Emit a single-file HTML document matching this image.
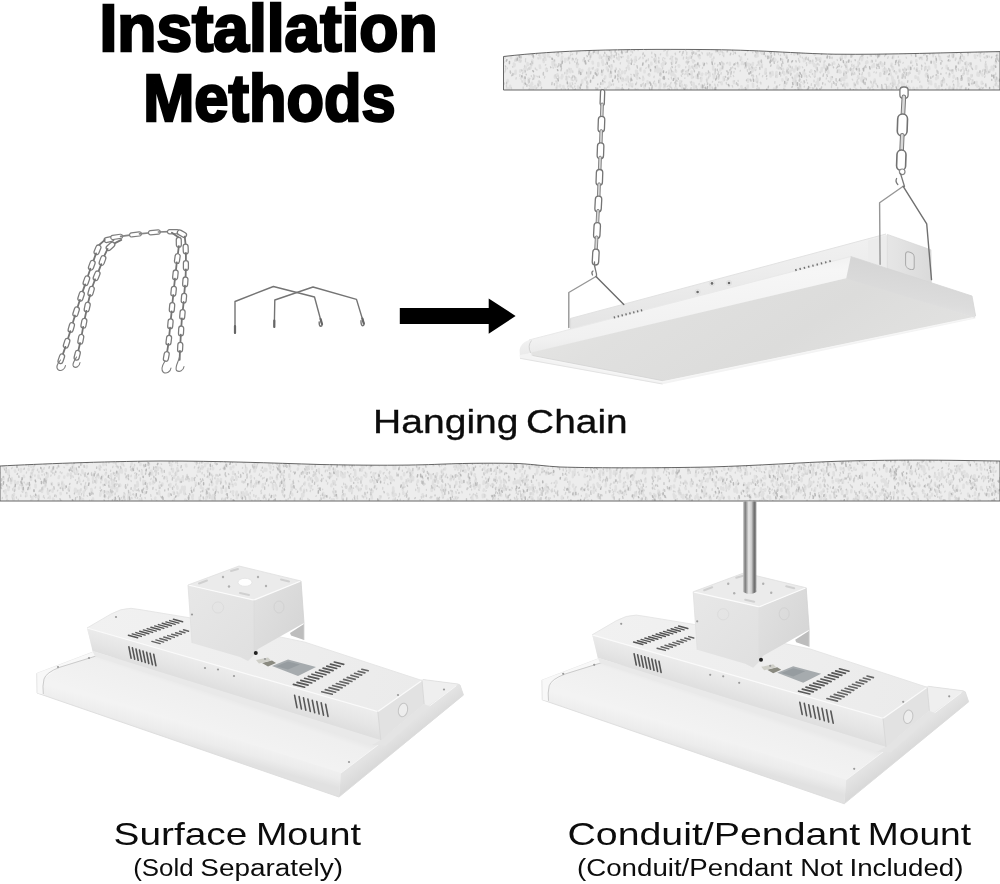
<!DOCTYPE html>
<html lang="en"><head><meta charset="utf-8"><title>Installation Methods</title>
<style>
html,body{margin:0;padding:0;background:#fff;}
body{width:1000px;height:884px;overflow:hidden;font-family:"Liberation Sans",sans-serif;}
svg{display:block;position:absolute;left:0;top:0;}
svg.ov{will-change:transform;}
</style></head><body>
<svg width="1000" height="884" viewBox="0 0 1000 884">
<rect width="1000" height="884" fill="#ffffff"/>
<defs>
<clipPath id="slab1c"><path id="slab1p" d="M503.5,56.5 C560,50 620,49 700,49.5 C760,49.8 795,53.5 835,54.2 C890,54.8 950,52.4 1000,51.6 L1000,90 L503.5,90 Z"/></clipPath>
<clipPath id="slab2c"><path id="slab2p" d="M0,466 C40,464 100,461.5 160,461 C220,461 270,463 320,464.5 C370,465.5 410,465.5 440,464.2 C470,463 500,463 520,463.6 C535,464.5 545,466.2 560,467 C600,468.2 660,468 710,467 C760,465.5 800,462.5 840,461.2 C880,460 920,460 950,460.3 L1000,461 L1000,501 L0,501 Z"/></clipPath>
<linearGradient id="conduit" x1="0" x2="1" y1="0" y2="0">
 <stop offset="0" stop-color="#bdbdbd"/><stop offset="0.16" stop-color="#7e7e7e"/><stop offset="0.42" stop-color="#e6e6e6"/><stop offset="0.62" stop-color="#cfcfcf"/><stop offset="0.84" stop-color="#6c6c6c"/><stop offset="1" stop-color="#9c9c9c"/>
</linearGradient>
</defs>
<g clip-path="url(#slab1c)"><rect x="500" y="40" width="500" height="60" fill="#ededed"/><path d="M569.8,83.6l-0.2,2.5M749.2,66.9l0.3,2.3M549.6,49.2l-0.1,2.7M881.9,48.1l0.2,1.9M616.7,87.7l-0.5,2.8M515.6,70.7l-0.1,2.9M610.6,65.7l-0.3,1.1M720.6,68.8l-0.3,1.5M611.7,67.3l-0.5,1.6M919.3,71.4l-0.3,2.3M996.3,84.1l-0.2,1.2M861.6,77.9l-0.1,2.9M915.5,76.2l0.1,1.6M941.6,83.5l0.1,2.0M520.2,58.2l-0.1,2.6M589.0,71.0l0.2,2.4M689.2,66.4l0.3,2.0M761.9,64.5l-0.5,2.0M524.6,77.5l0.1,3.0M698.6,55.2l0.5,2.0M886.0,70.7l-0.3,2.7M758.3,88.0l-0.0,2.2M636.8,71.0l-0.5,2.9M892.5,82.5l0.2,2.8M905.1,69.8l-0.1,2.1M530.9,84.5l-0.3,2.1M753.8,68.4l-0.2,1.7M770.6,74.2l-0.0,2.2M516.9,57.6l0.1,1.4M930.9,81.5l0.3,2.6M629.9,83.4l-0.4,2.3M511.3,48.6l-0.3,2.5M557.4,74.2l-0.4,1.7M582.3,70.1l-0.2,1.3M856.7,67.1l-0.0,1.6M514.7,64.2l-0.3,1.8M557.1,85.8l-0.3,2.0M804.0,82.3l-0.5,1.0M575.8,78.2l0.2,1.3M840.1,70.9l0.5,1.4M899.5,69.7l0.1,1.4M699.3,72.2l0.1,1.6M532.2,60.5l0.4,2.9M655.3,84.1l0.4,1.6M872.7,65.5l-0.5,1.5M939.7,49.6l0.5,2.6M786.4,55.2l0.5,2.7M852.9,69.4l-0.2,1.8M605.3,76.3l-0.3,1.9M554.9,76.0l-0.0,1.6M664.7,84.6l-0.5,2.8M602.8,61.8l0.3,3.0M671.5,56.9l0.3,2.3M966.3,62.4l0.2,2.8M743.8,89.4l0.2,1.5M545.1,55.1l-0.3,2.8M880.3,73.2l-0.1,2.7M672.1,60.2l0.1,2.7M977.3,85.3l0.1,1.3M554.8,49.6l0.4,1.1M894.7,82.8l0.1,1.7M891.6,63.9l-0.3,2.1M543.6,59.2l0.1,2.8M962.8,67.2l0.3,1.6M914.4,48.5l-0.4,2.3M560.2,85.2l-0.3,1.1M994.1,65.7l-0.3,1.2M623.0,79.2l0.4,1.2M691.0,88.8l-0.2,2.8M628.9,68.0l0.2,1.2M522.7,48.4l-0.2,3.0M799.5,66.9l-0.4,1.6M957.0,88.7l-0.4,2.9M610.0,73.9l0.0,3.0M845.0,75.8l0.0,1.5M655.7,58.3l-0.2,1.2M991.7,66.8l0.1,2.3M970.5,64.4l-0.2,1.6M660.4,83.6l-0.2,2.8M669.2,70.9l0.1,2.2M624.8,48.9l-0.4,1.5M776.9,51.0l0.1,1.2M647.5,81.3l0.4,2.0M579.6,69.1l-0.4,2.6M974.8,55.3l0.5,2.6M911.3,61.4l0.0,1.2M959.9,60.3l-0.4,2.8M955.5,49.3l0.4,1.6M902.5,86.1l0.2,2.7M845.7,55.5l-0.3,1.9M858.3,76.0l-0.4,1.5M981.8,81.9l0.0,2.1M926.1,67.0l-0.2,1.8M631.2,49.0l-0.1,2.3M786.6,50.6l-0.4,1.7M565.2,58.9l-0.1,2.7M702.3,73.7l-0.5,1.5M765.8,69.0l-0.1,2.3M844.2,78.7l-0.0,1.5M741.0,57.5l0.1,1.8M953.7,86.5l0.1,1.6M527.0,51.0l0.4,2.0M582.3,80.2l-0.2,2.8M847.2,83.7l0.2,1.7M869.0,73.0l0.4,2.7M980.2,72.0l-0.2,1.4M611.2,71.9l-0.4,2.5M841.8,78.1l0.0,1.7M584.9,78.7l0.5,1.1M904.5,74.4l0.4,1.5M979.8,53.8l0.3,2.6M830.9,77.4l0.4,1.9M985.7,64.1l-0.1,2.6M584.9,61.7l0.4,1.3M979.8,53.0l-0.1,2.2M561.7,60.4l0.2,1.5M505.0,56.0l-0.5,1.9M814.9,73.4l-0.3,2.7M644.5,70.8l0.1,1.5M627.7,76.7l0.3,2.6M986.9,70.9l0.4,2.0M885.2,72.0l-0.2,1.8M556.7,81.9l0.2,1.2M774.0,88.5l0.5,2.5M570.9,69.0l-0.2,2.1M753.0,63.0l-0.5,2.1M722.8,66.9l-0.1,1.6M892.2,76.7l0.1,2.0M690.6,56.6l-0.2,1.0M800.3,85.0l0.0,2.7M993.5,67.4l-0.1,2.7M873.1,89.5l-0.3,1.6M811.2,70.3l-0.5,1.7M696.4,65.9l0.4,1.8M793.5,78.8l0.2,2.8M747.9,79.3l0.1,2.3M815.9,65.1l0.1,2.3M968.7,80.9l0.3,2.7M908.2,73.4l-0.2,1.7M854.9,84.7l-0.3,2.1M917.0,68.4l-0.5,1.9M756.6,79.3l-0.1,1.8M829.5,48.8l0.4,2.0M846.2,64.9l0.1,2.4M606.8,56.7l-0.2,2.8M540.2,82.9l-0.1,2.0M757.2,78.9l0.2,1.3M857.6,82.2l0.1,1.5M618.4,71.6l0.3,1.3M933.8,61.8l0.5,1.4M854.2,83.4l0.4,1.1M812.4,61.3l0.3,1.9M893.3,56.0l-0.3,2.3M986.6,66.6l0.2,2.8M804.3,59.0l-0.4,2.1M571.6,78.1l0.3,1.7M622.5,78.2l-0.2,2.4M555.9,64.7l-0.4,2.0M595.8,50.3l0.4,2.2M610.6,49.5l0.3,2.4M982.2,73.8l0.3,1.7M561.7,77.1l-0.1,1.2M749.0,63.9l-0.3,1.3M910.6,67.4l-0.3,2.2M858.3,61.9l0.4,2.2M997.2,49.9l0.4,2.6M661.8,64.1l0.4,2.2M701.8,85.0l-0.3,2.5M957.1,48.6l0.2,1.3M531.4,63.9l-0.0,1.3M920.5,86.1l-0.4,1.1M920.8,49.8l-0.4,1.5M548.2,49.2l0.2,2.3M844.3,83.5l-0.1,2.3M816.6,88.7l-0.3,2.3M532.9,87.3l-0.2,2.2M803.9,71.5l-0.4,2.0M678.6,65.3l0.4,1.4M713.8,75.8l0.2,2.4M861.4,79.6l0.5,1.5M578.1,86.6l0.4,2.7M529.2,51.8l-0.0,2.6M687.0,89.4l0.0,1.1M723.3,53.4l0.2,1.8M941.5,49.0l-0.4,2.0M900.8,51.6l-0.1,1.1M867.1,61.2l0.3,1.3M904.0,83.9l-0.1,1.6M625.0,71.4l-0.2,1.7M892.5,88.2l-0.4,2.2M827.3,66.8l0.2,3.0M917.9,77.5l0.4,2.1M916.3,60.2l-0.1,1.3M762.0,52.1l0.1,1.7M524.7,82.2l-0.2,2.3M651.3,62.8l0.2,1.7M752.0,70.1l0.4,1.3M664.8,61.8l0.5,1.1M741.4,86.3l0.5,2.9M908.4,86.9l0.3,2.8M569.9,70.0l0.5,2.2M892.6,77.5l-0.1,2.5M971.3,75.0l-0.0,1.8M989.9,70.3l-0.4,1.3M844.6,71.6l-0.3,2.8M707.3,78.6l-0.4,1.1M774.2,59.2l-0.2,1.2M817.2,70.1l-0.4,1.2M925.8,75.0l0.4,1.3M513.9,63.5l0.2,2.7M644.0,85.4l0.4,2.2M946.7,65.9l0.0,2.4M972.5,81.5l0.3,2.5M999.1,58.8l0.2,1.4M885.9,69.6l-0.1,2.0M941.7,81.4l-0.5,2.2M926.0,67.3l-0.2,1.4M846.6,48.2l-0.2,1.2M943.9,79.4l0.0,2.9M787.3,71.2l0.0,2.1M909.8,88.0l0.1,1.8M656.0,60.7l0.1,2.0M776.3,89.0l0.1,1.3M997.3,78.9l-0.1,2.1M702.9,87.3l0.2,2.8M949.7,86.9l-0.1,2.7M733.8,81.4l0.2,1.7M742.3,62.1l-0.4,1.9M679.2,65.4l-0.3,1.0M632.3,84.0l-0.2,2.2M998.9,58.8l0.2,2.0M846.6,66.2l-0.0,2.6M858.6,68.6l0.2,2.9M548.4,53.4l-0.3,2.9M516.0,58.6l0.5,2.0M701.4,78.4l-0.4,2.7M807.1,89.8l0.0,2.1M675.3,87.7l-0.4,2.9M777.8,65.6l-0.4,2.3M634.9,59.7l0.3,2.0M929.4,81.0l-0.4,2.4M696.7,76.1l0.0,1.6M952.8,52.9l-0.4,2.7M695.0,86.0l0.0,1.4M710.1,85.3l-0.2,3.0M747.8,85.6l-0.3,2.1M880.6,62.2l-0.5,2.0M994.5,75.6l0.5,2.9M636.0,70.7l0.3,1.9M921.7,57.6l0.2,1.5M707.6,53.5l0.1,1.4M800.5,88.3l0.1,2.1M577.0,65.4l0.2,1.6M635.7,57.0l-0.0,1.7M671.2,73.4l0.4,1.4M848.0,70.5l-0.2,1.1M846.0,75.1l0.4,2.6M659.7,68.7l-0.4,1.7M572.6,58.8l0.0,1.2M852.4,71.6l-0.3,2.4M602.1,71.8l-0.1,2.8M505.1,48.8l0.1,1.6M545.0,57.4l0.5,2.4M672.5,73.2l-0.5,2.0M666.9,53.9l0.3,1.5M841.6,49.7l0.2,1.2M554.3,61.3l-0.5,1.5M518.5,53.8l0.4,1.8M820.3,58.2l-0.2,2.4M759.1,61.5l-0.1,2.9M902.4,74.9l0.1,2.7M935.6,65.0l0.1,2.4M765.3,71.7l-0.1,2.1M949.5,74.6l-0.4,2.1M755.7,55.4l-0.1,1.4M774.3,58.5l0.0,1.5M738.2,64.9l-0.1,1.2M828.2,70.9l0.3,2.1M862.4,76.8l-0.2,1.1M842.2,54.5l-0.4,2.8M939.9,57.1l0.3,2.7M669.7,85.3l0.3,1.3M692.7,66.5l0.1,1.2M637.1,76.0l0.1,2.6M507.1,88.0l0.1,2.8M691.6,71.6l-0.0,2.8M890.3,73.1l0.4,1.8M706.0,73.4l-0.0,1.1M521.6,77.6l-0.5,1.0M558.2,53.9l-0.1,2.0M637.6,89.3l0.2,2.8M901.6,82.4l0.3,1.5M622.2,71.6l-0.3,1.7M889.1,86.5l0.4,1.6M675.1,75.6l0.3,3.0M530.7,66.3l-0.2,1.8M908.6,66.5l0.1,2.4M760.9,50.4l0.4,2.3M588.6,75.0l-0.2,2.0M856.1,89.0l0.4,1.0M693.5,83.0l0.2,1.3M552.5,62.1l0.2,2.9M892.9,67.4l-0.0,1.9M887.3,78.4l-0.1,1.4M772.4,72.0l0.3,2.9M577.5,63.8l-0.5,1.2M540.1,55.7l0.2,2.5M899.5,60.1l0.5,1.3M913.5,87.8l-0.1,1.0M818.0,78.9l0.0,2.8M697.2,48.2l0.5,2.6M953.9,75.8l-0.3,1.7M888.2,87.3l-0.3,2.9M793.9,69.6l0.3,1.9M968.1,78.4l0.2,2.4M827.8,70.5l0.3,1.5M562.2,75.0l0.1,1.8M821.8,68.1l-0.3,3.0M509.0,88.1l-0.2,1.6M709.5,73.0l0.2,3.0M661.2,70.5l0.0,1.9M710.6,55.0l-0.1,1.8M602.8,82.3l-0.3,1.7M784.7,83.5l0.1,2.6M866.3,62.1l-0.2,1.3M676.6,59.7l-0.4,1.9M567.7,58.6l0.3,1.4M770.2,56.3l0.4,1.9M790.1,71.3l-0.3,1.8M813.8,51.2l-0.4,2.6M873.9,64.1l0.1,2.4M567.2,70.6l-0.3,1.1M692.7,60.0l0.5,2.3M680.4,83.2l0.2,1.5M675.8,70.5l0.3,1.2M606.8,67.5l0.3,1.6M797.5,73.8l-0.2,2.5M531.9,82.8l0.3,1.6M978.4,74.4l0.4,1.2M817.8,58.3l0.0,1.4M563.4,86.1l0.3,2.4M693.8,86.8l0.2,1.3M629.5,48.2l-0.3,1.2M882.4,63.9l0.1,2.0M636.0,74.8l0.4,2.3M752.9,83.9l0.3,2.9M712.3,59.4l0.3,1.2M567.4,71.5l-0.5,1.9M609.5,82.6l0.4,2.1M954.3,51.9l-0.5,2.4M713.1,66.6l0.1,2.9M597.4,69.4l-0.3,2.0M681.8,84.9l0.3,3.0M535.1,86.0l0.3,1.9M590.9,54.2l-0.2,2.8M524.4,69.0l0.3,3.0M700.0,89.7l0.3,2.6M824.1,64.6l-0.0,2.8M967.5,71.2l-0.0,2.8M715.1,72.7l-0.4,1.6M795.9,83.7l0.4,1.6M894.2,80.6l0.5,1.8M896.1,72.2l0.1,1.2M510.1,85.9l-0.1,1.7M776.8,74.8l-0.0,2.2M818.3,83.6l0.0,1.9M905.7,48.1l-0.2,1.3M609.3,85.6l-0.4,1.3M660.6,69.4l0.5,2.6M926.4,73.6l-0.4,1.1M816.5,82.4l0.5,1.5M776.5,72.1l-0.4,2.2M587.7,87.3l-0.4,1.5M643.4,78.5l-0.3,1.5M640.7,68.2l-0.2,2.5M937.1,89.0l-0.4,2.6M659.8,86.9l-0.4,2.7M722.8,63.3l-0.5,2.5M659.8,79.5l-0.5,2.8M795.4,75.9l-0.1,2.7M986.6,56.3l-0.4,1.2M794.6,53.1l-0.3,1.5M530.5,88.4l0.5,1.7M862.4,57.2l-0.5,2.9M990.9,49.4l0.1,1.5M507.6,80.1l0.3,1.2M520.4,70.2l-0.2,1.4M746.8,63.6l0.2,1.8M600.0,55.6l-0.2,2.4M966.7,65.9l-0.5,1.9M513.3,52.4l0.2,2.3M976.2,66.2l-0.2,2.4M539.8,65.6l0.3,2.4M976.1,83.0l0.1,2.1M752.0,68.1l0.1,2.4M929.0,66.9l0.3,1.9M838.8,70.0l0.3,2.1M804.9,58.9l0.1,1.6M525.8,67.2l-0.3,2.8M723.7,77.4l0.2,2.9M814.0,64.1l0.1,1.9M680.1,81.0l0.3,1.0M871.8,60.9l-0.2,1.0M795.8,81.1l-0.3,2.7M543.6,53.0l0.1,3.0M566.8,77.0l0.1,2.9M618.6,88.4l-0.3,2.4M883.8,69.2l-0.1,2.1M649.0,65.7l-0.0,2.1M933.5,51.1l0.4,1.4M805.1,73.9l-0.3,2.3M699.2,56.8l0.5,1.3M872.7,84.9l0.2,1.0M655.7,68.9l-0.5,2.4M687.3,71.3l0.0,2.7M660.8,73.4l-0.2,2.2M775.4,59.6l-0.2,1.0M546.0,68.7l0.4,2.0M874.7,79.5l-0.2,3.0M688.2,57.7l0.0,1.2M757.1,53.4l0.5,2.8M536.9,48.1l0.2,1.1M926.7,50.8l0.0,1.0M668.4,48.8l-0.3,1.0M602.5,60.4l-0.2,2.1M619.1,56.9l-0.3,2.8M779.0,67.0l-0.1,1.7M510.9,55.8l0.3,2.3M611.5,55.4l-0.4,2.8M898.0,84.9l0.3,1.3M577.6,49.8l-0.2,1.6M796.0,66.6l0.2,2.6M562.2,56.5l-0.4,2.5M976.5,82.1l-0.2,1.4M628.3,65.8l-0.5,1.5M628.1,56.2l-0.0,1.7M937.5,75.7l0.4,2.2M695.1,65.9l0.3,1.5M939.0,86.3l-0.4,2.2M538.9,81.5l0.0,2.8M960.6,87.1l-0.1,2.5M729.8,62.8l-0.0,1.8M511.5,53.3l0.1,1.3M936.2,77.9l-0.0,1.3M814.8,53.7l0.1,1.2M620.0,75.1l0.4,1.3M656.9,66.0l0.4,2.1M958.4,83.5l-0.4,2.4M595.8,70.5l0.2,3.0M598.3,63.0l0.0,2.9M935.5,84.0l0.1,2.6M833.9,62.4l0.4,1.2M519.2,59.4l0.5,2.2M607.5,58.4l-0.2,2.7M703.3,63.1l0.4,1.1M849.8,48.3l-0.4,1.2M686.3,85.4l-0.3,1.3M657.8,69.4l0.0,2.8M952.1,70.8l0.4,1.9M791.7,67.9l-0.1,2.0M718.3,51.1l0.3,1.4M569.4,56.7l-0.1,1.3M527.5,63.1l0.2,2.2M934.1,51.7l-0.3,2.3M673.2,72.2l0.2,2.7M992.7,48.8l-0.0,1.6M521.0,50.2l0.1,1.7M570.4,50.9l0.2,1.6M784.9,89.9l0.4,2.2M787.7,68.2l-0.4,1.8M534.3,75.7l-0.5,2.7M592.6,61.8l0.3,1.6M628.4,60.9l0.5,2.0M649.4,74.6l-0.1,1.1M963.8,57.1l0.2,1.7M784.1,72.2l0.2,2.2M663.4,62.8l0.0,1.8M784.8,84.7l-0.1,1.8M916.8,88.8l0.2,1.5M626.1,79.1l0.0,1.1M786.3,77.4l0.3,2.8M782.9,68.9l0.1,1.0M782.4,79.2l0.1,1.3M528.6,78.5l-0.1,2.6M844.8,75.8l-0.4,1.6M879.7,63.0l-0.1,1.3M917.0,88.1l0.5,2.1M589.2,68.6l-0.3,1.0M938.7,50.5l0.0,2.3M993.8,89.7l-0.2,1.2M995.7,61.9l0.4,1.4M809.8,60.9l-0.1,2.1M730.6,71.2l0.1,1.3M977.7,72.9l-0.2,2.6M579.8,48.3l-0.4,3.0M691.9,75.5l0.1,2.5M721.5,82.2l0.3,1.9" stroke="#e0e0e0" stroke-width="2.6" stroke-linecap="round" fill="none"/><path d="M529.9,78.3l-0.1,0.6M723.4,55.6l0.4,1.1M521.1,56.1l-0.1,1.8M696.7,86.3l-0.3,1.5M800.1,55.6l0.1,1.5M899.9,50.7l-0.3,1.7M925.3,66.5l-0.4,1.7M529.7,67.7l-0.0,1.7M755.2,54.9l-0.1,1.2M944.3,79.1l-0.4,1.1M575.5,88.8l-0.3,1.3M906.1,57.1l0.4,1.1M554.4,52.3l-0.3,0.6M689.1,61.5l-0.5,0.9M745.1,66.7l-0.2,1.5M791.8,61.2l-0.3,1.5M746.2,66.7l0.0,1.1M769.5,61.3l0.5,1.6M780.8,74.7l-0.2,1.4M797.4,67.4l-0.1,1.1M769.5,57.2l-0.3,0.8M798.5,58.3l0.4,1.5M880.6,61.8l-0.2,1.7M682.7,73.0l-0.1,1.4M894.0,83.8l-0.3,0.9M700.5,77.3l-0.3,1.4M696.2,85.9l0.1,1.7M890.7,83.3l-0.4,0.8M806.8,64.2l-0.2,1.4M718.7,81.9l-0.1,0.6M579.2,70.4l0.5,1.5M877.5,54.1l0.0,1.1M820.0,77.4l0.4,1.8M606.7,54.7l-0.3,1.8M984.2,53.0l-0.4,1.3M569.5,62.0l0.2,1.5M660.7,53.8l-0.3,1.0M619.8,68.9l0.4,1.1M547.6,70.4l-0.4,1.2M682.2,53.8l-0.2,1.7M535.2,68.0l0.4,1.2M860.4,56.7l-0.5,1.7M849.5,49.8l-0.3,1.6M899.3,82.2l-0.4,1.5M701.9,52.4l0.5,1.4M762.8,75.4l-0.4,1.4M687.6,62.7l-0.1,1.5M685.9,71.1l-0.4,0.8M621.3,48.9l-0.0,1.4M809.5,71.8l0.3,0.6M910.0,48.3l0.3,1.1M709.5,84.1l0.2,1.4M953.2,80.7l-0.5,1.3M728.9,76.9l0.1,1.2M676.6,83.3l0.1,0.8M720.1,54.2l-0.4,0.5M646.2,67.8l-0.4,0.5M898.8,89.2l-0.0,1.1M802.5,52.1l0.2,1.2M972.3,75.0l-0.1,1.2M956.2,70.0l0.2,1.1M720.6,50.8l0.4,1.3M686.5,52.0l0.4,0.6M558.2,75.5l0.0,0.6M955.9,57.8l0.1,0.9M788.0,71.5l-0.5,1.0M798.8,59.6l-0.1,1.3M636.5,89.8l0.5,0.9M740.4,70.4l-0.3,0.8M854.0,67.1l-0.3,1.3M756.5,75.7l0.2,1.5M708.7,76.8l-0.0,1.3M816.3,60.9l-0.4,0.6M986.4,85.5l-0.2,1.6M919.9,81.2l-0.2,1.2M556.1,89.9l0.4,1.8M724.5,78.6l0.0,1.7M565.2,89.0l0.3,1.2M812.4,50.7l-0.5,1.1M635.2,88.4l0.1,1.4M558.7,76.8l0.1,1.3M845.1,87.0l0.1,1.1M766.3,72.7l-0.3,1.4M530.6,52.9l0.1,0.6M654.6,81.0l-0.3,0.7M933.2,51.8l0.2,1.0M782.7,59.2l0.1,0.7M626.3,84.0l0.4,0.8M513.8,73.7l-0.0,0.9M719.9,82.0l0.3,0.7M519.9,74.7l-0.1,1.6M925.0,62.9l0.4,1.0M995.2,81.1l0.4,0.8M684.7,84.4l-0.3,0.9M631.1,77.0l0.0,1.8M556.3,76.8l0.3,1.7M503.9,61.1l0.2,1.5M998.1,85.7l0.2,1.5M692.1,49.5l-0.0,1.5M932.9,53.5l0.1,1.6M943.4,77.5l0.0,1.1M551.9,58.2l-0.3,1.2M681.2,75.0l0.4,1.3M718.3,71.3l0.3,1.0M814.0,87.7l-0.4,0.7M648.4,73.9l-0.3,1.3M637.9,73.0l0.3,0.8M556.0,80.9l0.2,0.7M891.7,87.6l-0.5,1.7M831.5,86.2l-0.0,1.5M875.9,59.9l-0.1,1.5M985.5,49.2l-0.4,1.3M883.8,88.8l0.3,1.1M618.8,49.2l-0.1,1.5M544.8,76.3l-0.4,1.7M806.6,62.6l-0.4,0.6M525.5,60.9l0.0,0.9M811.5,83.7l-0.3,1.6M814.9,84.8l0.1,0.8M994.2,74.6l-0.2,1.4M996.3,82.9l-0.2,0.9M505.4,68.2l0.3,1.6M576.3,58.2l-0.2,0.7M603.7,54.9l0.4,1.2M927.7,74.1l0.4,0.9M607.9,49.6l0.3,0.8M851.2,61.1l0.1,0.8M757.2,81.4l-0.4,1.1M538.0,57.7l0.2,1.2M779.4,48.4l-0.0,1.7M771.6,56.1l-0.3,0.8M804.4,86.2l-0.2,0.8M645.9,49.2l0.3,0.5M988.8,49.8l-0.0,0.6M654.2,58.4l-0.3,1.6M599.8,86.1l0.2,1.3M835.2,49.1l-0.5,1.8M616.0,68.0l0.4,1.6M507.4,53.8l-0.4,0.5M957.1,51.6l-0.3,1.2M506.9,59.7l0.0,0.8M937.3,70.3l-0.2,1.2M592.4,68.1l0.4,1.0M606.5,49.1l-0.2,0.6M611.8,64.7l0.2,1.6M797.9,82.9l-0.4,1.6M845.5,53.5l-0.1,1.0M638.0,49.9l0.2,0.8M978.8,86.2l0.1,0.5M597.8,69.9l-0.3,1.2M546.7,68.2l0.3,0.6M944.7,48.6l0.3,1.5M522.8,72.7l-0.3,1.1M909.9,71.8l0.4,1.6M985.0,75.8l-0.4,1.6M670.9,67.9l-0.1,1.2M909.0,72.5l-0.1,1.6M971.1,62.9l0.1,1.8M690.5,74.1l0.2,0.6M801.1,81.8l-0.1,0.6M794.4,50.6l0.4,1.5M814.0,80.1l-0.0,1.7M757.4,85.3l-0.2,1.4M795.9,80.2l-0.4,1.6M586.1,76.9l0.2,1.4M746.2,64.1l-0.2,1.7M645.5,49.0l0.1,0.6M832.4,57.2l-0.3,1.5M687.9,74.7l-0.0,1.5M904.8,67.8l0.3,1.4M782.7,71.6l-0.5,1.7M512.3,49.5l0.0,0.9M810.1,76.6l0.4,0.5M621.1,88.6l0.3,0.9M857.2,49.0l-0.1,1.2M996.7,57.7l-0.3,1.0M505.3,70.6l-0.3,1.3M919.3,57.3l0.2,1.7M985.7,66.4l0.1,1.6M858.3,65.2l-0.2,1.2M670.5,86.9l0.3,0.6M875.7,54.8l0.3,1.1M755.9,69.3l-0.3,1.2M995.4,79.4l-0.2,0.9M854.7,84.5l-0.2,1.2M681.3,70.9l0.2,1.7M615.1,48.8l-0.2,1.4M938.7,54.7l0.3,1.8M628.4,48.7l-0.4,1.6M578.6,64.1l-0.4,0.7M776.0,75.5l-0.4,1.5M528.5,67.8l-0.3,1.5M799.0,52.6l0.4,1.7M968.4,64.3l0.3,0.6M722.4,62.7l0.2,1.1M864.8,66.3l-0.3,0.8M529.3,88.4l-0.4,1.8M797.7,88.9l0.5,1.2M575.2,78.2l-0.4,1.6M604.6,87.8l0.1,0.8M956.1,77.9l-0.2,1.5M925.2,53.8l-0.0,1.0M852.8,49.4l-0.1,0.6M580.4,86.2l0.1,1.1M714.8,84.1l0.4,1.7M543.3,73.7l0.4,1.5M779.4,67.7l-0.5,0.7M515.0,59.7l-0.1,1.4M772.3,59.4l0.4,1.8M634.2,64.1l-0.1,0.6M623.0,78.5l0.2,0.9M516.2,77.7l-0.2,1.3M886.2,84.3l0.2,1.7M721.2,72.6l-0.2,1.5M942.0,81.0l0.3,1.4M528.4,82.1l0.2,1.1M826.4,65.8l0.4,1.5M997.2,48.7l0.3,1.7M799.0,80.0l-0.1,1.0M523.2,87.0l0.0,1.5M807.5,82.6l0.1,0.7M862.4,72.5l-0.2,1.8M840.6,80.7l0.4,1.0M707.8,54.2l-0.1,0.7M993.5,86.4l0.2,1.7M753.2,75.0l0.5,1.3M698.3,64.5l0.3,1.4M870.4,54.7l-0.2,1.3M639.3,58.7l-0.4,0.5M836.9,81.4l0.4,0.6M734.5,80.9l-0.4,0.6M907.8,52.1l0.2,0.5M524.8,65.4l-0.4,1.6M921.8,86.2l0.1,1.8M911.2,54.7l0.4,1.2M933.2,55.2l-0.1,1.6M757.7,81.5l-0.2,1.4M928.4,87.1l-0.5,1.6M510.5,72.2l-0.4,0.6M936.0,50.0l-0.2,0.9M966.5,87.8l-0.0,1.5M561.3,88.5l0.1,0.8M889.9,69.4l0.4,1.7M684.9,77.8l-0.1,0.6M837.1,59.5l0.3,1.0M607.9,86.7l-0.3,0.7M808.4,57.7l-0.1,1.6M566.2,76.1l0.1,1.1M558.6,50.2l0.0,0.9M601.9,56.7l-0.3,1.6M675.5,84.6l0.3,1.8M572.8,80.1l0.3,0.6M640.2,57.2l-0.4,1.1M834.4,82.6l0.3,1.4M583.2,59.4l-0.2,1.6M874.2,71.8l-0.3,0.7M961.9,85.9l-0.5,1.3M511.3,87.4l0.2,1.5M632.0,86.2l0.2,0.6M845.0,63.6l-0.3,1.6M981.2,87.2l-0.2,0.9M898.1,62.4l0.2,1.3M972.8,79.7l-0.1,0.9M540.3,81.8l-0.3,1.6M737.6,62.5l-0.5,0.9M798.6,87.9l0.3,0.7M887.2,70.5l-0.1,1.6M811.7,50.9l0.1,0.7M921.6,67.9l-0.0,1.7M706.8,80.9l0.4,1.7M830.8,57.0l0.1,0.9M521.0,60.5l-0.2,1.5M825.2,60.8l-0.2,0.7M662.6,59.7l0.4,0.9M788.7,68.9l-0.2,0.8M900.3,62.0l-0.1,0.7M837.7,87.5l-0.0,1.6M586.7,85.2l0.1,0.6M985.8,61.3l-0.2,1.2M709.5,52.6l0.2,1.3M567.2,48.4l-0.1,0.8M719.0,77.9l-0.5,1.2M512.5,66.6l0.3,0.7M873.7,81.8l-0.3,1.3M896.7,60.2l-0.5,0.7M697.0,88.1l0.2,1.4M691.9,66.3l0.5,1.7M668.8,72.7l-0.3,1.1M757.1,51.7l-0.1,1.5M828.2,80.8l0.4,0.8M993.5,68.4l0.1,0.6M840.2,57.2l-0.2,1.5M632.3,51.6l0.3,1.3M848.1,60.8l-0.4,0.9M590.2,58.7l-0.5,0.8M701.4,48.4l-0.5,1.2M692.7,52.1l0.2,0.7M539.1,80.8l0.1,1.4M766.8,78.3l-0.1,0.8M511.9,48.2l0.1,1.0M982.8,83.2l0.4,0.6M699.7,65.4l-0.4,0.7M727.6,70.9l0.2,1.6M598.3,73.0l-0.3,1.6M648.4,58.8l-0.4,1.8M817.3,63.2l0.0,1.4M611.8,84.1l-0.5,1.2M611.6,55.1l-0.3,0.9M823.7,73.6l-0.2,1.0M818.7,63.8l0.4,1.5M860.6,87.4l0.4,0.9M704.6,84.0l-0.2,1.3M642.3,84.0l-0.3,1.1M791.3,53.9l-0.2,0.6M888.2,56.7l-0.5,1.6M670.5,48.2l0.1,1.4M892.8,82.3l-0.1,1.7M685.2,73.6l-0.3,1.1M718.0,64.4l-0.4,1.7M864.2,77.7l0.1,1.7M853.5,53.2l-0.4,1.6M805.2,52.7l0.2,0.8M693.7,76.8l-0.4,0.8M675.4,69.2l0.4,1.6M691.1,87.6l-0.3,1.2M753.3,76.6l-0.4,1.5M986.3,71.4l-0.2,0.5M916.6,50.3l0.2,0.9M566.3,78.2l-0.2,1.3M905.7,51.1l0.3,0.8M802.2,57.1l0.3,1.0M589.0,50.7l-0.3,1.1M842.2,58.3l0.1,0.7M979.9,71.0l0.5,1.8M876.5,72.1l-0.4,1.0M765.6,55.5l-0.1,1.2M779.7,72.2l0.4,1.2M778.3,52.9l0.2,1.6M685.8,66.6l-0.1,1.2M835.8,89.9l0.4,0.6M995.1,84.2l0.2,1.1M734.9,63.7l-0.3,0.7M740.2,59.9l0.1,0.8M643.5,83.0l-0.3,0.6M713.9,57.0l-0.0,1.6M533.7,56.6l-0.2,1.4M651.8,56.9l0.3,0.5M664.8,58.2l0.0,0.6M870.2,87.8l-0.5,1.7M749.5,68.4l-0.1,1.2M964.0,72.9l0.5,1.1M760.4,48.3l0.5,1.3M827.6,56.4l-0.5,1.6M924.0,53.7l-0.3,1.6M575.7,58.6l0.2,1.2M757.7,51.0l0.3,1.7M685.2,49.6l0.5,1.0M977.1,55.1l0.5,0.8M671.3,77.2l0.3,1.7M902.8,73.7l-0.3,1.6M952.3,56.9l0.3,0.7M995.7,79.9l-0.4,1.3M765.6,55.5l-0.1,1.2M572.7,70.8l0.2,1.5M572.7,87.3l-0.1,1.7M989.0,56.0l0.3,1.0M545.7,64.6l-0.3,0.5M680.0,83.0l-0.4,1.3M898.9,79.9l-0.3,0.9M868.2,87.4l-0.2,0.8M668.2,88.6l-0.5,0.6M593.4,67.4l-0.5,1.8M899.4,70.1l0.5,1.7M859.8,58.5l-0.5,1.7M994.0,65.4l0.4,0.9M750.7,64.2l-0.1,0.9M626.4,69.8l-0.2,1.1M505.9,54.4l0.2,1.5M962.1,54.3l0.4,1.7M677.0,88.1l0.3,1.8M779.8,84.6l-0.4,0.7M572.0,77.2l-0.3,1.7M571.0,85.2l-0.4,1.6M519.6,59.7l-0.5,0.9M575.2,83.1l-0.0,0.6M859.1,78.0l-0.4,0.9M714.8,63.1l-0.2,1.1M739.2,88.9l-0.3,0.5M925.0,69.0l-0.4,1.5M995.0,48.1l-0.3,1.5M856.7,81.8l0.5,1.5M613.6,83.8l-0.3,1.3M611.4,51.8l-0.2,1.7M675.4,53.1l0.1,1.5M604.7,81.4l0.3,1.2M853.8,66.1l0.4,1.0M593.0,52.3l0.2,1.6M963.1,73.6l-0.1,1.8M534.5,76.0l-0.1,0.8M686.1,61.7l0.1,1.2M538.1,85.5l0.2,1.0M675.3,53.0l-0.3,0.9M654.2,76.1l-0.3,1.4M853.5,73.9l0.1,0.7M531.3,75.7l0.1,0.8M969.0,77.7l0.1,1.2M626.2,67.7l-0.0,0.6M984.2,69.1l0.4,1.5M784.3,53.5l0.0,1.8M715.7,50.6l0.3,1.4M767.4,55.8l-0.3,1.4M675.5,58.0l0.1,1.2M780.5,54.9l-0.3,0.8M756.7,88.5l0.4,1.4M547.9,49.0l-0.3,1.2M668.3,78.7l0.4,0.6M708.1,72.9l-0.4,0.6M837.6,49.6l-0.2,1.3M652.2,88.1l-0.2,1.6M694.3,60.4l0.5,0.7M826.5,78.0l-0.3,1.1M816.5,58.3l0.4,1.7M984.1,57.0l0.4,0.9M734.1,71.4l-0.3,1.4M733.0,51.5l0.5,0.5M861.9,74.1l-0.2,0.8M960.1,89.7l0.4,1.3M699.2,83.4l-0.3,1.4M961.1,48.6l-0.0,0.8M969.2,62.8l0.2,0.6M836.0,53.0l-0.1,1.4M712.3,87.5l0.5,1.6M851.9,64.2l-0.4,1.0M536.8,69.5l0.1,0.7M608.4,69.1l-0.0,1.7M962.5,60.6l0.2,0.7M718.6,76.1l-0.1,1.3M683.6,57.2l-0.3,1.8M732.2,85.5l0.5,1.6M812.8,60.0l-0.4,1.6M971.3,66.8l0.4,1.4M760.9,82.5l0.0,1.6M955.9,58.4l0.2,0.7M912.6,65.3l-0.1,0.5M615.0,51.0l0.1,0.7M691.6,81.5l0.1,0.8M636.4,59.9l0.2,0.7M643.0,76.2l0.1,1.4M832.1,76.6l0.3,0.6M760.6,82.2l-0.4,0.6M824.3,60.9l-0.2,1.8M727.2,62.5l-0.3,1.2M980.3,59.5l0.5,1.7M671.1,82.3l-0.5,1.7M985.5,64.1l0.3,0.9M586.2,49.1l-0.5,1.8M820.0,71.9l0.3,1.0M908.7,49.0l0.4,1.3M696.4,53.2l-0.5,1.2M693.7,69.0l0.1,0.8M914.4,67.8l-0.3,1.2M507.2,67.8l0.1,0.8M553.0,67.0l0.3,1.2M528.9,85.3l0.4,0.7M906.5,85.4l-0.4,1.7M682.8,72.9l0.2,0.9M935.5,56.5l0.4,0.9M667.2,51.4l-0.2,1.5M792.9,50.8l0.3,1.2M723.9,63.3l0.0,1.5M739.1,55.3l0.3,1.4M503.2,61.0l-0.3,1.3M929.7,53.6l-0.0,0.8M571.6,86.0l-0.1,1.2M806.5,79.4l0.1,1.2M841.7,66.3l-0.4,0.9M832.4,63.9l-0.2,1.7M892.0,66.5l-0.1,0.7M815.0,76.3l-0.3,1.0M580.6,72.9l0.4,1.4M746.4,61.9l0.1,1.5M863.4,50.7l-0.1,1.6M836.3,51.1l-0.5,0.5M540.3,51.7l0.0,1.6M533.6,90.0l0.2,1.1M832.2,62.9l0.5,1.6M706.7,62.9l0.3,1.0M752.6,52.3l0.2,0.5M576.7,80.2l-0.3,1.3M536.9,76.1l0.5,0.7M758.3,61.7l0.1,1.5M830.3,81.1l-0.5,1.1M582.2,89.6l-0.5,1.3M576.5,52.5l0.2,0.8M963.9,72.0l0.4,1.1M568.1,85.7l-0.3,1.3M884.6,55.3l-0.0,1.3M556.4,87.4l-0.1,0.8M819.5,59.3l-0.2,0.6M690.3,81.9l0.4,1.2M572.2,82.7l0.5,1.8M651.8,52.2l-0.1,1.5M821.1,52.1l-0.1,1.8M982.9,48.3l-0.0,0.9M686.4,56.8l0.0,1.8M968.6,69.8l0.1,1.5M571.5,77.3l0.2,1.5M747.2,50.0l0.5,1.6M536.2,49.8l0.2,1.1M726.3,82.4l0.1,1.6M809.3,75.0l-0.3,1.0M955.4,58.9l0.0,1.6M870.5,81.1l0.3,1.6M665.8,83.0l0.1,1.6M601.6,89.4l-0.1,1.5M653.6,82.2l-0.1,1.4M953.7,89.6l0.3,1.4M799.5,60.8l0.2,1.5M940.8,62.6l0.2,1.7M876.0,83.4l0.3,1.1M945.8,88.8l-0.4,1.3M623.0,56.3l-0.1,0.7M795.1,89.6l0.5,0.6M774.9,81.6l-0.1,1.6M852.3,79.2l0.4,0.9M941.3,48.5l-0.1,1.6M978.8,50.5l0.0,1.6M640.4,68.6l-0.1,1.6M729.5,85.1l-0.3,1.6M757.2,64.8l-0.3,0.7M558.6,55.0l-0.2,1.0M863.4,51.9l0.5,0.8M786.6,55.7l-0.5,1.6M654.7,53.8l-0.0,1.0M958.3,68.8l0.5,1.7M525.2,52.5l-0.2,1.6M733.3,75.5l0.4,1.1M516.2,59.0l-0.2,0.6M993.0,49.2l-0.3,1.2M871.4,54.9l0.0,1.5M981.5,51.3l0.4,1.2M761.9,65.9l0.3,1.7M891.5,65.1l-0.2,0.9M986.9,51.3l0.1,0.7M942.1,89.1l0.4,1.3M683.8,69.6l-0.3,1.5M852.1,65.8l-0.1,0.6M871.2,81.6l0.2,1.4M686.9,61.0l-0.1,1.0M665.1,85.2l-0.3,1.4M569.0,68.1l0.2,1.3M715.3,72.3l-0.2,1.3M903.3,62.5l-0.4,0.7M825.2,67.9l0.4,1.6M618.6,80.8l0.1,1.4M997.8,55.1l-0.1,1.0M637.1,73.9l-0.0,1.6M543.3,59.0l-0.0,1.4M525.7,58.6l-0.2,1.2M605.4,64.0l0.4,0.6M662.7,67.7l-0.1,1.2M961.1,54.5l-0.3,1.1M533.2,77.6l0.2,0.9M745.6,49.6l-0.5,0.6M789.0,65.0l-0.2,0.9M717.6,84.3l0.3,1.7M873.7,53.1l0.3,1.0M604.0,78.5l0.3,0.6M631.4,58.8l-0.4,1.8M950.2,60.4l-0.4,0.9M531.6,63.9l-0.2,1.1M506.4,85.4l0.1,1.6M570.8,54.3l-0.3,1.1M642.9,57.2l0.2,1.5M606.1,87.8l0.3,1.3M836.6,67.5l-0.1,1.1M536.9,87.6l-0.4,0.9M554.7,64.1l-0.0,1.4M667.4,86.1l-0.2,0.6M942.3,67.7l-0.4,1.1M799.7,78.6l-0.4,1.6M787.0,82.3l-0.4,1.7M574.8,86.0l-0.1,1.0M867.4,57.2l0.1,0.7M809.9,87.3l0.1,0.6M564.8,72.5l-0.1,1.3M699.1,65.4l0.3,1.6M727.2,79.3l-0.1,1.1M812.4,73.5l-0.0,1.1M931.3,61.9l-0.4,1.3M988.9,49.8l-0.3,1.5M830.5,48.2l-0.5,0.9M712.7,74.0l0.0,0.5M702.7,84.6l-0.5,1.0M622.4,84.7l-0.1,1.1M659.0,60.1l0.1,0.7M572.6,53.9l-0.3,0.7M947.4,56.3l0.4,0.5M746.4,88.7l-0.0,1.5M715.8,48.0l-0.3,1.0M691.4,84.0l0.4,1.3M885.0,83.8l0.0,0.6M911.8,80.6l-0.1,1.6M567.2,69.9l0.3,1.2M685.6,85.7l0.2,1.6M873.1,89.6l-0.2,0.6M722.6,65.7l-0.1,1.4M690.2,49.2l-0.0,0.6M663.3,57.7l-0.4,0.5M592.2,68.0l-0.0,0.8M871.4,51.2l0.3,1.3M952.6,89.8l-0.5,0.7M825.4,70.8l0.1,1.7M911.7,48.5l-0.3,1.1M593.2,51.0l-0.1,1.7M899.1,80.5l-0.2,1.6M884.6,67.1l0.2,1.7M949.2,88.0l-0.1,1.0M504.4,83.0l-0.3,1.3M812.3,87.6l0.5,1.7M670.4,58.5l-0.4,0.5M630.9,74.3l0.4,0.5M825.2,84.0l0.0,0.9M957.2,52.6l-0.4,0.6M603.9,55.5l-0.3,0.5M721.7,61.5l0.0,1.1M854.5,72.3l0.4,1.8M949.7,69.9l-0.0,0.8M747.3,69.6l0.2,1.7M968.2,54.3l-0.2,1.3M512.1,48.2l-0.3,1.0M665.6,49.8l-0.3,0.5M863.4,68.3l0.4,1.4M751.2,72.7l-0.1,0.8M875.0,81.0l-0.3,0.7M732.5,66.8l0.4,1.3M625.6,52.0l-0.2,0.6M686.8,53.1l-0.1,1.6M626.9,59.9l0.1,1.6M905.3,53.2l-0.1,0.7M733.6,53.7l-0.4,0.8M539.1,54.5l-0.2,0.8M802.1,90.0l-0.0,1.2M695.0,52.6l-0.0,1.4M830.6,64.6l-0.2,0.8M577.7,59.3l-0.3,1.7M800.2,86.9l-0.2,1.0M556.4,53.6l-0.0,1.7M664.3,49.8l-0.4,1.4M751.0,79.7l0.4,1.5M631.0,54.6l-0.2,0.7M672.8,56.3l-0.1,0.7M712.0,53.6l-0.4,1.6M696.1,64.2l0.1,1.0M759.6,73.3l-0.4,1.5M982.8,70.0l-0.3,1.5M738.1,80.4l0.1,0.9M936.6,70.2l0.2,1.2M961.0,58.9l0.2,1.8M698.4,55.2l-0.1,0.8M854.0,65.0l-0.4,0.6M969.8,51.3l0.4,1.7M806.6,75.7l0.3,1.6M857.4,79.7l-0.3,1.7M706.7,79.6l-0.1,1.4M998.7,49.9l-0.4,0.7M671.5,87.4l0.3,1.8M712.1,87.0l0.0,0.9M859.5,62.7l0.4,1.4M677.2,80.5l0.4,0.6M735.6,63.0l-0.4,1.7M759.2,88.1l-0.2,1.0M730.5,75.9l0.4,0.8M958.0,80.9l-0.1,1.2M620.5,62.7l-0.2,1.1M761.2,48.5l0.3,1.5M894.0,52.2l-0.3,0.9M783.8,88.4l0.3,1.0M522.4,76.2l-0.1,1.0M831.9,83.5l-0.1,1.7M756.0,67.2l0.1,0.6M872.1,86.6l0.1,0.8M898.4,56.4l-0.1,0.9M841.1,83.6l0.1,0.9M980.9,88.0l-0.1,1.6M851.0,68.2l-0.1,1.2M996.2,79.5l-0.5,1.2M663.6,84.1l0.4,0.6M722.3,51.6l0.3,1.1M527.8,68.8l-0.1,1.4M649.3,73.5l-0.4,1.2M946.6,83.9l0.4,1.2M809.9,49.4l0.2,1.7M578.3,48.9l-0.1,1.5M568.9,76.1l0.3,1.2M802.3,66.9l0.5,0.9M975.9,50.7l0.3,1.8M628.3,80.9l0.1,1.3M936.2,60.7l0.1,1.6M690.8,88.8l0.1,0.6M921.9,50.6l0.0,1.6M777.9,61.1l-0.4,1.5M744.1,63.4l-0.3,1.2M772.4,48.6l0.1,1.3M574.6,61.3l0.3,1.1M995.8,72.9l-0.1,1.5M952.1,87.8l0.1,1.8M544.7,57.1l0.1,0.8M675.7,66.2l-0.4,1.5M517.5,57.8l-0.3,1.3M964.2,70.2l0.0,1.2M533.6,74.8l0.2,1.3M668.9,85.3l0.3,1.1M503.7,72.4l-0.3,1.7M504.0,48.7l0.3,1.0M611.5,75.7l-0.3,1.5M946.2,72.6l-0.1,1.0M588.0,83.0l-0.3,1.6M531.5,54.2l-0.1,1.0M968.6,80.1l0.4,0.7M980.6,88.3l0.1,1.1M953.8,55.7l-0.2,1.8M676.8,58.2l0.2,1.4M616.7,57.1l0.3,1.8M636.6,82.1l-0.1,1.4M970.6,78.9l0.4,0.9M681.8,80.9l-0.1,1.1M603.4,69.6l-0.2,1.2M618.6,70.7l0.0,1.1M881.4,87.1l0.1,1.2M550.0,56.5l0.0,1.0M607.9,70.1l0.2,1.5M927.1,73.3l0.1,1.5M555.3,74.7l-0.2,1.4M898.4,63.4l0.4,1.6M712.6,81.4l-0.3,0.8M928.0,51.6l0.2,1.4M747.7,58.8l-0.1,0.5M702.6,67.5l-0.2,0.8M618.5,54.0l0.4,0.9M936.8,70.7l0.1,1.4M792.3,67.0l-0.1,1.4M658.7,57.5l0.2,1.0M522.0,80.7l0.2,1.5M830.8,53.7l-0.4,1.0" stroke="#d5d5d5" stroke-width="1.3" stroke-linecap="round" fill="none"/><path d="M751.8,66.8l0.5,1.3M710.1,84.4l-0.3,1.2M695.0,64.8l-0.4,1.5M819.8,88.6l0.3,0.8M691.9,52.7l0.5,2.0M863.7,81.6l0.3,2.1M735.0,68.3l0.3,0.7M953.4,88.1l-0.0,2.3M878.4,64.1l-0.3,2.1M533.5,56.3l-0.3,1.1M750.2,79.2l0.4,1.5M580.2,48.4l0.2,1.2M594.7,49.0l0.4,1.1M644.7,55.2l0.0,1.1M898.0,76.0l-0.1,2.2M608.1,56.2l0.1,0.7M665.9,63.0l-0.5,1.3M699.5,54.6l0.4,0.9M592.9,77.1l-0.2,1.4M985.4,69.6l-0.3,2.3M773.2,58.1l-0.4,2.0M622.2,87.7l-0.0,1.6M669.2,89.0l-0.0,2.4M745.5,53.6l-0.3,1.4M781.6,63.9l0.2,2.2M902.2,77.3l-0.0,1.0M672.0,66.7l0.4,0.7M983.1,87.6l-0.4,0.9M737.8,83.9l0.1,1.7M524.1,49.5l-0.0,2.3M731.0,67.6l-0.1,1.4M554.6,60.0l-0.4,1.0M716.5,75.9l0.3,2.2M898.9,60.9l-0.4,1.7M658.5,61.1l0.5,1.7M520.7,56.3l0.2,1.4M920.7,57.4l0.4,0.6M558.1,65.9l-0.4,1.1M850.9,69.2l-0.2,1.3M953.5,84.3l0.3,0.7M584.2,57.6l0.1,1.5M774.3,52.6l0.3,2.4M807.6,88.9l0.1,2.4M719.3,74.9l-0.5,1.9M850.5,68.1l-0.4,1.7M525.1,70.6l0.3,1.1M984.8,72.0l-0.2,2.3M676.3,62.0l-0.5,1.3M715.3,68.9l-0.1,2.4M628.8,88.4l-0.4,2.0M632.0,60.3l-0.2,2.0M961.9,77.7l0.3,2.2M837.5,70.3l-0.3,2.2M787.1,70.0l0.1,1.1M615.2,75.5l0.2,0.9M816.7,88.3l0.2,1.7M804.1,80.7l0.5,1.8M942.7,80.1l-0.4,0.7M892.7,85.8l0.3,0.9M505.4,65.9l0.4,1.0M558.9,63.7l0.1,2.1M927.7,70.0l-0.2,0.8M817.2,67.6l0.1,2.4M718.2,73.3l-0.2,1.3M648.7,64.7l-0.1,2.3M921.6,65.1l0.4,1.4M846.3,61.9l0.4,0.9M658.8,80.4l-0.1,2.2M683.2,51.4l-0.4,2.0M823.7,49.5l0.2,0.9M634.5,49.7l-0.3,0.8M991.8,56.9l-0.3,0.9M688.1,61.1l-0.0,1.7M788.3,78.8l-0.5,1.7M573.0,75.7l-0.3,1.5M949.5,73.3l0.0,1.5M957.6,77.8l0.2,1.9M780.8,67.6l0.4,1.6M783.8,52.5l0.3,1.1M621.1,56.6l0.3,0.9M877.4,85.4l0.3,1.7M617.9,75.0l0.2,1.5M953.3,54.4l0.1,2.3M561.0,66.7l0.5,1.8M903.3,74.8l-0.3,2.0M949.3,55.3l-0.4,1.7M929.7,51.6l0.2,2.1M761.5,60.7l0.0,1.8M820.2,61.2l0.0,0.9M850.9,55.3l0.1,2.0M503.3,50.9l0.4,1.6M526.9,84.4l0.0,1.8M731.4,71.8l-0.5,2.4M679.9,51.4l-0.3,0.7M788.1,72.2l0.2,0.9M972.2,68.4l0.4,1.2M955.6,68.6l0.4,0.8M771.5,55.4l-0.4,2.2M652.1,85.8l0.1,1.7M770.1,72.2l-0.1,1.6M879.2,66.4l0.0,2.0M795.9,60.8l0.3,1.1M914.4,89.5l0.4,0.7M859.2,68.6l0.3,2.3M865.9,78.1l0.5,1.8M790.2,66.3l0.0,1.0M539.2,76.3l0.2,1.1M884.7,62.2l-0.1,2.3M568.3,88.8l-0.1,1.2M543.4,72.5l-0.1,2.4M698.8,72.0l0.1,2.0M879.2,53.6l0.5,2.1M511.9,75.0l-0.1,0.7M674.9,82.4l0.3,1.2M850.2,88.4l0.1,1.9M609.5,56.4l0.3,1.3M855.1,59.7l0.2,0.9M884.0,73.5l0.1,0.7M786.7,70.9l-0.0,1.0M726.6,70.9l0.5,0.8M664.4,78.0l-0.3,1.3M550.6,66.9l0.3,0.8M995.9,58.6l-0.2,1.5M512.9,73.4l-0.1,1.8M717.3,69.1l-0.0,1.4M630.5,79.0l0.1,2.0M536.8,53.1l-0.4,1.3M635.9,83.8l-0.2,0.8M697.8,76.3l0.2,2.3M823.3,74.9l-0.2,1.3M838.6,64.2l0.2,0.6M770.1,51.1l-0.4,1.3M886.5,86.3l-0.0,2.3M703.9,65.1l-0.2,0.6M888.8,68.4l0.3,1.4M590.5,55.9l-0.2,1.3M965.6,88.0l-0.1,1.6M575.6,89.3l0.2,1.1M793.8,49.3l-0.2,1.5M745.3,87.4l0.3,1.9M876.9,64.1l-0.0,1.9M907.8,80.8l-0.2,1.4M940.9,62.6l-0.3,1.2M972.0,83.1l-0.3,0.8M660.0,72.9l-0.0,2.4M694.4,70.8l0.0,1.0M776.4,86.5l-0.1,1.4M979.8,48.4l0.1,2.1M782.5,61.3l0.4,2.0M936.3,74.4l-0.1,1.0M590.8,71.8l-0.2,1.9M948.1,67.8l0.0,2.0M941.9,84.2l-0.3,1.8M538.0,84.0l0.2,1.2M806.2,57.2l-0.3,2.0M911.7,50.4l0.4,1.2M810.2,60.8l-0.1,0.7M991.7,79.4l0.1,0.9M905.1,76.6l0.2,1.5M655.5,54.7l0.0,1.8M865.3,82.5l-0.1,2.0M623.4,89.1l0.4,1.3M678.1,77.9l0.2,1.3M832.3,76.8l0.1,0.7M961.2,69.8l-0.4,1.3M504.1,48.1l-0.4,0.9M688.5,69.5l-0.1,1.3M804.5,69.7l-0.0,1.1M593.5,75.7l0.1,2.4M541.6,87.3l-0.3,0.9M645.7,83.8l-0.5,2.2M802.4,48.3l-0.5,1.9M956.4,66.6l-0.1,0.9M577.2,62.2l-0.4,1.7M906.4,73.9l-0.1,1.2M861.9,54.9l-0.0,1.5M941.1,51.5l0.1,1.0M572.7,58.4l0.4,1.0M682.5,69.9l-0.3,1.6M519.0,52.1l0.4,1.3M906.6,69.2l-0.4,1.0M587.0,81.3l-0.1,1.8M770.8,59.3l0.4,2.0M894.4,70.6l-0.3,1.1M774.1,61.8l0.2,1.6M708.4,70.9l0.4,1.7M889.5,70.4l-0.0,0.7M604.7,52.2l0.1,1.4M966.0,68.7l0.3,1.6M725.4,76.5l0.3,0.9M826.9,74.7l0.4,1.7M506.7,82.1l-0.1,1.8M903.0,69.2l0.1,1.1M884.6,71.5l-0.1,1.4M699.2,50.3l-0.1,0.7M864.4,67.3l-0.5,1.4M987.1,56.0l0.4,1.2M651.9,87.4l-0.3,1.9M851.8,54.6l0.1,2.2M843.0,84.7l-0.4,1.3M845.8,65.8l0.3,1.4M614.1,55.4l0.1,1.7M735.1,52.3l0.4,1.3M877.6,56.0l0.1,1.8M970.8,63.0l0.0,1.7M906.5,72.8l-0.1,1.0M807.9,59.2l0.5,0.9M892.7,56.9l-0.3,1.2M998.3,60.2l0.3,0.8M824.8,48.6l-0.4,1.1M791.1,73.5l-0.4,1.6M829.4,56.5l0.3,1.7M859.4,73.4l0.2,0.9M597.7,88.1l-0.4,2.2M792.4,86.3l-0.5,1.1M819.9,78.1l-0.2,2.2M771.0,65.0l-0.4,1.2M940.9,73.5l-0.0,0.9M693.7,51.9l-0.4,1.4M595.9,87.6l0.3,2.1M872.1,60.5l0.2,1.2M836.2,83.4l0.0,2.0M822.8,82.6l-0.2,1.4M768.5,86.2l-0.3,1.7M833.4,81.6l0.3,1.8M528.9,79.8l0.4,2.3M853.0,50.5l-0.4,1.8M995.8,49.5l0.4,1.2M587.0,55.6l0.3,0.9M823.4,49.8l0.1,1.7M814.9,84.8l-0.0,1.8M814.8,70.7l0.5,1.0M622.5,52.5l-0.3,1.2M952.8,69.6l-0.1,1.3M958.3,62.3l-0.0,1.4M862.8,54.9l0.2,0.7M666.4,71.9l-0.3,0.7M600.7,82.7l-0.0,1.7M615.5,50.5l-0.3,1.7M728.3,72.4l-0.5,2.2M526.1,74.1l0.2,0.7M702.9,85.4l0.2,2.0M910.9,62.2l-0.1,0.8M660.4,73.1l0.5,1.0M996.6,77.3l0.1,1.8M655.0,60.3l-0.3,1.5M586.9,86.3l0.2,1.6M846.1,72.0l0.3,1.4M980.5,52.0l0.0,1.4M759.7,67.4l0.2,1.9M903.8,72.0l0.5,0.9M855.0,84.2l0.4,1.2M561.8,53.0l0.1,0.7M679.7,85.6l0.4,0.8M531.9,61.8l0.3,1.4M730.7,53.3l-0.4,1.6M798.0,87.1l-0.1,0.7M755.6,51.6l0.4,1.2M586.7,72.2l0.1,1.5M916.7,69.3l0.4,2.0M876.5,67.6l0.3,1.0M598.6,50.6l-0.5,1.1M722.6,66.8l-0.3,1.8M941.8,60.7l0.3,0.8M766.7,75.7l-0.3,0.9M609.0,65.7l0.3,1.1M579.2,71.4l-0.2,2.3M882.1,87.1l0.2,2.0M617.8,74.5l-0.3,0.7M839.5,65.9l-0.5,0.6M843.8,73.3l-0.1,2.0M868.1,87.1l-0.1,0.9M927.7,79.8l0.3,1.6M988.9,71.5l0.0,1.1M646.3,60.3l-0.4,1.5M530.3,63.6l0.0,0.8M639.5,77.8l0.5,0.7M671.3,62.6l0.5,2.0M746.6,79.9l-0.1,0.7M736.5,82.8l-0.1,1.3M729.9,69.6l0.0,0.7M691.8,56.4l-0.5,1.7M574.1,89.4l0.3,1.2M985.8,84.0l-0.4,2.0M927.4,58.1l-0.5,2.4M837.7,66.3l-0.2,1.1M859.9,51.5l-0.2,1.9M714.5,87.9l0.3,2.4M916.8,63.6l0.3,1.7M620.4,77.8l0.2,0.9M979.5,88.1l-0.3,2.1M815.8,57.7l0.2,1.3M574.6,76.3l0.3,1.4M799.7,83.9l0.3,2.3M856.6,52.2l-0.4,0.9M787.0,57.1l-0.1,1.2M588.3,60.3l0.4,1.1M616.5,53.0l-0.4,2.3M965.1,62.8l0.1,1.7M951.2,70.0l-0.1,0.8M671.4,70.1l0.5,1.6M761.2,60.0l-0.2,1.5M576.9,52.2l-0.3,1.8M613.6,60.7l0.4,1.4M634.0,74.4l0.4,1.7M821.6,87.0l-0.4,1.4M781.5,48.0l-0.2,2.3M752.0,75.0l-0.1,0.8M685.1,88.1l0.3,0.9M836.1,78.6l-0.0,2.1M980.0,71.0l-0.4,1.2M561.4,68.9l-0.4,1.8M533.4,78.7l-0.5,0.7M798.6,89.1l0.5,1.7M617.8,78.1l-0.1,1.6M792.2,77.2l0.2,0.9M922.3,50.4l0.4,0.7M833.4,67.0l0.2,0.7M898.7,64.1l0.3,1.8M521.9,70.0l0.1,0.9M643.2,53.0l-0.3,1.6M797.8,68.1l-0.2,2.0M937.8,71.3l0.2,2.1M568.9,57.7l-0.1,1.2M676.2,80.2l-0.5,1.9M960.9,78.8l0.3,1.6M510.2,71.0l0.4,2.0M649.3,87.9l0.5,1.7M777.0,85.9l0.0,1.6M930.8,77.0l-0.0,1.6M737.6,62.5l0.2,1.3M552.1,82.5l-0.3,2.1M852.0,73.3l-0.4,1.7M996.9,57.3l0.5,2.2M895.7,63.8l-0.4,0.7M881.7,84.8l0.3,2.2M641.0,84.8l0.2,1.6M554.4,83.8l-0.0,1.2M865.6,65.6l0.4,1.9M968.0,49.1l0.5,1.9M933.1,76.0l-0.4,0.9M800.0,79.3l-0.5,1.7M597.8,83.9l-0.1,0.7M637.0,65.7l0.4,2.3M727.6,50.9l-0.5,1.0M707.7,83.2l-0.3,1.4M598.2,51.9l-0.1,1.9" stroke="#c8c8c8" stroke-width="1.4" stroke-linecap="round" fill="none"/><path d="M961.5,76.6l0.1,1.6M506.8,59.7l-0.5,1.4M995.6,65.9l0.2,1.4M910.6,67.4l0.2,1.9M557.9,78.8l0.4,2.0M607.1,62.4l0.2,1.5M888.7,50.4l-0.2,1.0M974.5,81.9l-0.4,1.4M655.2,66.6l0.1,1.1M768.1,56.3l-0.2,2.3M799.9,72.5l0.5,1.5M829.0,63.9l-0.1,1.7M643.0,63.0l-0.4,2.1M770.6,60.5l-0.4,2.2M745.2,62.7l0.3,1.4M831.1,51.6l0.4,2.4M532.8,54.5l0.5,1.7M594.2,50.9l-0.3,1.4M697.9,62.9l-0.3,1.7M705.2,87.2l0.2,1.2M689.3,73.7l0.3,0.8M848.9,60.1l-0.2,2.0M960.6,56.6l-0.5,2.0M886.1,52.8l-0.4,1.9M826.0,68.9l0.1,1.6M615.4,76.6l-0.4,1.5M989.6,87.5l0.0,0.9M827.4,56.0l-0.3,1.8M609.2,48.8l0.5,1.8M704.4,63.5l-0.3,1.3M663.4,76.9l-0.2,1.8M728.3,84.4l0.4,1.1M863.2,68.5l0.4,2.3M596.6,74.1l0.3,1.5M557.5,69.7l0.3,0.9M610.6,71.2l0.3,1.9M712.0,62.1l0.4,2.3M702.6,85.5l-0.2,2.3M927.6,48.5l-0.4,1.5M784.7,81.4l0.1,1.9M519.2,55.1l0.2,2.3M732.1,48.5l0.3,1.7M615.2,70.3l0.1,1.6M797.3,82.8l0.2,2.4M856.4,68.5l0.2,1.3M608.7,58.3l0.4,1.8M585.1,60.6l-0.3,0.9M967.7,51.2l0.3,2.0M631.2,63.2l0.1,1.0M621.8,51.1l-0.3,1.6M532.9,70.7l0.5,0.9M779.7,72.6l-0.1,1.6M797.3,52.7l0.4,1.9M753.4,79.3l0.2,2.0M631.5,79.1l0.3,1.3M650.5,69.4l0.1,1.6M558.3,50.7l-0.2,2.2M991.8,74.9l0.1,1.4M853.4,90.0l0.4,2.2M999.7,79.3l-0.3,1.6M936.2,58.6l0.2,1.5M588.9,52.7l-0.1,2.0M863.4,79.9l-0.2,2.4M562.4,61.2l-0.3,2.3M869.6,66.8l0.4,2.1M750.6,71.7l-0.4,1.3M552.1,58.2l0.5,1.2M525.1,83.2l0.5,0.9M843.3,60.8l0.2,1.8M915.6,54.1l0.2,2.3M960.5,51.0l0.3,2.3M590.6,80.2l-0.1,1.9M840.8,59.1l-0.1,1.1M926.9,55.8l-0.0,1.2M808.6,86.8l-0.2,1.8M664.1,76.4l0.4,2.3M788.2,59.8l-0.3,2.2M948.7,59.8l-0.5,1.0M719.9,62.7l0.4,1.9M715.7,87.3l-0.1,2.4M589.6,50.9l-0.2,1.2M995.8,60.8l0.4,1.0M801.6,75.1l-0.0,2.1M889.3,73.8l-0.5,0.9M884.7,48.7l-0.1,2.0M957.4,49.9l0.4,0.9M602.7,80.2l0.1,1.1M601.7,70.3l0.1,2.0M931.1,61.2l0.1,1.7M961.5,75.8l-0.0,0.8M509.5,61.4l-0.1,2.2M707.5,86.8l-0.4,1.9M993.5,75.6l0.3,2.2M996.8,55.0l-0.5,0.9M753.5,48.0l-0.4,2.0M896.1,60.8l-0.4,1.6M577.2,48.0l-0.5,1.8M560.9,64.3l0.0,2.3M792.5,60.9l-0.5,0.8M766.8,89.3l-0.2,1.8M683.9,88.3l0.4,1.1M716.2,78.3l-0.5,1.6M567.3,82.0l0.1,1.8M968.7,83.8l0.4,1.4M748.9,73.1l0.2,1.0M627.5,50.5l-0.4,1.7M968.6,89.0l-0.3,2.0M745.4,63.7l0.3,2.2M650.9,84.0l-0.2,1.1M517.5,58.2l-0.4,2.0M649.8,82.1l0.4,1.0M612.7,80.0l-0.1,1.4M663.5,70.9l-0.1,1.5M764.3,52.7l-0.2,1.8M734.2,63.9l-0.2,1.0M813.8,48.4l0.4,1.1M717.0,49.3l0.2,2.0M800.3,49.7l-0.5,2.4M827.5,66.9l0.0,2.1M727.9,78.0l0.2,0.9M956.0,65.9l-0.1,1.6M697.6,74.3l0.2,1.7M821.6,52.3l0.0,2.0M580.0,87.3l0.2,1.1M673.7,78.5l-0.4,1.8M799.1,75.2l0.4,1.6M521.8,75.7l-0.0,1.0M581.1,84.2l-0.2,1.4M595.3,72.8l0.1,1.1M771.2,52.6l-0.4,1.1M525.0,76.9l0.1,1.6M792.6,82.7l0.4,1.9M839.8,78.9l-0.4,1.7M780.7,58.4l0.1,1.5M585.4,61.8l0.4,2.1M878.3,55.2l0.4,1.4M927.8,75.8l0.4,2.2M896.2,86.9l0.4,1.5M580.7,72.6l-0.0,1.8" stroke="#b8b8b8" stroke-width="1.5" stroke-linecap="round" fill="none"/></g>
<use href="#slab1p" fill="none" stroke="#565656" stroke-width="0.9"/>
<g clip-path="url(#slab2c)"><rect x="0" y="455" width="1000" height="50" fill="#ededed"/><path d="M956.0,498.8l-0.4,1.1M835.5,489.6l-0.2,2.3M605.9,484.1l-0.3,2.2M430.7,474.9l0.5,2.4M949.4,481.4l-0.2,1.9M35.9,459.2l-0.2,1.9M380.0,496.3l0.1,2.1M236.1,459.0l-0.4,1.7M510.2,500.9l-0.3,2.3M893.6,492.3l0.4,2.5M762.9,492.0l0.5,1.7M961.9,464.9l0.2,2.5M461.4,480.8l0.4,2.0M500.8,493.8l0.4,1.7M899.7,477.8l0.4,2.1M723.8,478.9l-0.2,1.4M699.6,465.1l-0.2,2.8M911.4,471.3l0.2,2.9M504.2,480.3l0.1,2.3M311.8,466.9l0.4,2.0M623.3,461.2l0.2,2.6M907.7,466.2l-0.4,2.5M652.9,469.7l0.4,1.5M106.3,480.5l-0.3,2.7M210.5,495.9l0.2,1.8M31.9,473.6l0.2,1.3M82.9,499.0l0.2,1.1M21.1,469.0l-0.3,2.6M183.7,487.7l-0.5,1.8M990.0,464.5l-0.2,1.1M615.2,489.9l-0.2,1.2M30.8,477.3l0.2,2.5M902.0,490.5l0.2,2.7M472.8,467.7l-0.2,2.3M102.0,477.3l-0.4,2.7M585.0,474.9l-0.4,2.0M959.7,469.1l-0.1,2.2M18.0,482.0l-0.4,1.3M33.6,464.9l0.1,1.2M508.3,500.3l0.5,2.9M232.5,477.1l0.1,1.5M624.2,492.4l-0.2,2.4M423.0,480.6l-0.5,1.0M408.7,462.8l-0.3,2.4M99.8,465.8l-0.3,1.5M520.7,478.0l0.1,1.6M212.4,497.0l0.2,2.9M433.7,480.0l-0.4,2.2M418.0,480.6l-0.4,1.4M802.7,473.7l0.4,2.0M610.5,470.5l-0.1,3.0M19.1,487.5l-0.2,1.2M840.6,486.9l-0.0,1.0M410.7,478.9l0.1,1.4M73.8,470.2l0.4,1.7M76.5,490.5l0.1,1.4M391.8,477.9l-0.1,2.5M121.7,463.2l0.4,1.2M641.0,499.3l-0.5,2.4M659.2,491.4l-0.0,2.4M357.6,477.7l-0.2,2.6M526.3,478.5l0.3,2.9M932.1,493.9l-0.3,1.6M488.8,469.2l0.2,1.9M918.6,483.2l-0.4,2.6M356.1,500.9l-0.1,1.3M66.8,461.7l0.5,2.8M648.1,463.5l-0.3,1.6M670.7,487.3l0.0,1.9M112.1,481.3l0.3,2.9M96.2,480.2l-0.2,2.4M894.9,477.8l-0.1,2.4M995.1,491.7l-0.4,2.1M441.2,459.3l0.4,2.2M180.4,479.9l-0.1,2.0M710.5,498.3l-0.0,2.4M962.0,472.2l0.2,2.5M761.6,494.6l0.1,1.4M402.7,486.7l0.1,3.0M11.6,478.0l0.4,2.4M650.1,493.1l0.4,1.0M729.5,484.1l0.4,2.8M100.5,493.1l-0.3,2.5M744.2,483.2l0.3,1.4M137.9,484.3l-0.2,1.9M566.1,478.1l0.5,1.4M72.8,458.1l0.3,2.0M658.4,490.5l0.2,2.0M334.9,469.5l-0.5,2.0M79.8,490.4l0.3,1.3M784.4,475.4l0.3,2.3M864.0,463.8l-0.1,1.3M464.7,470.7l0.1,1.0M966.9,473.8l-0.1,2.1M442.8,495.4l0.1,1.6M483.8,481.2l-0.4,2.8M824.4,471.1l0.3,2.3M653.4,474.9l-0.4,2.7M633.3,474.8l0.4,2.1M797.9,485.0l-0.3,1.6M457.5,468.0l0.5,1.6M112.0,493.2l-0.1,1.8M318.4,461.3l-0.3,1.9M442.0,470.6l0.4,2.8M442.0,485.5l-0.2,2.9M99.6,468.2l0.2,1.4M373.8,473.3l-0.3,2.6M808.5,485.2l0.3,1.8M342.3,495.8l0.0,2.9M690.0,498.8l0.3,2.5M869.3,498.2l0.5,2.5M291.6,484.8l-0.1,2.3M395.2,465.5l-0.1,2.9M476.6,496.4l0.5,1.4M127.1,459.2l-0.1,1.7M917.6,496.0l-0.1,2.5M542.7,468.2l-0.1,2.7M284.7,485.4l-0.2,1.3M926.2,462.1l-0.3,1.3M251.0,476.1l-0.2,1.5M246.5,468.3l-0.2,2.2M372.8,491.0l-0.4,1.1M850.8,476.5l-0.4,2.6M523.0,494.4l0.3,1.7M610.4,475.0l-0.1,3.0M473.8,484.6l0.3,1.6M597.5,483.3l0.5,2.1M988.9,494.2l-0.1,1.9M524.8,460.0l0.5,1.2M128.2,498.3l0.4,2.4M77.3,471.1l-0.5,2.6M106.0,473.1l-0.4,1.3M669.8,462.0l0.1,2.9M49.8,496.6l-0.0,1.5M558.8,464.0l-0.4,2.0M199.6,497.5l0.0,2.6M681.8,495.6l-0.0,1.3M131.8,463.0l-0.3,1.2M53.2,467.3l0.1,1.8M858.6,496.9l0.0,2.4M917.0,465.0l0.3,1.2M627.1,467.0l-0.2,1.8M430.9,476.4l0.3,1.8M811.5,482.2l-0.2,1.9M765.4,500.4l0.2,1.5M699.1,486.3l0.1,1.1M202.0,466.4l0.1,2.2M625.4,489.9l-0.0,2.4M47.8,491.2l0.3,2.6M598.1,459.6l-0.4,1.4M635.8,481.4l0.5,1.4M978.0,496.7l-0.2,1.9M208.9,493.4l-0.2,2.4M902.5,482.5l-0.1,1.8M720.5,477.6l-0.4,2.3M702.3,469.7l-0.3,2.8M333.2,481.1l0.0,1.8M923.8,466.6l0.2,2.5M786.2,477.2l-0.2,1.9M473.2,468.9l-0.0,1.4M192.1,478.2l-0.2,2.1M170.4,484.0l-0.3,2.7M615.7,486.3l0.2,2.8M307.8,466.9l-0.2,2.7M12.6,495.4l-0.2,1.4M318.9,469.0l-0.2,2.4M440.6,476.0l-0.5,2.7M579.8,463.7l0.1,1.3M375.7,460.8l0.4,2.2M645.1,479.3l0.4,2.6M151.3,470.9l0.4,2.9M202.9,488.3l0.1,2.7M702.2,480.5l-0.3,1.5M61.9,486.6l0.1,1.3M391.2,476.8l-0.1,2.9M474.8,474.3l-0.3,1.4M532.6,493.1l0.4,1.2M674.5,460.3l-0.1,2.4M514.7,462.3l0.0,2.0M782.5,483.0l0.2,2.4M221.1,459.1l-0.4,2.0M141.8,471.8l0.1,2.1M646.4,498.5l0.1,1.2M86.6,486.8l-0.4,1.9M310.5,486.4l0.4,1.9M355.2,472.6l0.1,2.8M107.0,491.7l0.4,1.7M635.9,492.6l0.0,2.8M967.3,459.1l0.3,1.7M8.2,486.9l0.2,3.0M862.2,461.3l0.1,2.1M435.5,476.0l-0.3,2.6M45.0,483.5l0.3,2.9M673.2,470.7l-0.5,2.8M246.6,491.9l-0.1,2.8M909.2,462.8l-0.4,2.2M233.4,466.2l-0.1,1.0M500.2,470.1l-0.4,2.3M517.4,480.7l0.4,1.8M126.6,476.4l-0.1,1.9M973.7,482.6l-0.1,2.0M437.5,498.9l0.1,2.6M162.4,483.6l-0.1,1.3M23.0,488.3l0.1,3.0M569.8,468.8l-0.0,1.9M423.0,469.6l0.3,1.4M952.5,493.3l-0.5,2.2M302.2,494.1l0.0,2.9M568.9,487.5l0.2,1.5M365.0,494.4l0.2,1.9M556.1,481.0l0.5,1.9M754.8,476.1l0.4,2.0M747.0,486.1l-0.4,2.9M598.0,484.8l0.5,1.9M967.5,474.8l0.3,2.2M696.1,473.6l-0.2,2.6M146.9,486.6l-0.1,2.3M498.8,500.5l-0.1,2.6M911.7,482.5l0.1,1.8M783.6,496.5l0.2,2.3M400.8,459.7l-0.4,1.9M942.3,473.6l0.2,2.2M178.6,493.8l-0.4,1.7M599.8,475.3l-0.1,2.8M94.4,458.8l-0.0,1.1M714.2,460.2l-0.0,1.7M897.6,499.7l0.1,2.8M575.1,467.6l-0.3,2.2M303.2,493.7l0.2,2.1M465.4,470.0l0.1,2.0M241.7,494.4l-0.3,3.0M242.2,492.9l-0.3,2.4M586.0,468.2l0.1,2.7M510.8,465.0l-0.0,1.8M361.8,465.7l0.2,1.4M925.0,494.3l0.3,2.2M133.6,467.0l-0.5,2.4M83.9,491.5l-0.3,1.4M395.4,494.0l0.4,1.0M304.9,482.6l-0.4,1.9M958.3,465.6l0.4,2.6M453.9,499.3l-0.4,1.1M483.8,461.2l0.0,2.6M798.9,470.3l0.4,1.1M208.4,475.9l0.1,1.3M463.9,466.5l-0.2,1.1M783.5,464.6l0.1,1.5M635.1,492.6l0.3,2.3M155.4,497.6l-0.4,1.1M103.6,491.3l0.4,2.0M974.9,498.9l-0.1,2.2M957.1,489.5l0.1,1.4M20.3,458.8l0.2,2.3M861.1,490.4l0.2,1.3M981.2,487.1l-0.2,2.0M63.7,484.9l-0.4,2.9M820.9,496.6l0.3,1.7M155.8,470.9l0.4,2.1M535.8,461.8l0.1,2.9M778.9,467.9l-0.4,1.7M186.8,476.8l0.2,1.8M833.6,472.4l0.2,2.9M344.8,465.9l0.2,2.9M43.0,487.4l-0.1,1.8M765.6,467.6l0.0,1.5M904.6,461.7l0.2,2.7M177.3,486.5l0.2,2.2M537.1,471.5l-0.3,2.0M455.3,475.5l-0.3,1.2M344.4,474.9l0.2,2.1M259.1,481.9l-0.3,1.7M139.8,499.3l0.3,2.9M171.5,464.5l-0.2,1.2M426.2,458.3l0.2,1.8M834.0,466.2l0.3,1.0M380.2,471.5l-0.2,1.3M266.3,469.0l0.0,1.5M813.2,471.3l-0.0,1.8M842.3,491.0l-0.3,3.0M805.5,470.7l0.0,2.2M574.7,471.8l-0.5,1.1M927.5,496.1l-0.4,1.9M838.1,479.6l0.1,1.9M157.6,467.4l0.2,2.6M983.8,476.6l0.4,2.9M507.6,496.4l-0.4,1.3M814.1,464.1l0.2,2.0M679.3,467.5l-0.5,2.6M562.0,496.6l-0.2,2.1M997.2,489.3l0.4,2.6M935.0,482.7l0.0,2.6M255.1,470.0l-0.5,1.5M619.9,475.2l-0.4,2.8M783.0,466.4l-0.2,1.6M957.3,485.8l-0.3,1.9M47.7,473.8l-0.1,2.9M675.5,495.9l-0.2,1.1M417.9,467.7l0.2,1.8M134.7,487.9l0.2,1.6M173.7,491.9l0.3,1.8M967.5,483.0l-0.1,1.0M975.9,486.0l-0.0,2.5M940.5,497.0l0.1,2.2M103.1,458.3l0.2,1.4M847.3,491.1l-0.5,2.8M28.6,469.0l0.1,1.0M929.7,496.7l0.2,1.2M671.0,486.3l-0.3,1.8M886.2,496.9l0.0,2.4M33.0,469.9l-0.3,1.5M216.0,486.7l-0.3,2.4M901.8,458.0l0.1,2.9M645.3,470.1l0.4,2.4M205.3,463.7l-0.3,2.6M105.5,479.2l-0.3,1.4M283.7,461.6l0.1,2.6M653.3,470.6l0.5,2.6M999.6,459.8l-0.4,1.6M474.8,486.3l-0.1,2.2M963.6,484.8l-0.1,3.0M644.8,462.3l0.1,2.1M232.9,484.8l-0.0,1.3M607.1,478.6l-0.3,1.3M375.0,486.0l-0.3,1.9M337.9,471.3l0.1,1.3M471.0,472.0l0.4,1.0M45.3,463.0l0.3,1.6M936.5,490.6l0.3,1.4M32.5,462.8l0.1,1.2M593.6,484.9l0.3,2.9M743.8,465.4l0.4,2.8M828.3,461.5l0.0,2.4M537.1,469.5l0.3,2.5M769.7,471.0l-0.4,2.5M680.6,459.3l-0.4,1.0M652.8,500.3l0.1,1.9M586.3,494.2l0.3,2.9M331.6,461.1l-0.2,2.8M758.7,495.2l-0.3,1.3M422.6,494.3l0.5,2.7M273.1,484.8l-0.1,2.7M587.0,467.7l-0.1,2.7M486.3,486.2l0.3,1.6M459.2,476.5l0.2,2.5M709.7,495.6l-0.1,2.6M643.8,495.1l0.2,1.1M527.5,475.3l-0.2,1.2M750.0,496.0l0.3,3.0M880.2,493.5l0.2,1.3M869.1,490.3l0.2,1.6M389.9,476.6l0.2,2.5M136.0,485.6l-0.3,1.1M824.8,497.3l0.3,1.5M182.4,479.4l-0.4,1.7M433.2,481.7l-0.4,2.7M287.6,458.2l-0.2,1.4M820.0,498.4l-0.0,1.4M523.7,479.1l0.5,2.9M38.5,475.5l0.1,2.1M530.3,493.3l-0.0,1.2M830.4,465.3l0.1,1.3M145.1,481.4l-0.3,1.2M334.3,491.7l0.1,2.2M627.8,475.1l0.1,3.0M628.6,460.9l0.1,1.5M955.9,488.3l0.3,1.1M212.3,483.6l-0.4,1.4M772.7,478.9l0.2,2.2M593.9,475.9l0.0,1.6M246.0,469.3l-0.2,2.6M721.0,487.2l0.3,1.9M330.4,458.2l0.2,2.7M738.3,497.6l-0.1,1.8M612.6,495.5l0.3,1.6M957.1,468.9l-0.3,1.0M645.3,467.3l-0.4,2.9M894.8,473.2l-0.2,2.8M111.1,487.0l0.4,1.6M822.7,469.0l0.1,2.0M772.9,469.3l0.0,2.1M588.0,481.9l-0.1,1.9M395.1,500.8l-0.4,2.0M393.7,490.9l-0.4,2.4M413.2,477.4l-0.2,2.7M916.2,493.0l-0.0,1.0M532.7,485.1l-0.3,2.8M828.5,458.4l-0.2,2.7M26.2,493.0l0.2,2.9M778.1,475.1l0.2,1.5M808.6,469.5l-0.2,1.8M264.8,495.2l-0.5,1.0M184.0,491.7l0.3,2.1M695.8,496.2l-0.5,2.2M102.3,475.7l-0.2,1.2M274.6,500.3l0.2,2.9M421.2,475.8l-0.0,1.1M143.4,480.9l-0.1,2.6M706.3,493.0l-0.1,2.8M237.1,496.3l-0.2,2.0M683.4,495.1l-0.1,3.0M264.9,468.8l-0.3,1.6M919.6,485.3l-0.4,1.1M185.2,499.6l0.3,1.7M224.8,466.4l-0.4,2.9M500.8,480.8l0.3,1.7M854.2,467.9l-0.0,1.6M479.6,485.2l-0.2,2.5M940.6,477.6l-0.1,1.1M529.8,465.9l0.1,2.8M520.1,470.2l-0.2,1.3M641.4,487.4l-0.5,2.4M778.0,487.9l0.0,2.4M853.7,499.4l-0.1,2.2M541.4,492.4l0.3,2.4M309.1,483.9l0.1,1.5M14.9,481.0l0.4,2.5M485.1,495.5l-0.5,1.4M553.1,472.8l0.1,1.8M755.7,495.1l0.1,1.6M629.9,487.5l-0.0,2.2M809.4,458.9l-0.3,2.6M182.2,486.9l-0.2,1.9M78.2,460.2l-0.4,1.5M696.5,466.6l-0.1,1.8M704.7,493.1l-0.3,2.3M137.4,482.1l0.2,1.7M216.0,487.7l-0.2,1.7M180.7,490.4l0.0,2.0M832.4,459.2l-0.2,2.1M243.8,493.6l-0.1,1.5M433.9,463.9l-0.5,1.6M500.3,485.0l0.5,3.0M332.0,499.4l-0.4,1.2M530.0,487.4l-0.5,2.2M407.9,479.2l0.3,1.8M744.2,461.7l0.2,1.9M788.3,486.5l0.2,3.0M393.5,493.9l0.1,2.2M593.6,490.4l-0.0,2.4M787.4,476.1l0.4,2.5M529.8,464.4l-0.3,2.8M211.0,460.0l-0.1,1.8M818.3,465.4l0.3,1.8M23.8,475.8l0.3,1.3M299.2,464.1l-0.3,1.2M703.0,463.0l-0.3,1.1M42.0,489.4l0.0,2.5M333.9,459.7l-0.3,2.4M549.1,500.5l0.2,1.5M437.8,481.0l0.2,1.8M520.5,459.4l-0.3,2.6M350.8,478.6l0.3,2.2M118.7,474.5l-0.0,2.2M243.2,492.2l0.1,2.9M534.8,464.7l0.3,2.0M315.9,476.8l-0.2,1.9M616.3,470.7l0.3,2.8M307.6,460.9l0.3,1.0M423.3,463.2l0.3,1.1M206.1,497.6l0.1,1.7M346.7,486.2l-0.2,1.3M122.4,460.7l0.5,2.1M6.6,495.8l-0.3,1.6M31.3,473.0l-0.0,1.2M458.6,465.2l0.1,2.8M759.4,468.3l0.2,2.4M774.2,466.0l-0.0,2.9M80.4,497.6l0.4,1.6M207.7,461.1l0.0,2.0M673.9,485.6l0.3,1.7M515.0,464.2l-0.1,2.2M545.4,464.8l-0.2,1.5M663.6,459.0l-0.1,1.8M873.7,463.3l0.3,2.0M408.2,499.1l-0.0,1.5M305.4,470.1l0.3,1.1M654.1,494.0l-0.3,2.0M660.3,498.2l-0.2,2.1M522.8,494.7l0.1,2.6M741.6,459.4l-0.5,1.3M450.4,479.1l0.3,1.0M547.2,489.5l0.3,2.9M746.9,485.4l0.3,2.0M782.6,470.8l-0.4,2.6M532.3,497.6l0.4,1.4M484.0,489.4l-0.4,1.3M251.0,483.6l0.1,2.8M522.2,474.3l0.2,2.0M867.0,472.9l-0.2,2.3M253.2,460.4l0.1,1.8M509.2,477.3l-0.0,2.5M691.0,481.9l-0.2,2.9M442.0,491.0l0.3,1.6M324.3,464.6l0.1,2.1M305.5,469.7l0.0,3.0M710.1,476.1l-0.2,2.1M169.0,493.8l-0.2,2.4M406.2,482.1l0.1,1.1M995.0,487.5l-0.4,1.9M538.9,483.0l0.4,2.4M269.2,462.5l0.0,2.9M887.5,484.0l0.1,2.8M726.1,485.3l0.3,2.9M973.9,475.9l-0.3,1.4M456.3,481.9l-0.0,2.4M964.8,475.4l0.0,1.0M657.6,468.4l-0.3,2.5M904.0,477.2l0.1,2.9M723.8,466.8l0.5,2.8M149.8,482.9l0.4,1.3M864.7,497.2l-0.1,2.5M631.7,460.5l0.1,1.2M740.9,470.6l-0.5,1.0M330.0,474.0l0.2,2.8M882.1,490.5l0.3,2.4M221.7,490.6l0.1,2.2M495.8,477.2l0.3,2.7M192.9,495.0l-0.4,2.1M789.8,495.8l-0.1,1.9M270.5,466.3l-0.1,2.1M653.5,486.3l0.3,1.4M450.9,475.5l0.1,1.4M679.7,491.6l-0.2,2.6M546.3,484.4l-0.5,1.8M728.9,496.7l0.4,1.9M51.8,483.1l0.1,1.8M360.3,488.9l-0.2,1.4M411.9,476.0l0.4,1.8M513.8,482.1l0.0,1.3M760.9,488.2l0.1,2.9M371.4,495.4l0.5,3.0M114.7,487.1l-0.2,1.3M776.5,495.6l-0.2,2.2M485.8,471.2l-0.3,1.5M949.2,498.1l0.3,1.4M748.5,489.2l0.0,1.5M815.2,488.1l-0.4,2.9M331.0,473.9l0.5,1.8M968.1,493.8l0.3,2.3M848.6,467.2l0.5,2.3M166.3,477.1l0.4,1.7M463.2,463.9l0.1,1.7M545.0,459.2l-0.2,2.6M35.5,484.9l0.1,2.3M91.9,458.9l0.0,2.4M11.0,482.1l-0.0,1.2M709.6,467.7l0.2,1.8M275.8,484.7l0.2,1.1M236.2,476.6l0.3,3.0M184.7,492.3l-0.0,1.8M279.9,465.5l-0.1,3.0M206.3,492.5l-0.1,1.2M115.1,459.5l-0.0,3.0M653.2,464.3l-0.4,1.7M842.7,458.3l0.5,2.9M198.5,470.4l-0.5,1.4M475.4,480.6l-0.0,2.8M174.4,476.4l-0.5,1.3M387.7,493.8l0.5,1.2M841.0,500.7l-0.2,2.2M770.3,464.4l0.3,2.0M536.7,490.9l0.4,1.4M150.7,472.3l0.4,2.2M119.9,470.0l-0.3,2.5M393.5,465.8l0.3,3.0M379.1,500.8l-0.2,2.8M75.1,488.8l-0.2,2.3M8.6,470.3l0.2,2.9M668.8,488.0l0.4,1.5M472.2,497.9l0.2,2.2M871.8,500.2l0.4,2.4M412.4,471.6l-0.1,1.5M895.0,472.1l-0.4,1.5M719.8,498.1l-0.3,1.8M762.7,494.5l-0.0,1.8M373.9,481.0l0.4,2.3M333.7,499.4l-0.0,2.2M843.5,468.3l0.4,2.1M834.3,495.0l0.1,2.1M780.7,468.6l0.3,2.9M488.1,483.7l-0.5,2.9M273.8,495.7l0.2,1.1M298.0,468.5l-0.2,1.1M366.2,486.1l0.1,2.6M153.3,480.6l-0.3,2.9M697.7,467.5l0.0,1.6M832.8,481.1l0.1,1.4M52.7,489.5l-0.2,2.1M627.1,473.3l0.1,2.0M799.6,466.3l0.3,2.9M188.5,497.2l0.3,1.5M213.3,495.1l0.1,2.7M679.5,490.5l-0.2,2.3M769.9,496.8l0.4,2.1M361.5,477.3l-0.2,2.4M788.9,492.2l-0.1,1.4M881.7,480.2l0.3,1.1M182.6,478.1l0.3,2.8M744.6,458.7l-0.4,1.5M980.7,467.2l0.2,1.3M781.2,488.8l0.4,2.1M600.1,459.6l-0.5,2.7M993.8,483.0l-0.3,2.3M861.9,473.6l-0.4,2.2M673.7,494.2l0.3,2.2M569.6,481.9l-0.3,2.7M392.5,492.6l0.4,2.5M729.1,486.9l-0.3,2.3M774.2,493.2l-0.1,1.5M432.1,489.6l-0.4,1.2M923.5,491.0l-0.3,1.8M4.0,464.6l-0.4,2.8M850.2,465.7l-0.3,2.6M704.5,491.1l-0.3,2.0M495.9,468.5l-0.0,2.9M572.8,471.8l0.4,1.9M887.7,493.7l0.5,2.9M14.9,470.4l0.3,1.2M145.0,492.1l-0.3,1.4M324.4,496.4l-0.3,1.5M782.3,469.1l-0.0,2.2M706.8,479.3l-0.4,1.5M840.7,467.7l0.1,1.5M947.8,473.6l-0.2,1.6M456.4,497.3l0.0,2.2M314.7,472.6l0.3,1.9M902.3,493.0l0.4,1.4M302.9,472.0l-0.4,1.9M516.2,498.7l0.5,1.2M408.9,468.8l-0.4,2.1M333.9,490.8l0.2,1.6M282.6,490.4l0.1,2.4M461.1,467.7l0.0,1.2M344.8,494.3l-0.4,1.2M334.6,481.6l0.1,2.5M256.0,461.4l-0.4,2.3M785.2,484.9l-0.1,2.8M459.8,485.5l0.4,1.2M594.2,487.7l-0.2,1.1M150.1,472.0l0.4,1.8M468.8,482.2l-0.1,1.8M69.2,487.2l-0.3,2.0M754.0,458.9l0.0,2.8M836.2,479.5l-0.0,1.3M216.7,481.6l0.2,1.0M794.7,482.1l0.2,1.7M393.5,499.6l-0.1,2.8M804.7,468.5l0.2,2.9M0.6,485.6l0.1,1.8M116.2,472.8l0.1,2.9M507.8,487.0l-0.4,1.2M404.1,473.3l0.0,1.9M82.3,470.4l0.2,2.6M630.9,460.1l-0.4,2.3M208.2,468.9l-0.1,3.0M311.7,462.3l0.3,1.8M343.2,476.1l-0.3,1.2M110.0,493.8l-0.0,2.7M573.1,474.8l-0.3,2.4M349.0,489.2l0.5,1.7M466.0,458.0l0.4,2.0M178.0,477.0l0.4,2.1M14.6,488.9l0.2,1.2M938.6,485.3l-0.2,1.0M472.2,496.6l-0.3,1.9M746.7,489.6l0.1,3.0M768.0,495.9l-0.5,1.4M820.1,484.8l0.3,2.7M121.8,469.7l0.1,2.7M786.4,497.0l-0.2,1.0M73.6,467.8l0.4,1.8M217.7,479.1l0.5,1.9M676.7,475.8l-0.2,1.2M123.7,500.7l-0.3,1.6M31.3,464.7l-0.0,2.2M582.6,489.0l0.1,1.4M587.9,500.0l-0.3,1.8M226.0,488.5l-0.2,2.6M824.6,498.1l-0.4,1.8M924.4,468.9l-0.1,3.0M499.6,477.3l-0.1,1.1M88.3,478.9l0.1,1.2M538.2,497.6l0.1,2.6M794.4,475.1l0.1,2.6M830.0,495.6l0.4,2.3M13.6,498.1l0.0,2.0M233.2,471.7l-0.1,2.1M7.7,472.7l0.5,1.3M91.4,489.0l0.5,2.5M734.2,489.3l0.4,2.2M842.9,479.8l0.1,2.9M410.1,470.6l0.1,2.2M311.2,478.3l0.4,1.8M122.5,461.1l0.0,2.0M31.3,477.2l-0.3,1.3M773.8,458.8l-0.0,1.4M821.6,491.7l0.0,2.0M809.7,481.2l-0.1,2.6M124.3,497.6l0.1,1.4M675.1,479.3l-0.4,1.7M439.2,461.4l-0.1,2.1M70.8,473.5l-0.2,1.9M951.6,470.8l-0.5,1.2M64.3,476.6l-0.1,1.1M924.0,469.1l0.0,2.4M174.2,476.7l-0.1,1.0M103.5,463.0l-0.1,1.9M185.9,464.7l0.5,1.6M964.4,471.3l-0.0,1.1M886.7,468.4l-0.1,3.0M270.2,461.3l0.0,1.6M289.3,474.5l-0.0,2.4M81.7,461.9l-0.3,2.7M393.2,487.6l0.0,3.0M748.2,484.5l-0.0,2.6M217.2,481.3l-0.3,2.2M590.6,477.7l-0.0,1.8M366.2,473.7l-0.2,3.0M474.4,458.2l0.3,1.6M503.9,487.4l0.2,2.8M949.5,495.2l0.1,1.4M22.4,485.4l0.2,2.8M885.5,482.6l-0.3,2.6M281.9,461.8l0.3,1.3M103.7,491.2l0.3,1.5M967.9,459.8l0.2,2.2M461.9,459.0l0.2,2.0M522.1,464.8l-0.5,2.1M176.2,472.4l-0.1,2.0M258.6,498.2l-0.3,1.2M746.7,471.7l0.3,2.7M504.0,485.3l0.2,1.8M972.0,484.9l0.4,1.7M5.6,490.4l-0.3,2.9M637.1,462.6l0.4,1.8M86.9,466.1l-0.3,1.3M224.4,499.1l0.0,2.2M805.4,486.3l-0.2,2.9M531.3,497.0l0.4,1.6M379.2,477.5l-0.4,1.8M351.8,488.4l0.1,2.7M58.6,483.2l0.1,2.3M258.8,460.6l-0.2,2.1M825.2,494.9l0.3,1.1M451.2,476.5l0.4,1.9M93.0,498.5l-0.1,2.8M975.1,492.5l0.0,2.4M715.6,482.8l-0.3,2.6M423.4,469.5l0.2,1.0M606.9,468.3l0.2,2.6M764.4,483.2l0.2,1.6M256.5,481.0l0.0,2.6M863.0,493.4l-0.1,1.9M276.8,478.0l0.3,1.2M244.7,461.2l-0.2,1.3M331.6,484.6l-0.3,1.7M475.8,479.8l-0.1,2.0M546.4,500.3l0.2,1.7M431.4,488.6l0.3,1.8M990.8,488.5l-0.4,2.5M685.5,487.8l0.3,1.3M821.5,497.5l-0.3,1.8M202.2,458.6l0.5,2.0M370.4,480.5l0.3,1.3M355.1,470.3l0.2,2.6M574.6,488.7l0.2,1.3M573.1,484.8l-0.0,1.6M93.0,477.7l0.1,2.0M492.2,484.3l0.5,2.1M159.3,485.8l0.3,2.5M172.8,469.1l0.1,2.4M323.2,493.1l-0.2,1.9M468.1,467.2l0.5,2.5M722.7,482.8l0.4,1.2M871.7,493.7l-0.4,2.5M317.0,478.9l-0.3,2.2M883.5,479.2l0.4,2.4M255.6,466.3l-0.4,2.2M28.3,459.5l0.3,2.6M384.7,478.1l-0.2,2.1M337.6,474.6l0.2,1.5M555.3,462.8l0.2,1.2M482.8,494.9l0.1,2.4M255.1,484.3l0.2,1.9M255.2,500.4l0.5,2.9M384.9,466.3l0.3,1.9M653.1,458.6l0.5,1.4M534.0,461.0l0.3,2.1M909.0,463.0l-0.4,2.4M639.2,481.3l-0.3,1.0M418.9,488.4l-0.2,3.0M276.7,487.6l0.1,1.9M851.3,490.3l-0.1,1.9M691.3,483.9l-0.0,2.3M730.5,468.1l-0.1,2.6M421.3,460.1l0.1,2.7M634.7,472.2l0.0,1.1M511.4,466.3l-0.5,2.6M856.0,497.3l0.5,1.2M939.0,473.2l0.3,1.9M60.6,493.1l0.1,1.0M46.2,477.5l0.0,2.4M362.0,469.4l-0.2,1.2M213.2,468.1l-0.3,1.2M406.9,462.3l-0.2,2.4M776.7,482.2l0.2,2.4M357.5,487.3l0.3,1.1M720.1,497.7l-0.3,1.7M732.1,465.7l-0.2,2.8M861.3,461.2l0.3,1.6M75.9,489.3l0.1,1.8M177.3,468.4l0.2,2.8M114.0,461.5l-0.3,1.2M282.7,480.6l0.4,1.6M79.1,479.4l0.3,2.3M476.8,485.1l-0.2,1.3M857.1,459.0l0.4,2.1M922.1,466.2l-0.0,3.0M129.7,492.9l0.5,2.1M124.6,494.2l-0.5,1.6M159.1,491.3l0.2,2.8M658.4,476.3l-0.1,1.6M72.6,464.0l0.4,1.5M910.7,470.0l-0.4,2.9M660.0,462.8l0.5,2.2M736.1,487.4l0.3,2.3M494.7,496.3l0.2,2.4M236.7,491.9l-0.4,2.9M445.1,487.8l0.3,2.6M317.1,478.2l0.5,2.5M118.7,458.7l-0.5,2.7M84.4,473.7l0.4,1.0M26.9,461.2l-0.1,2.0M750.0,495.2l0.4,1.0M67.9,473.9l-0.3,1.5M79.0,492.5l-0.2,1.6M891.4,474.8l-0.4,1.3M359.8,460.6l-0.1,2.3M679.5,476.9l0.5,1.1M748.9,483.1l0.1,1.3M532.2,488.5l0.2,1.1M949.8,492.6l-0.3,2.3M629.2,487.4l0.4,1.5M285.3,460.8l0.4,1.9M701.9,469.2l0.4,1.8M937.4,477.3l-0.2,2.0M674.2,496.3l0.3,1.7M498.8,487.7l0.1,2.5M173.9,499.5l-0.3,1.1M111.2,487.0l0.5,1.9M170.4,461.8l-0.2,1.0M812.6,473.4l-0.2,2.0M283.4,489.4l0.1,1.0M942.0,471.5l0.1,2.0M290.0,466.3l-0.5,2.7M231.7,478.5l-0.5,1.1M871.1,492.6l0.5,2.1M823.5,489.6l0.2,1.7M345.0,473.0l-0.5,1.4M796.1,491.4l-0.1,2.7M701.1,483.8l-0.1,1.5M110.1,493.3l-0.5,2.4M704.4,488.4l0.5,1.1M990.5,479.0l-0.5,1.7M765.4,489.2l-0.4,1.4M403.3,492.2l0.1,1.6M686.4,465.8l-0.4,2.2M801.6,478.5l-0.1,2.8M401.1,477.0l0.3,1.9M300.2,458.7l-0.3,2.3M152.3,472.7l-0.3,1.9M911.9,471.2l-0.2,2.8M14.0,494.1l-0.5,1.8M619.1,491.7l0.2,1.8M993.0,469.8l0.5,2.2M292.1,493.9l0.2,1.2M533.4,490.1l0.2,2.0M104.9,495.2l0.2,2.1M760.8,479.6l0.2,2.7M254.7,461.9l0.4,2.5M335.7,471.8l0.5,2.4M615.2,461.4l-0.0,2.0M201.0,485.6l-0.1,2.1M609.1,463.1l-0.2,2.8M336.6,496.0l0.5,2.2M786.7,490.0l0.2,2.9M62.3,481.9l0.0,2.0M979.2,500.2l0.3,2.4M3.6,477.3l-0.3,1.9M921.4,459.2l0.5,2.7M338.0,459.2l-0.4,1.9M951.6,480.5l0.2,1.4M515.6,481.8l0.5,1.4M876.6,496.1l0.4,2.7M233.1,491.3l-0.3,1.8M713.4,479.9l0.0,1.5M403.3,483.0l0.3,2.5M281.9,473.4l0.5,1.5M981.3,467.9l0.0,1.7M113.0,485.6l-0.3,2.3M292.0,487.0l-0.4,2.9M722.1,495.3l0.5,2.5M254.0,466.2l-0.0,2.9M685.4,480.9l-0.5,2.2M66.8,461.7l-0.4,2.7M372.1,463.7l0.2,2.3M800.8,489.9l-0.3,2.5M447.8,499.6l0.3,1.9M546.6,471.5l-0.4,2.8M642.9,490.8l-0.4,2.7M614.2,471.4l-0.5,2.3M469.6,479.0l-0.2,1.5M736.4,482.6l-0.0,1.8M623.9,483.8l0.4,2.4M976.7,463.9l0.1,2.0M125.7,469.4l-0.1,1.4M334.8,461.4l0.3,2.4M226.8,464.9l0.2,1.6M117.1,488.3l-0.2,2.9M229.4,483.3l-0.3,2.7M59.1,476.2l-0.4,1.8M803.1,460.8l-0.2,2.3M111.2,474.4l-0.1,1.8M633.1,478.1l-0.3,1.6M598.2,494.4l-0.3,2.7M677.0,472.9l-0.4,2.3M764.8,476.0l0.4,2.5M128.8,494.1l-0.3,2.9M655.4,495.3l0.2,1.1M308.3,478.6l-0.1,1.4M893.6,469.9l-0.4,1.8M369.7,466.7l-0.1,1.7M527.4,484.7l-0.5,2.2M488.4,500.7l0.1,2.7M688.5,472.1l-0.3,1.1M935.1,474.9l-0.2,2.0M21.4,481.6l0.3,1.2M573.3,463.0l-0.4,1.4M162.1,470.5l-0.1,1.8M53.1,498.5l0.5,1.8M184.7,486.9l-0.1,2.7M746.0,469.4l-0.3,2.4M847.6,497.8l-0.2,1.6M713.0,472.1l-0.1,2.2M929.3,484.7l0.0,2.7M574.2,492.6l0.2,2.7M434.7,485.3l-0.3,2.5M120.0,484.5l0.2,1.5M14.3,487.5l-0.5,1.1M169.7,472.9l0.1,1.3M864.6,484.4l0.4,1.4M974.6,475.4l0.1,2.9M3.5,459.4l0.5,1.3M192.2,496.3l0.4,2.5M644.4,468.5l-0.5,2.6M341.3,472.9l-0.1,2.6M140.5,463.6l-0.1,1.4M526.0,458.1l0.1,2.9M263.0,484.2l-0.4,3.0M72.6,469.0l0.4,2.2M541.4,462.5l0.4,2.4M667.1,466.5l0.1,2.2M645.0,471.7l-0.1,2.1M738.5,464.2l0.4,2.4M423.1,469.2l-0.2,1.5M620.1,480.4l-0.0,1.4M230.7,467.5l0.2,1.7M445.2,468.2l-0.3,1.1M599.7,485.3l-0.2,1.5M671.6,462.3l0.0,2.2M284.0,482.2l-0.0,1.3M363.2,465.9l0.4,1.8M838.6,480.0l0.2,2.6M484.4,467.6l-0.1,1.6M109.0,483.1l0.2,2.0M32.2,497.1l0.1,2.3M300.4,488.8l0.4,1.4M188.5,479.3l0.5,1.6M235.4,483.5l0.4,1.2M931.8,487.9l-0.2,1.2M135.6,475.6l-0.4,2.7M93.8,473.9l-0.3,2.0M452.1,492.6l-0.1,1.9M723.1,487.9l0.4,1.9M753.3,489.2l-0.3,2.1M736.9,490.2l0.1,2.2M545.1,488.0l-0.0,1.5M914.3,497.2l-0.5,2.4M450.8,460.6l0.2,2.8M744.3,483.7l0.0,1.3M812.5,466.7l-0.4,2.5M270.3,477.6l-0.1,1.1M519.3,480.6l0.3,2.8M249.6,496.7l0.3,2.1M98.6,475.7l0.0,1.7M895.3,460.8l-0.4,1.6M754.5,479.5l0.1,2.0M195.8,482.7l0.3,2.2M221.0,479.0l-0.4,2.0M789.1,466.7l-0.2,2.5M762.2,498.8l-0.2,1.2M738.1,469.0l-0.1,1.5M697.3,494.6l-0.3,2.3M478.3,460.2l0.2,2.3M194.6,459.3l0.3,2.3M929.6,458.9l0.2,2.8M202.5,460.1l-0.5,2.7M437.0,473.2l-0.4,2.1M548.0,489.5l-0.4,1.8M603.4,471.8l-0.2,2.9M176.4,479.5l-0.4,1.8M600.5,470.7l-0.4,2.9M113.0,480.2l0.4,2.5M698.3,497.3l0.3,2.0M410.7,479.4l-0.5,2.5M707.6,479.0l-0.0,2.5M29.5,487.4l0.1,1.0M885.5,481.0l0.2,1.8M206.7,496.8l0.4,1.1M38.1,496.2l0.0,1.9M304.2,489.7l-0.3,2.9M537.3,464.3l-0.4,2.6M329.7,467.3l-0.3,2.5" stroke="#e0e0e0" stroke-width="2.6" stroke-linecap="round" fill="none"/><path d="M887.1,492.6l0.5,0.6M875.1,489.7l-0.2,1.4M238.3,471.5l0.3,1.8M171.4,468.2l-0.0,1.4M257.6,463.7l-0.2,0.8M262.8,471.1l0.3,1.3M578.1,472.1l-0.4,0.7M994.2,466.8l-0.2,1.3M95.5,486.9l-0.5,1.3M653.7,497.4l-0.1,1.0M957.5,489.1l-0.0,1.6M791.8,472.0l-0.2,0.7M250.6,469.4l-0.4,1.7M756.0,470.5l0.5,1.0M587.4,485.6l-0.4,1.6M340.9,462.4l0.2,1.6M848.3,482.2l-0.0,0.6M847.8,498.6l-0.5,1.6M909.8,479.2l-0.4,1.3M982.5,489.3l0.3,1.2M375.9,472.8l-0.4,0.9M751.0,482.7l0.3,1.4M436.6,478.4l-0.2,1.2M897.8,490.5l-0.3,0.9M856.2,469.2l-0.3,1.1M485.8,464.1l-0.4,0.9M630.3,484.8l0.4,0.9M964.7,498.7l0.3,0.9M724.6,463.3l0.4,1.0M616.3,460.3l-0.0,0.6M912.5,492.4l-0.2,1.8M218.0,491.7l0.4,1.1M678.7,471.4l-0.5,1.7M956.2,497.7l-0.4,1.3M204.6,460.2l-0.4,1.2M825.4,480.0l-0.2,1.6M469.9,480.4l-0.4,0.5M621.5,466.3l0.3,1.6M243.7,481.3l-0.3,1.4M685.3,459.7l0.1,0.5M417.0,485.1l0.4,0.7M392.9,492.0l-0.2,1.6M196.6,475.1l0.5,1.2M439.4,465.3l0.4,1.5M924.5,496.0l-0.1,0.9M250.3,492.3l-0.1,1.6M602.6,459.4l0.1,0.6M277.9,473.9l0.5,0.7M803.5,494.9l-0.4,0.9M137.6,497.4l-0.3,1.1M912.8,496.1l0.3,0.8M177.3,462.6l0.2,0.8M456.2,474.3l-0.3,1.5M772.4,489.3l-0.5,0.9M293.8,471.7l-0.5,0.6M724.3,458.0l-0.5,1.8M327.8,482.6l-0.3,1.6M234.3,500.3l-0.4,1.4M756.1,463.4l0.2,1.1M289.9,494.8l-0.4,0.5M655.4,500.4l0.1,1.3M666.2,474.4l0.2,1.0M89.6,500.2l-0.2,1.1M207.2,488.2l-0.2,1.5M358.9,478.5l0.4,0.7M47.5,488.4l0.3,1.6M64.0,467.1l0.3,0.5M654.7,499.5l0.3,0.6M346.4,486.5l-0.2,1.8M710.2,462.7l-0.1,0.5M139.3,490.3l-0.3,1.2M111.5,477.9l0.2,1.6M858.3,477.5l-0.2,1.6M993.4,474.3l0.3,1.6M598.9,473.7l-0.1,0.8M867.8,486.3l-0.1,1.4M313.0,489.2l-0.4,0.7M548.9,497.7l-0.4,0.5M578.9,473.8l0.1,1.5M566.6,459.8l-0.2,0.9M473.8,467.7l0.3,0.5M457.8,475.3l-0.4,0.8M241.2,491.8l0.3,1.6M884.4,497.9l-0.1,1.2M133.7,494.1l0.1,1.0M217.3,474.9l-0.1,0.5M110.9,478.5l0.2,1.8M338.1,462.2l0.2,0.6M8.3,500.9l0.1,0.8M212.9,489.0l0.4,1.4M771.3,480.4l-0.1,1.6M92.9,461.0l-0.1,0.7M455.1,496.8l0.4,1.5M177.7,460.2l-0.1,1.2M631.9,495.2l0.2,1.4M33.7,490.4l0.4,0.6M313.5,471.5l0.4,1.0M304.1,490.7l-0.4,1.8M518.1,460.9l-0.2,0.7M992.7,492.2l0.4,0.5M535.3,458.3l-0.1,1.3M591.5,500.5l-0.2,0.7M523.0,489.4l0.4,0.7M376.4,458.6l-0.1,1.8M147.2,483.5l-0.2,1.5M283.4,484.2l0.0,1.4M674.7,491.2l0.4,0.7M772.7,480.3l-0.2,0.6M610.9,483.3l0.3,0.8M44.1,497.4l0.4,0.8M584.5,465.1l-0.2,0.8M51.1,475.0l-0.4,1.2M345.2,486.3l0.3,1.5M54.8,474.1l-0.2,0.9M970.6,482.7l-0.2,1.3M354.5,495.6l0.3,1.4M574.3,460.3l-0.4,1.7M218.0,475.1l0.1,1.3M500.3,488.2l-0.3,0.6M310.5,490.3l-0.3,1.2M713.2,472.4l-0.3,1.5M22.1,491.6l0.4,0.7M600.3,477.1l0.3,0.6M20.0,484.6l0.1,0.9M83.6,480.3l-0.5,1.1M12.2,467.4l-0.5,1.2M106.0,464.3l0.4,1.3M187.0,479.1l-0.3,0.7M173.7,486.0l0.4,1.2M669.5,460.8l-0.1,1.7M825.5,499.8l0.3,1.1M777.7,460.6l0.3,1.3M836.6,459.1l-0.1,1.2M930.9,461.4l-0.1,0.9M542.1,468.8l0.2,0.8M934.9,472.3l-0.1,1.3M199.7,499.8l0.5,1.4M923.4,479.2l0.1,1.4M973.6,460.1l0.4,1.2M406.5,459.8l0.1,1.0M954.8,465.6l-0.2,0.8M183.0,475.7l-0.0,1.6M288.3,498.5l-0.3,1.1M773.7,464.5l-0.4,1.4M557.8,490.5l-0.1,0.9M726.3,489.8l-0.1,1.5M939.8,480.3l-0.4,1.0M741.9,477.3l0.4,1.5M313.3,474.9l0.4,1.4M924.1,474.0l0.1,0.8M814.9,495.1l-0.1,0.8M548.1,468.6l0.0,0.6M256.6,482.3l0.0,0.9M919.2,462.5l-0.5,0.9M634.1,494.6l0.5,1.6M196.2,463.4l0.2,1.3M872.3,486.9l-0.1,0.7M551.1,490.2l0.4,1.6M925.4,486.1l-0.1,1.3M704.5,473.9l-0.2,1.7M524.5,472.6l0.2,1.2M254.3,477.7l0.2,1.2M596.0,489.1l-0.1,0.6M499.1,494.6l-0.3,1.3M254.2,463.7l-0.2,0.8M676.1,475.6l0.0,1.6M799.3,486.3l-0.1,1.7M325.0,494.9l-0.1,1.3M826.7,467.5l0.1,0.8M802.0,475.4l0.1,0.5M896.8,483.9l-0.2,0.5M996.0,470.7l-0.3,1.4M640.7,479.5l0.5,0.6M210.3,479.1l0.2,0.8M215.3,462.4l0.5,1.6M207.1,496.5l0.5,0.6M116.8,465.3l0.1,1.4M455.9,491.4l0.3,1.8M209.7,493.9l0.3,1.8M627.7,500.9l0.4,1.1M776.4,490.5l-0.2,1.1M829.3,472.5l-0.3,0.7M731.3,460.0l0.2,0.6M452.9,461.3l-0.0,0.6M824.2,461.6l-0.5,1.7M956.9,471.0l-0.0,1.0M402.4,470.2l-0.0,1.1M566.7,474.6l0.1,0.7M32.4,462.9l0.0,0.9M79.6,498.8l-0.0,1.4M568.7,472.5l0.4,0.5M507.7,496.7l-0.3,1.0M662.3,500.2l0.1,0.7M45.9,483.0l-0.1,1.1M909.8,478.6l0.3,1.0M927.2,465.1l0.5,0.7M701.5,491.0l0.5,1.8M592.1,466.5l-0.1,1.4M645.7,477.9l0.1,1.1M730.7,475.9l-0.5,1.5M84.9,485.4l0.4,0.9M434.4,489.1l0.2,0.8M658.0,479.6l-0.3,1.5M487.3,469.3l0.5,1.4M799.2,479.9l-0.3,0.5M137.2,467.9l0.3,1.7M537.3,462.1l0.1,0.8M777.3,489.4l0.4,1.3M488.1,461.3l-0.3,0.9M884.2,493.8l-0.2,1.4M827.7,465.9l-0.1,1.6M276.4,475.9l0.2,1.6M875.2,459.0l-0.1,1.8M960.2,490.0l-0.0,1.2M878.8,495.8l0.4,1.0M993.6,486.4l-0.1,0.7M477.4,458.3l-0.2,1.3M910.4,471.0l0.5,0.6M828.3,485.5l-0.0,1.1M525.2,470.5l-0.4,1.7M588.5,459.6l-0.2,1.7M200.7,491.6l-0.1,0.6M51.5,471.5l0.3,0.6M211.8,474.1l-0.4,1.6M690.7,459.1l-0.3,1.6M840.3,472.3l0.2,1.4M399.5,466.6l0.1,1.1M59.8,460.9l-0.4,1.5M194.8,466.5l-0.5,1.5M676.9,461.9l-0.1,0.7M615.4,479.8l0.2,0.8M489.8,500.7l-0.0,0.8M748.3,495.8l0.3,0.9M255.9,466.7l0.5,1.4M835.2,459.9l0.3,1.1M773.5,493.0l-0.4,0.5M513.9,468.7l0.2,1.3M435.3,458.7l0.1,1.0M499.2,464.8l0.0,1.4M625.3,481.7l0.4,0.8M448.3,460.8l0.3,0.8M426.4,489.5l-0.0,0.8M393.8,479.5l0.4,1.4M461.8,459.1l0.4,1.7M756.4,475.6l0.4,1.8M928.9,475.4l-0.3,1.3M215.0,477.6l-0.4,0.9M6.9,495.5l-0.2,0.6M96.9,474.9l-0.2,1.4M505.2,460.0l0.5,1.7M566.0,467.9l-0.1,1.1M30.3,462.0l0.2,0.6M860.3,474.9l-0.4,1.0M496.0,487.0l0.4,0.8M955.3,469.0l0.2,1.7M411.1,476.4l-0.5,0.9M603.3,472.3l0.0,1.4M494.1,484.9l-0.4,0.5M555.0,486.6l0.0,0.7M286.0,499.3l0.3,1.3M793.0,492.5l-0.3,1.7M70.9,477.7l-0.2,0.9M121.5,497.3l0.1,0.7M74.9,458.0l-0.2,1.7M658.9,463.4l0.4,0.8M189.2,478.4l0.0,1.1M582.5,470.0l-0.3,0.5M935.5,491.6l0.3,0.6M698.7,471.8l-0.2,1.3M863.7,458.5l-0.0,0.7M522.6,481.5l-0.0,1.4M302.1,498.8l-0.1,0.6M484.1,494.1l0.5,0.6M476.5,459.0l-0.0,0.9M807.7,472.9l-0.3,1.4M476.2,478.9l-0.4,0.6M27.5,463.0l0.5,1.1M680.6,482.0l0.3,1.3M908.0,459.2l-0.4,1.5M803.3,468.2l0.3,1.3M854.6,490.9l0.2,1.7M713.3,472.7l-0.1,0.8M199.7,462.4l-0.3,1.2M781.9,463.5l0.2,0.6M922.4,461.2l0.0,1.5M661.0,493.7l-0.5,0.6M927.2,463.9l-0.1,1.4M175.9,461.9l-0.1,1.0M109.1,481.0l-0.5,1.4M306.6,489.5l0.2,1.6M451.2,478.2l-0.4,1.0M294.3,499.3l0.4,1.3M636.2,468.7l-0.2,1.2M27.4,482.9l0.4,1.6M109.0,461.8l-0.1,1.2M782.5,461.4l0.4,1.5M776.8,472.0l-0.1,1.3M203.2,466.9l-0.2,0.9M605.7,481.1l0.2,1.1M2.3,485.3l0.5,0.6M600.1,479.8l0.2,0.7M988.6,472.4l-0.1,1.4M91.4,474.9l0.5,0.9M308.9,468.3l0.3,1.0M357.2,498.1l0.4,1.0M984.9,464.0l0.0,1.3M791.0,479.7l0.3,0.6M654.4,488.8l0.5,0.6M178.7,470.2l-0.0,1.1M335.2,494.4l0.3,1.0M851.6,470.4l0.5,0.6M659.1,478.4l0.3,0.8M531.3,464.2l0.4,1.7M80.7,474.3l0.3,1.4M893.5,475.3l0.3,0.6M568.1,460.0l0.3,1.0M638.0,486.2l0.3,1.8M844.5,477.9l0.2,1.4M955.2,495.9l-0.3,1.6M272.1,477.1l0.2,1.4M492.7,463.1l0.2,1.8M962.0,472.9l-0.2,1.4M851.4,461.8l-0.5,0.7M855.6,498.5l0.5,1.2M902.7,475.0l-0.2,1.3M759.5,494.7l-0.0,1.1M567.6,481.3l0.0,1.1M385.6,475.6l0.4,0.7M405.0,486.5l-0.3,1.0M929.2,486.3l0.1,1.6M215.2,461.9l-0.3,1.6M824.6,479.2l-0.1,0.9M855.9,498.2l0.2,0.9M345.3,484.1l0.4,0.9M45.8,478.7l0.2,1.0M106.1,462.0l0.2,1.0M92.8,482.2l0.2,1.0M968.8,463.1l0.0,1.7M714.5,468.0l0.4,0.8M734.5,497.7l0.4,1.2M915.5,485.8l0.1,1.0M528.2,479.5l-0.1,0.8M879.4,468.3l0.2,1.7M159.7,481.6l0.1,1.1M919.3,464.5l0.5,1.8M890.2,499.4l-0.2,0.9M489.3,477.0l0.2,1.8M658.5,496.4l-0.1,1.7M353.4,476.5l0.2,0.8M29.6,462.9l0.2,1.7M619.7,498.8l-0.3,0.8M396.7,472.8l0.1,1.0M444.0,459.0l0.1,1.4M304.1,483.3l-0.5,1.1M232.8,499.7l-0.4,0.9M961.3,493.0l-0.5,0.8M194.2,487.8l-0.2,1.8M44.2,467.7l-0.4,1.7M156.8,500.3l-0.4,1.0M652.6,499.7l0.4,0.7M763.2,489.2l-0.1,0.5M755.5,494.1l-0.4,0.8M813.3,468.7l0.3,1.4M650.5,459.9l-0.3,0.8M423.9,495.7l-0.5,0.9M991.7,484.9l0.2,0.9M362.2,495.3l0.2,1.6M248.2,493.9l0.0,1.4M381.0,495.8l-0.1,1.3M699.2,467.0l-0.0,1.5M510.7,489.4l0.3,1.3M621.2,491.0l0.0,0.9M0.0,472.4l-0.4,1.7M299.0,458.3l0.2,1.5M503.5,478.8l0.2,1.7M327.3,495.4l-0.0,1.6M362.2,484.9l-0.1,1.2M379.2,465.0l0.1,0.9M866.5,464.0l-0.4,1.7M716.1,481.9l-0.3,1.3M136.5,490.0l-0.3,0.6M139.0,474.6l-0.3,0.7M666.5,471.1l0.4,0.9M539.4,498.9l0.1,0.7M336.5,458.5l-0.5,0.7M590.1,460.4l-0.4,1.8M575.0,473.8l-0.4,1.7M519.1,460.8l-0.2,0.9M913.6,491.8l0.4,1.5M780.0,477.0l0.5,0.7M25.9,492.4l-0.3,0.5M368.0,460.0l-0.2,1.2M265.8,498.0l0.3,1.6M326.1,480.1l0.4,1.4M563.6,462.7l-0.4,1.6M200.1,482.7l0.1,0.7M389.0,497.7l-0.3,0.9M937.7,496.3l-0.1,1.0M384.4,482.5l-0.2,0.9M613.5,491.3l-0.4,1.1M520.3,490.8l0.2,0.7M921.2,466.5l-0.2,0.9M537.6,463.9l-0.2,1.6M755.0,483.6l0.4,1.5M280.4,476.0l0.2,1.7M631.5,474.7l-0.5,1.0M423.1,500.1l0.4,1.5M753.9,500.6l0.4,1.8M60.3,471.7l-0.1,1.1M912.8,459.6l-0.4,0.7M779.5,498.8l0.1,0.6M141.6,497.8l0.2,1.7M940.8,491.8l-0.0,1.4M113.0,466.1l-0.4,1.5M563.2,468.9l0.1,1.7M866.5,458.9l-0.5,0.6M959.0,497.1l0.1,1.6M61.5,500.3l-0.1,0.6M949.2,473.7l0.4,0.5M268.6,484.9l-0.2,1.0M787.7,488.6l0.4,1.2M485.7,478.0l0.3,1.2M526.3,478.8l-0.3,1.3M933.5,466.8l0.2,0.8M528.0,487.2l0.0,0.7M928.9,468.5l0.2,1.4M685.9,494.4l0.2,1.1M585.1,488.3l-0.2,1.6M519.3,490.6l0.0,0.8M813.8,481.1l0.0,1.6M715.7,485.1l0.1,1.7M279.1,467.4l-0.4,1.2M151.4,498.9l0.4,1.2M827.6,491.1l-0.1,1.1M370.5,466.2l-0.3,0.6M881.8,476.3l-0.0,0.6M950.6,469.9l0.3,1.3M38.9,495.0l-0.4,1.4M358.5,489.2l0.1,1.6M98.6,458.7l0.3,1.0M371.7,488.9l0.3,1.4M65.6,486.1l0.4,1.0M366.7,497.7l-0.1,1.1M272.4,462.6l0.3,1.5M594.4,470.5l0.2,1.4M974.4,461.2l0.1,1.1M364.1,461.3l0.3,1.0M599.0,496.6l-0.1,1.7M400.1,463.1l-0.3,0.5M942.0,496.0l-0.4,0.6M216.5,489.9l-0.3,1.1M160.1,467.2l0.2,1.2M116.2,500.3l0.1,1.2M220.4,469.1l-0.5,0.6M473.5,462.5l0.4,1.2M638.2,500.6l0.0,1.3M115.8,462.7l0.2,1.6M785.0,480.2l0.1,1.2M92.8,481.5l0.1,0.6M605.8,491.4l0.0,1.8M996.5,497.6l-0.1,0.9M240.7,459.4l0.0,1.1M689.0,498.2l0.1,1.6M458.2,497.3l-0.4,1.0M242.6,467.5l-0.2,0.9M243.3,481.9l-0.0,1.1M241.8,496.4l0.1,1.6M386.4,476.9l0.5,1.0M706.1,486.5l0.1,1.3M45.6,481.0l0.0,1.5M417.6,487.5l0.1,0.8M423.9,482.7l0.1,1.6M919.6,485.0l-0.1,0.8M35.0,475.0l-0.1,1.1M961.0,477.9l0.3,0.9M823.4,474.2l0.2,1.5M665.9,464.6l-0.3,0.8M685.6,485.3l0.1,1.1M704.1,461.1l-0.5,0.8M279.0,470.8l0.5,1.0M471.6,489.2l0.0,0.9M703.2,463.3l-0.2,0.9M114.7,483.8l0.2,1.2M131.2,468.3l-0.5,1.2M254.2,467.4l-0.4,0.6M785.1,469.7l0.3,1.4M141.8,498.9l0.1,1.6M365.2,472.2l0.3,1.1M946.0,462.9l0.1,0.6M757.2,476.6l-0.3,1.1M642.6,472.0l-0.3,1.7M2.4,497.5l-0.2,1.2M490.2,485.1l0.5,0.9M991.7,467.1l0.2,0.7M575.0,465.1l0.1,1.2M131.3,469.2l-0.4,1.1M370.4,494.4l0.4,0.6M39.0,496.4l-0.0,1.4M52.2,469.4l0.1,1.3M959.4,468.7l0.3,1.1M507.0,466.8l-0.2,0.5M762.5,464.3l0.1,0.9M108.3,491.4l0.4,0.8M57.0,467.6l0.1,1.1M276.1,459.1l0.4,1.0M982.6,476.3l-0.2,0.5M30.5,458.1l0.2,1.2M978.3,500.3l0.5,0.7M994.4,493.3l0.2,1.8M912.1,473.0l-0.4,1.4M4.1,490.8l-0.4,1.1M621.3,459.0l0.5,1.7M804.1,474.2l-0.4,0.7M620.8,492.6l0.5,0.7M295.8,489.0l0.3,0.6M225.7,497.8l-0.4,1.8M212.4,478.3l-0.1,1.6M215.4,459.1l0.4,1.6M794.2,476.9l-0.2,1.1M225.4,480.9l-0.0,1.3M730.0,475.4l0.1,0.7M614.7,482.0l0.0,1.1M631.0,483.8l0.5,0.7M778.0,462.2l0.2,0.9M131.7,497.5l0.3,1.3M197.2,462.2l0.3,1.3M43.7,495.6l-0.3,1.6M227.2,496.8l-0.2,0.9M963.1,458.3l-0.3,1.5M204.2,474.4l0.3,1.7M810.8,485.3l-0.5,1.4M156.0,489.3l0.2,0.9M168.6,484.8l-0.0,0.7M520.4,492.9l0.3,1.2M351.9,492.6l-0.1,1.0M403.7,500.7l0.1,0.5M986.8,494.0l-0.1,0.5M211.5,480.7l0.3,0.9M404.9,495.4l-0.1,0.7M759.1,492.6l-0.1,1.5M238.3,476.6l0.5,0.7M155.1,482.0l-0.5,0.9M349.8,487.8l0.4,1.4M641.5,460.3l0.0,1.0M554.3,482.4l-0.2,0.9M307.3,466.7l-0.5,0.8M979.5,493.3l-0.3,0.5M253.4,486.7l-0.0,0.9M888.7,480.5l0.2,0.7M617.8,481.4l-0.3,1.8M155.9,474.3l-0.2,1.1M602.7,480.7l-0.3,1.5M517.9,498.7l-0.5,0.9M125.1,473.1l0.2,1.7M788.7,460.5l0.1,1.4M921.0,465.2l-0.5,0.6M298.3,480.8l0.5,1.0M161.2,463.9l0.3,0.5M459.8,473.0l-0.4,1.2M642.3,487.1l0.4,1.8M108.8,496.5l-0.1,1.0M85.8,482.4l-0.4,1.7M576.1,486.5l-0.4,1.4M253.4,485.7l-0.2,1.0M425.8,474.8l-0.1,1.5M594.8,467.4l-0.3,1.2M555.9,491.8l-0.3,1.5M62.0,472.3l-0.3,1.4M985.6,476.8l0.2,1.8M350.9,473.7l-0.3,0.5M333.6,488.3l0.1,1.0M7.8,480.1l0.1,1.6M564.6,479.8l-0.3,0.5M502.5,487.8l-0.4,1.4M554.5,489.9l0.0,1.7M44.3,473.8l0.3,1.2M156.1,470.5l0.2,1.7M12.7,494.9l0.5,1.2M330.3,476.3l0.4,0.9M176.1,483.8l-0.4,1.4M922.7,489.6l0.4,0.9M142.7,489.6l-0.1,1.6M803.5,467.5l0.5,1.7M420.0,499.6l0.3,0.8M516.6,492.1l-0.4,1.3M772.2,469.6l-0.0,0.9M161.4,469.5l-0.0,1.5M991.8,483.7l-0.1,1.8M177.6,465.2l0.3,0.6M891.2,471.9l-0.3,1.6M283.9,475.5l-0.2,0.7M295.2,461.2l-0.1,0.9M109.3,477.7l0.1,0.7M0.6,460.2l0.2,0.7M819.1,460.7l-0.4,1.7M72.2,499.3l0.1,1.2M546.5,486.2l0.4,1.3M342.4,472.7l0.5,1.7M384.2,472.5l-0.4,0.6M606.7,463.1l-0.2,0.7M52.7,472.3l-0.1,1.2M280.3,500.8l0.3,0.9M664.9,469.6l-0.1,0.7M336.8,478.6l-0.2,1.3M660.4,477.9l0.1,1.3M860.6,484.6l0.2,0.9M371.1,471.9l-0.5,1.0M325.5,470.2l-0.2,1.7M633.5,462.2l0.3,0.8M220.3,460.2l0.1,1.7M826.5,498.6l0.2,1.4M704.9,464.1l0.3,1.1M131.9,470.0l0.1,1.1M949.0,468.6l-0.5,1.0M653.1,462.7l0.4,1.2M127.7,484.2l-0.1,1.3M782.3,483.5l0.4,1.1M741.5,475.3l-0.4,0.6M589.1,495.0l0.2,1.3M827.9,473.1l-0.2,1.5M516.3,485.9l0.4,1.4M690.9,494.9l0.5,1.2M42.5,470.2l0.4,1.7M405.6,467.2l0.5,0.7M307.0,468.7l0.0,1.0M988.5,500.8l0.1,1.3M690.4,472.3l-0.1,1.1M943.4,477.1l-0.1,0.6M201.3,501.0l0.0,1.6M875.1,473.9l-0.1,0.7M867.0,482.4l0.4,1.8M177.1,491.8l0.2,1.5M454.1,465.8l-0.1,1.5M700.4,466.7l-0.0,0.9M972.8,458.5l-0.1,1.2M202.2,472.3l-0.1,1.6M663.9,471.2l-0.4,1.7M642.7,490.0l-0.1,1.7M360.9,462.6l0.1,0.5M838.4,490.5l0.4,1.7M329.9,473.5l0.3,1.1M540.5,458.7l0.2,1.5M626.5,494.1l-0.1,0.5M369.5,488.5l0.4,1.4M673.0,467.1l0.1,0.7M479.1,489.8l0.1,0.6M872.2,493.4l0.1,1.6M657.5,461.0l0.0,0.6M585.0,497.7l0.0,0.8M737.4,480.1l0.5,1.2M969.1,461.1l0.0,1.8M487.0,470.2l0.4,1.4M395.3,462.2l-0.0,0.9M778.6,484.7l0.4,1.4M245.4,488.3l-0.4,1.6M246.8,459.8l0.2,1.5M31.1,499.8l-0.2,0.9M884.1,494.4l-0.4,0.8M273.4,469.2l-0.4,1.1M341.0,471.4l0.5,0.7M686.1,496.5l-0.2,1.2M329.0,466.9l0.3,1.5M236.0,464.0l0.3,1.2M56.3,495.4l0.0,1.5M937.0,493.7l-0.1,1.3M748.7,488.3l-0.2,0.5M347.6,471.6l0.4,1.3M971.5,475.3l-0.4,0.8M292.8,483.0l0.4,1.2M630.6,476.3l-0.1,0.5M269.5,493.9l-0.1,1.5M594.8,459.1l0.4,1.5M907.2,497.1l0.3,0.7M585.1,458.9l0.2,0.8M387.0,469.4l-0.1,0.9M783.4,477.1l0.2,1.7M473.7,500.8l0.3,0.9M458.7,472.6l-0.1,0.6M980.4,464.1l0.1,1.0M393.2,461.8l0.0,0.9M680.0,485.1l0.1,0.6M215.3,499.0l-0.4,1.2M482.3,476.6l0.0,0.9M869.3,485.2l-0.2,1.4M563.9,489.6l0.4,0.8M805.7,473.0l-0.4,0.8M601.0,495.4l-0.3,1.3M140.2,477.8l0.4,1.2M185.7,478.3l-0.3,1.5M142.5,489.8l-0.1,0.6M676.4,468.5l0.5,1.5M532.3,464.3l0.1,1.3M767.7,486.5l0.2,1.4M532.9,490.6l0.3,0.5M999.7,480.9l-0.0,1.5M499.5,469.2l0.2,0.8M902.2,480.2l-0.3,1.4M133.1,493.7l-0.4,0.9M41.1,489.8l-0.4,1.6M454.1,478.2l-0.4,1.7M866.4,495.5l0.5,0.7M256.1,482.3l0.3,1.5M617.3,492.0l0.4,0.6M474.0,484.8l0.1,1.3M641.8,497.8l-0.2,1.8M145.1,497.3l0.2,1.2M272.9,462.6l-0.4,0.8M929.9,490.7l-0.0,1.6M729.6,485.4l-0.4,1.3M114.7,475.1l-0.2,0.6M699.8,462.8l0.2,1.4M573.4,459.2l-0.4,1.5M457.4,489.7l0.3,0.6M288.3,460.3l0.5,0.6M534.9,473.7l0.3,1.5M505.6,495.2l0.4,1.6M593.7,465.4l0.2,0.6M713.9,494.6l-0.2,1.7M145.9,470.8l0.2,0.7M876.6,499.9l-0.1,0.5M739.0,467.8l-0.4,0.7M309.3,476.7l-0.1,0.5M824.5,458.1l-0.4,1.0M506.0,481.3l0.4,1.5M17.8,462.3l0.1,1.5M438.9,486.7l0.3,0.9M469.6,486.4l0.2,0.8M514.3,468.5l0.3,1.5M91.9,499.8l-0.4,0.9M443.6,473.4l-0.4,1.6M839.7,485.9l-0.0,1.0M474.5,461.7l0.5,0.7M536.6,479.8l-0.1,0.8M172.6,500.4l-0.2,1.8M216.1,474.5l-0.2,1.7M376.8,488.2l-0.5,1.3M281.7,480.1l-0.1,0.9M47.3,458.0l-0.4,0.6M557.7,467.2l0.4,0.6M596.8,459.3l-0.1,1.5M175.1,473.7l0.5,1.6M752.3,479.5l0.5,0.8M469.6,468.2l-0.3,0.7M473.3,494.0l-0.4,1.1M399.1,496.1l-0.5,0.8M609.9,491.2l-0.2,1.1M295.9,460.8l0.1,1.4M382.8,487.5l-0.1,1.6M363.9,475.0l0.4,0.9M465.5,462.7l0.1,1.4M663.5,489.2l-0.3,1.6M68.5,488.7l-0.4,1.5M446.5,474.1l-0.1,1.0M520.7,484.3l0.0,1.3M587.9,465.3l0.5,1.6M349.7,465.4l-0.4,0.7M678.3,462.5l-0.5,1.6M898.6,484.3l-0.2,1.6M853.4,480.4l0.5,1.7M406.1,479.7l0.4,1.8M872.3,467.6l0.1,0.7M497.5,462.0l-0.4,1.6M356.3,486.1l-0.5,0.9M311.8,485.5l0.0,0.7M395.3,498.0l-0.2,1.4M62.1,482.7l-0.3,1.4M277.4,476.8l-0.1,1.1M926.1,473.0l-0.4,0.8M966.2,499.4l0.2,1.4M759.9,500.2l-0.3,1.4M20.8,494.9l0.0,1.5M579.8,460.9l0.2,1.2M530.2,500.4l-0.2,1.3M440.7,489.4l-0.1,0.6M897.5,482.7l0.0,0.7M544.7,463.1l0.4,0.9M928.9,466.9l-0.0,0.5M153.2,481.5l0.3,0.9M737.7,467.5l-0.3,1.0M105.7,496.3l-0.4,0.7M623.9,482.3l-0.2,0.7M550.4,498.0l-0.4,0.6M486.8,499.2l0.3,1.4M498.4,498.3l-0.3,0.9M30.5,495.5l0.3,1.7M933.4,500.9l-0.0,1.0M203.1,461.1l-0.1,0.9M456.4,466.6l-0.4,1.1M137.0,458.7l-0.2,0.9M478.8,489.3l-0.3,0.7M915.5,469.0l0.2,1.6M301.0,487.2l-0.4,1.8M282.0,490.6l0.2,1.7M549.3,460.0l0.2,1.1M761.4,471.6l0.3,0.6M33.9,495.7l0.4,0.9M639.4,493.3l0.0,1.4M426.1,475.3l-0.3,1.0M881.2,475.9l-0.1,0.9M668.1,468.3l0.4,1.1M545.9,492.2l-0.4,1.8M491.6,473.7l-0.4,0.6M741.1,469.4l-0.2,1.0M127.8,474.9l-0.1,0.6M850.3,484.7l0.5,1.2M343.6,483.1l0.1,1.5M263.1,497.1l0.3,1.6M221.1,487.9l0.1,0.9M630.7,482.3l-0.1,1.4M174.4,497.8l0.2,1.4M904.8,494.6l-0.4,1.1M374.4,477.1l0.0,1.5M722.5,478.7l0.0,1.6M648.3,459.5l-0.5,1.5M238.7,493.9l-0.3,1.7M584.9,484.1l0.3,0.9M352.5,499.2l0.3,0.7M746.3,464.5l-0.3,0.6M282.9,494.6l0.4,1.3M255.2,458.4l-0.4,0.6M316.3,495.7l-0.4,0.7M85.5,472.6l-0.0,0.9M262.8,477.8l-0.4,1.2M209.5,483.9l-0.2,1.6M485.5,482.2l0.1,1.5M685.3,481.8l-0.3,0.8M885.9,489.8l-0.3,1.2M862.6,467.0l0.3,1.1M320.8,495.3l-0.4,0.5M118.1,473.2l0.0,1.0M469.8,494.2l0.0,0.5M372.3,479.2l0.3,1.6M995.2,500.6l0.4,1.0M410.8,459.9l-0.1,0.5M916.4,473.0l0.1,1.5M409.4,464.2l0.4,0.7M621.1,468.9l-0.1,0.9M21.3,480.7l-0.4,1.1M353.7,468.9l-0.0,1.4M805.3,465.6l0.5,0.9M981.1,473.2l0.4,0.8M875.7,471.9l0.5,1.7M210.5,468.0l0.0,1.6M769.8,488.5l0.4,1.1M34.1,465.3l-0.4,1.8M252.1,461.3l-0.3,1.1M798.4,460.7l0.5,1.4M299.6,475.2l0.3,1.8M804.7,497.1l-0.0,1.3M54.0,473.1l0.3,1.0M503.4,500.4l0.5,1.4M534.0,490.0l0.1,1.5M606.5,463.2l-0.0,1.8M72.8,475.8l0.4,1.5M242.1,481.0l-0.1,1.1M153.7,466.9l-0.1,1.2M623.4,486.4l-0.1,1.1M607.3,479.3l-0.3,0.9M100.2,487.0l-0.0,1.4M471.3,472.1l-0.3,1.8M448.1,483.3l0.4,1.3M547.3,490.7l0.4,0.8M37.7,469.2l-0.3,1.5M680.8,492.7l0.2,1.6M251.8,500.0l0.1,0.5M522.7,464.6l0.0,1.2M610.0,487.6l0.3,0.7M721.7,470.6l0.2,0.8M599.7,475.1l-0.4,1.3M430.7,496.5l0.4,0.7M136.8,476.7l-0.5,1.6M610.3,461.9l0.3,1.5M794.4,481.6l-0.0,1.3M149.4,467.1l-0.3,1.5M333.8,482.9l-0.1,1.8M383.3,472.9l0.0,1.2M273.4,466.5l0.4,0.6M820.6,477.4l-0.1,0.5M894.4,465.1l-0.5,1.0M170.1,460.3l0.2,0.9M705.3,481.1l-0.0,0.6M271.2,481.8l-0.3,0.8M521.0,497.7l0.1,1.1M668.4,477.2l0.1,1.5M38.0,500.1l-0.1,1.3M708.0,472.5l-0.1,1.2M42.1,470.7l-0.3,1.3M58.2,465.8l-0.0,0.9M227.6,496.9l-0.3,1.7M471.1,497.1l-0.4,0.8M282.5,487.3l0.1,0.9M199.0,466.2l0.1,1.5M673.4,490.9l0.1,0.9M467.1,482.0l0.1,1.0M511.9,487.3l0.3,1.3M933.8,461.2l0.2,0.7M630.0,463.9l0.2,1.5M615.9,473.1l0.2,1.0M886.6,478.5l-0.3,0.8M436.6,476.5l-0.3,1.2M808.9,466.0l-0.4,1.7M212.5,465.4l-0.4,1.4M411.4,458.3l-0.1,0.7M294.7,497.9l-0.5,1.3M261.1,469.8l0.0,0.7M703.9,470.4l-0.4,1.1M564.7,487.1l0.1,1.4M443.3,497.4l-0.4,0.7M261.3,475.3l-0.5,1.4M308.8,466.1l0.3,1.0M787.4,461.0l-0.1,0.6M333.7,471.9l0.5,1.4M953.4,488.8l0.1,1.3M531.0,492.7l-0.3,1.7M324.4,466.6l-0.3,0.9M115.2,493.0l-0.2,1.7M704.5,473.7l-0.4,0.6M613.7,493.6l-0.3,1.3M117.6,483.9l0.4,0.5M798.1,467.2l-0.0,1.3M756.7,467.2l0.2,0.9M416.7,483.9l0.1,1.3M164.8,500.6l0.0,1.4M250.3,470.3l-0.3,0.6M813.7,465.1l0.2,0.9M118.9,478.0l0.1,1.8M305.7,466.4l0.4,1.5M679.6,490.0l-0.1,0.6M80.9,463.5l-0.3,1.4M750.5,472.9l-0.1,1.3M823.9,477.4l0.3,1.5M351.2,461.8l-0.4,1.2M150.7,494.7l0.3,1.6M132.8,490.3l0.4,0.7M443.8,463.9l-0.0,0.9M834.4,491.6l0.1,0.8M792.1,468.1l-0.1,0.8M956.8,472.1l-0.5,1.2M693.2,461.9l-0.1,1.1M639.6,489.2l0.0,1.5M679.1,487.9l0.2,1.8M633.8,497.3l-0.4,1.5M437.2,497.5l-0.4,1.5M317.9,485.2l-0.4,0.8M476.7,493.1l0.1,0.8M551.7,482.9l-0.4,0.6M156.2,479.9l0.3,1.1M824.0,490.9l-0.5,0.7M38.9,471.2l-0.0,1.5M48.2,497.7l-0.2,0.7M617.1,459.4l-0.2,0.9M693.0,481.7l0.4,0.5M56.1,471.8l-0.1,0.8M793.9,483.7l0.4,1.2M765.8,469.1l-0.1,0.6M486.9,471.6l0.5,1.2M988.8,475.7l-0.1,1.0M497.1,480.2l0.4,0.7M151.2,478.4l-0.4,1.1M450.9,490.1l-0.4,0.8M718.4,493.2l0.3,0.9M422.8,468.6l0.5,0.6M441.3,471.2l0.1,1.3M40.0,490.0l-0.0,1.2M350.3,467.6l0.5,0.8M168.9,484.4l-0.0,0.5M51.0,470.8l0.2,1.3M83.7,494.6l0.1,1.5M149.6,464.1l-0.3,0.9M820.2,473.3l-0.2,0.9M0.8,484.3l-0.1,0.6M998.3,480.1l-0.0,1.5M503.9,484.5l-0.2,1.7M289.4,463.6l0.1,1.4M541.2,461.5l-0.1,1.3M507.1,465.1l-0.1,0.7M796.1,475.1l0.0,0.8M977.1,468.9l0.0,1.5M425.0,483.6l0.2,0.6M614.3,460.4l-0.1,1.0M758.0,485.1l0.5,1.0M232.0,484.0l0.4,0.5M477.6,459.5l0.3,1.6M289.9,479.1l-0.1,0.5M327.3,462.1l-0.5,1.3M686.7,482.2l0.4,1.8M735.4,472.2l-0.2,0.8M143.5,484.1l-0.2,0.7M659.3,491.8l-0.1,1.5M476.9,495.3l0.3,1.5M332.9,491.3l0.3,1.6M209.5,497.1l-0.0,1.2M804.0,484.3l0.2,1.0M195.6,484.9l-0.2,1.5M261.3,490.1l-0.4,1.8M206.6,494.2l-0.2,0.7M699.7,480.1l0.3,1.0M428.1,478.4l0.4,1.8M930.5,476.3l-0.2,1.2M410.0,475.5l-0.2,1.4M797.3,459.9l-0.3,1.5M108.1,497.8l0.4,1.0M500.4,470.8l-0.3,1.7M328.0,476.3l0.2,1.2M272.2,482.8l0.1,0.9M171.8,475.4l-0.0,0.7M335.3,458.9l-0.1,1.5M824.1,464.8l-0.0,0.6M791.6,485.2l-0.1,1.4M865.3,495.3l0.0,1.2M954.8,472.5l-0.1,1.1M7.2,499.1l-0.4,1.4M624.2,477.3l-0.2,1.4M747.4,491.4l-0.2,1.2M675.9,463.4l-0.4,1.6M877.5,474.8l0.0,1.4M712.2,488.6l-0.1,1.7M140.2,479.0l0.2,1.8M408.8,480.4l-0.5,0.5M926.4,477.8l0.2,0.8M93.9,458.9l0.4,1.1M468.2,487.8l-0.0,0.5M897.8,467.6l-0.2,1.7M950.5,482.3l0.3,1.1M939.3,497.2l0.4,1.0M888.5,481.8l-0.2,1.5M15.4,462.0l-0.3,0.9M293.4,480.2l-0.3,1.2M839.8,474.7l0.1,1.2M294.7,498.1l0.2,1.1M881.5,500.8l0.5,1.6M70.4,467.8l-0.3,0.9M134.5,464.4l0.2,1.3M341.9,486.7l0.4,0.8M256.0,496.2l-0.3,1.0M386.3,464.3l-0.3,1.4M576.8,467.0l0.4,0.7M791.5,476.2l0.4,1.1M77.2,496.6l-0.1,0.8M160.5,496.1l0.3,1.1M314.4,473.8l-0.2,1.6M817.8,466.8l0.1,1.6M559.3,463.0l0.3,1.5M938.4,469.7l-0.4,0.8M453.1,460.2l0.3,0.8M327.1,469.8l0.3,1.4M215.0,478.1l0.1,0.8M332.7,458.6l0.0,1.5M95.8,477.3l0.3,0.9M548.7,488.4l0.5,1.1M998.5,492.9l-0.3,0.8M39.3,490.6l-0.3,1.0M315.7,472.7l0.0,1.7M827.6,488.4l0.3,1.0M773.5,486.2l0.4,0.9M908.5,498.0l0.2,0.8M500.6,494.4l-0.3,1.3M948.3,473.8l0.1,1.7M589.9,475.9l0.5,0.7M475.3,494.7l0.4,1.0M601.9,494.8l0.4,1.0M162.6,475.7l-0.3,0.6M915.4,481.1l0.0,1.4M738.2,484.3l-0.3,0.6M966.5,481.7l-0.4,1.2M220.6,481.3l0.3,1.1M330.1,497.2l-0.4,1.3M244.9,481.6l-0.1,1.0M639.8,483.5l0.4,1.1M480.1,465.8l-0.0,1.0M771.7,466.2l-0.3,1.7M323.4,497.5l-0.3,0.9M492.9,483.5l0.0,1.4M141.6,469.5l0.4,0.8M280.3,482.3l-0.2,1.6M715.9,493.2l-0.3,0.6M903.3,463.5l0.2,1.7M167.5,480.3l-0.3,1.5M646.3,486.6l-0.3,0.6M205.9,489.6l0.2,0.7M261.6,492.9l-0.5,0.6M245.3,465.0l0.3,1.7M839.2,480.0l-0.3,1.1M108.4,501.0l0.1,1.6M818.9,478.2l-0.2,1.0M853.9,498.5l0.2,1.4M535.0,486.6l0.3,1.7M910.1,478.9l-0.5,0.9M972.8,495.5l-0.3,0.7M945.3,476.1l-0.4,1.5M578.4,493.4l-0.3,1.5M984.6,469.0l0.1,0.9M945.2,491.1l-0.5,0.9M606.4,461.0l-0.5,1.1M174.4,492.7l-0.4,1.6M690.4,494.3l-0.5,1.8M522.2,468.7l0.1,0.6M87.1,495.6l0.4,0.6M100.8,482.0l0.1,0.8M628.2,458.6l0.1,1.6M552.1,490.1l0.5,1.6M780.9,472.9l0.4,1.2M558.8,460.9l0.5,0.6M473.6,486.0l-0.3,0.7M486.2,490.6l-0.3,0.5M496.3,474.1l-0.5,0.6M581.4,495.5l0.0,0.7M461.8,491.3l0.4,1.6M114.0,479.1l0.0,1.5M103.1,484.4l0.2,1.5M515.6,473.0l0.3,0.7M40.2,478.1l0.3,1.3M411.9,480.2l-0.2,0.8M456.2,465.5l-0.4,0.5M147.6,488.7l-0.4,0.9M130.9,480.3l0.4,1.2M848.4,473.3l0.0,1.1M400.4,499.1l-0.3,1.5M265.4,482.9l-0.2,1.4M424.0,484.4l-0.2,0.9M542.3,490.8l-0.2,1.8M515.0,461.2l-0.0,1.0M494.9,460.0l-0.5,1.3M609.8,468.1l-0.2,1.5M638.6,480.5l0.5,1.1M946.7,479.1l-0.5,1.0M431.9,496.5l-0.3,1.3M566.6,470.4l-0.2,1.2M505.7,494.2l-0.0,0.7M264.3,477.5l-0.4,0.7M768.9,490.0l-0.2,1.2M722.0,477.1l-0.3,1.7M335.8,484.6l-0.1,0.7M445.4,476.0l-0.1,1.2M283.5,477.5l0.1,1.4M459.2,486.4l0.2,0.9M113.5,472.4l-0.3,0.7M12.5,488.8l0.4,1.5M26.0,484.0l0.3,1.0M322.7,489.1l-0.1,0.5M986.7,486.5l-0.1,1.8M358.0,482.3l0.0,0.6M123.6,464.7l0.4,1.5M946.2,480.6l0.5,1.7M968.7,463.0l-0.0,0.7M830.3,486.9l0.1,1.0M983.6,480.3l-0.1,1.3M541.1,461.5l-0.1,1.8M731.7,466.6l-0.2,0.5M116.6,461.3l0.2,0.5M621.0,470.1l-0.0,0.7M516.6,496.2l0.2,1.4M496.5,472.9l-0.4,0.6M513.9,459.0l-0.1,1.0M873.8,469.3l0.2,1.0M32.0,472.7l-0.3,1.0M110.7,470.2l-0.2,1.2M809.6,478.4l-0.3,1.6M75.5,479.7l-0.1,0.6M471.6,472.6l-0.2,1.3M124.0,492.5l0.5,1.2M493.6,494.8l0.3,1.5M653.4,499.4l0.1,1.3M430.0,497.5l0.2,0.6M104.1,469.5l0.4,0.9M356.6,485.7l-0.4,0.9M798.5,486.7l-0.5,1.3M854.5,477.2l0.1,1.3M568.9,500.2l-0.0,1.7M589.8,479.5l-0.3,0.7M678.3,490.5l-0.1,1.4M547.6,486.6l-0.4,1.2M415.7,489.2l0.0,1.4M42.0,474.6l0.1,0.5M910.9,487.8l0.4,1.6M951.5,470.9l-0.4,1.7M897.3,489.3l-0.3,1.6M655.4,498.9l-0.2,1.7M380.3,477.6l-0.5,1.3M442.0,465.1l-0.4,0.6M28.6,465.4l0.2,1.2M353.4,487.8l0.1,0.6M226.1,482.5l-0.1,1.5M587.6,488.9l-0.0,0.8M357.5,495.9l-0.2,1.5M882.8,486.0l-0.2,1.1M389.0,472.9l0.4,1.1M442.4,490.1l-0.4,0.6M319.1,472.0l0.3,1.7M135.2,472.7l-0.5,0.7M16.3,496.9l0.2,1.2M86.9,476.2l-0.0,1.2M158.4,472.7l0.1,1.4M284.0,485.8l-0.4,0.6M862.3,475.4l-0.2,1.2M297.9,464.3l0.4,0.9M823.1,480.6l-0.4,1.0M563.5,497.5l-0.1,1.1M99.4,468.5l0.4,1.4M155.1,470.0l-0.4,1.6M653.8,497.7l-0.2,1.7M423.2,478.0l-0.3,0.7M935.1,484.1l0.4,1.3M603.5,479.3l-0.4,1.5M796.7,481.9l0.3,0.5M930.4,488.4l0.2,1.0M925.6,458.6l-0.3,0.7M33.4,461.5l0.5,0.6M568.8,500.4l-0.2,0.6M259.6,473.9l-0.5,1.6M457.3,458.3l0.4,0.8M507.5,466.2l-0.2,0.5M742.0,475.4l-0.5,0.9M15.9,459.1l-0.2,1.3M138.5,488.6l-0.2,1.3M387.6,483.9l0.4,0.7M309.8,463.9l0.0,1.1M514.6,468.0l0.4,1.6M460.7,470.2l-0.1,1.4M116.1,466.0l0.4,0.8M500.5,459.6l-0.1,0.8M370.1,459.9l0.5,1.7M643.9,489.7l0.3,1.0M872.7,474.2l-0.3,1.8M247.6,486.2l-0.4,0.7M524.9,491.5l0.0,1.4M919.4,474.1l0.2,1.8M309.3,499.6l-0.1,0.6M814.4,490.0l-0.4,1.1M993.3,462.5l0.1,0.9M505.1,480.2l0.5,1.0M969.1,496.1l0.4,0.5M819.4,462.1l0.4,1.6M275.1,482.1l0.3,1.1M836.2,491.6l0.3,0.5M473.6,493.9l0.2,0.8M515.4,466.0l0.1,1.6M2.7,464.8l-0.3,1.3M549.5,461.6l0.3,0.5M849.9,473.1l0.1,0.7M307.9,498.5l0.1,1.5M689.9,471.2l0.4,0.7M980.2,500.0l0.3,0.9M754.6,468.7l-0.5,1.3M120.6,467.2l0.3,1.3M212.0,482.0l-0.1,0.6M333.7,471.6l0.0,0.9M91.6,472.5l-0.3,1.0M778.3,470.2l-0.0,0.9M552.6,466.5l0.1,1.7M980.2,458.4l-0.4,1.0M123.6,495.9l-0.4,1.0M81.5,493.5l-0.1,1.4M131.2,475.1l-0.2,1.6M200.7,468.1l-0.4,1.2M77.9,490.1l-0.2,1.0M834.7,494.7l-0.0,1.0M540.1,474.1l-0.1,1.1M277.3,463.8l-0.0,1.2M100.6,466.2l0.4,1.5M421.3,496.4l0.2,1.7M718.4,478.8l-0.1,1.6M898.6,491.0l0.1,1.0M275.8,463.3l0.4,0.7M532.1,498.6l0.2,1.8M570.5,491.9l-0.3,0.6M723.0,478.5l0.4,0.6M749.9,499.9l0.1,1.6M302.3,485.7l-0.2,0.6M731.2,476.4l0.3,1.0M802.5,464.1l0.4,0.6M704.5,495.5l-0.4,1.6M363.5,496.5l0.1,1.3M662.8,493.8l0.3,1.8M80.7,483.9l0.2,0.7M207.4,470.5l0.3,1.6M276.7,466.9l-0.1,0.8M375.2,479.2l0.2,0.6M824.6,480.6l0.3,1.5M449.3,458.9l0.5,1.5M361.3,488.6l-0.3,0.9M475.6,477.0l-0.2,1.0M565.7,492.3l-0.0,0.8M324.9,463.4l0.5,1.1M600.4,497.5l0.2,1.5M793.5,465.5l0.2,1.2M798.3,474.7l0.3,0.9M275.5,499.7l-0.0,0.6M888.3,460.5l-0.5,1.1M546.4,496.7l0.1,1.3M699.1,499.6l-0.5,0.6M655.7,467.2l0.0,1.5M960.4,465.5l-0.5,1.3M273.7,488.9l-0.4,0.9M774.6,465.7l-0.3,1.2M542.9,488.9l-0.1,0.9M292.2,486.6l-0.2,0.8M231.0,498.5l-0.0,1.0M58.1,500.9l0.5,0.8M294.6,499.6l-0.3,1.0M943.2,485.5l0.4,1.8M494.2,470.8l-0.4,0.7M778.2,472.2l0.1,1.1M114.5,479.3l0.1,1.6M720.6,464.3l-0.2,0.6M494.5,469.8l-0.2,1.1M169.7,465.0l-0.0,0.6M658.2,493.0l-0.3,1.0M745.5,469.0l0.3,1.3M186.7,500.2l0.2,0.6M608.7,490.4l0.5,1.6M281.1,473.7l0.2,1.1M552.1,488.9l-0.1,1.3M567.9,496.5l-0.3,1.5M459.4,472.9l-0.2,0.8M81.2,483.7l0.1,1.1M346.9,463.5l0.1,1.2M66.3,459.5l0.4,1.7M156.3,479.8l0.2,1.4M411.8,480.2l-0.4,1.8M378.3,474.0l0.4,1.0M677.1,498.6l-0.2,1.7M818.0,481.5l0.1,1.3M627.3,485.3l0.3,1.7M957.4,500.4l-0.3,1.4M19.1,458.8l-0.5,1.7M439.4,461.7l-0.2,0.8M827.0,488.3l0.3,1.3M891.7,475.3l-0.3,0.6M570.3,459.4l-0.3,1.2M32.6,469.2l-0.4,1.1M794.0,496.0l0.1,1.5M9.5,486.6l0.0,1.1M806.1,473.1l0.1,1.3M929.0,483.5l-0.1,1.2M455.0,469.0l0.1,0.8M18.3,499.2l0.0,0.8M811.4,477.1l-0.3,0.6M79.0,477.1l-0.4,1.6M252.4,490.2l-0.3,0.6M918.6,477.1l0.3,1.3M187.6,459.0l-0.0,1.8M310.3,478.2l0.1,0.8M827.4,484.3l0.2,1.1M842.4,482.4l-0.1,1.0M18.7,469.0l-0.3,1.3M505.2,485.9l-0.2,1.6M245.5,466.0l0.1,1.6M135.0,496.9l0.5,1.0M641.4,500.8l0.4,1.5M257.0,465.6l-0.3,1.4M929.9,490.4l-0.2,0.7M484.6,495.3l-0.2,1.5M174.0,492.4l0.3,0.9M98.2,473.4l0.1,1.5M950.5,483.7l0.3,0.5M636.5,491.3l-0.4,1.5M785.8,485.6l-0.4,1.6M972.8,482.5l0.2,1.0M388.1,461.9l0.0,1.6M387.2,477.5l-0.0,0.9M334.6,495.2l-0.3,1.2M984.7,460.3l-0.2,1.5M12.4,497.9l0.2,1.3M399.5,493.3l0.1,1.6M256.1,495.3l-0.3,1.4M114.2,499.0l0.4,1.5M175.5,472.7l-0.4,1.1M459.4,481.3l0.4,1.7M927.8,500.7l-0.1,0.9M819.0,492.5l-0.4,0.9M33.9,468.8l-0.3,1.1M921.5,476.2l-0.2,0.6M613.8,482.0l-0.4,1.1M273.6,500.0l-0.3,1.5M549.0,499.5l-0.5,1.3M823.1,479.7l-0.2,0.9M230.7,491.2l-0.4,1.2M65.5,487.8l-0.3,0.8M555.9,484.9l-0.2,1.7M884.7,497.4l-0.2,0.5M733.8,458.4l0.3,1.4M608.8,459.9l0.1,1.4M187.1,474.5l-0.1,0.8M984.8,492.9l0.1,1.0M679.4,492.3l-0.2,0.9M932.4,467.5l-0.3,1.1M444.7,458.1l-0.4,1.8M350.1,458.1l0.4,1.7M935.7,485.4l0.0,1.0M106.0,469.0l0.4,1.2M978.6,493.8l0.2,0.9M804.6,491.0l0.0,1.5M395.5,458.3l0.0,0.6M323.2,478.1l0.1,0.6M588.7,489.0l-0.3,1.4M665.3,461.3l-0.4,0.7M610.5,484.2l-0.4,1.7M496.7,482.2l-0.3,1.2M930.5,482.1l0.1,1.0M802.8,459.7l-0.4,0.7M594.0,487.5l-0.2,0.8M342.4,460.5l-0.3,1.5M923.4,459.7l0.4,1.1M324.6,495.7l-0.1,1.3M600.8,494.5l-0.5,1.4M162.2,485.1l-0.4,1.0M922.2,490.8l0.2,0.9M948.5,476.4l-0.3,1.3M231.5,480.4l0.3,1.7M925.3,484.7l0.3,1.6M654.7,495.2l0.5,1.7M811.8,488.7l-0.0,1.6M590.9,486.8l-0.1,0.8M762.9,477.7l0.4,1.2M26.6,471.8l-0.3,1.3M290.8,470.7l-0.2,0.9M57.7,466.7l-0.4,0.8M3.7,490.6l-0.2,0.9M435.6,476.9l0.3,0.8M161.7,468.3l-0.3,1.7M185.4,493.6l0.5,0.9M90.4,493.5l-0.1,1.2M355.1,458.8l-0.0,0.7M352.9,465.5l-0.5,1.4M106.1,472.2l0.0,0.7M540.7,489.7l0.4,0.9M233.1,494.9l0.4,0.9M876.7,461.8l-0.1,1.2M402.8,464.4l-0.4,1.3M591.0,490.4l-0.1,0.9M725.9,473.5l0.1,1.5M672.4,458.6l-0.0,1.2M981.9,477.4l-0.3,1.5M355.0,478.9l0.2,1.4M526.7,465.3l0.1,0.5M865.9,492.9l-0.2,0.8M253.8,494.7l0.1,1.4M443.8,469.0l-0.1,0.8M688.7,490.9l0.3,1.5M24.0,482.0l0.4,1.0M150.7,472.4l0.3,1.7M25.4,495.9l0.1,0.9M81.0,488.7l-0.0,1.6M539.5,488.3l0.0,1.7M389.6,471.4l0.3,1.3M903.1,490.1l0.2,1.1M843.5,467.8l-0.3,0.9M50.0,463.1l0.2,0.5M514.4,497.3l0.3,1.7M790.3,458.5l-0.2,1.6M407.5,491.0l-0.2,1.5M565.4,493.7l-0.2,0.6M92.8,461.4l-0.2,1.2M378.3,478.7l0.2,1.8M957.1,497.8l-0.2,1.3M226.5,493.8l-0.4,0.6M8.7,464.8l-0.2,0.6M595.0,469.9l0.2,0.6M47.1,472.8l-0.4,1.3M0.4,463.9l0.5,0.7M344.7,459.2l0.4,0.6M565.1,478.3l0.4,1.6M95.6,471.9l-0.3,1.6M94.7,471.4l0.2,0.9M200.1,471.0l-0.1,1.0M561.4,463.4l-0.4,1.8M822.4,459.0l-0.0,0.9M636.9,484.8l-0.5,1.1M615.2,474.6l0.3,1.4M454.1,461.4l0.4,1.6M41.8,469.1l0.1,1.7M809.8,496.3l-0.5,1.8M270.1,471.5l0.4,1.7M36.0,496.1l-0.2,1.5M612.6,489.5l-0.3,0.7M625.1,491.0l0.4,0.8M191.5,487.2l-0.5,1.5M945.0,476.4l-0.5,1.8M134.8,485.0l0.2,1.0M439.4,499.4l-0.1,0.7M503.4,463.3l-0.0,0.8M949.0,462.9l0.2,1.8M527.7,499.1l0.2,1.2M518.6,491.4l-0.4,0.6M742.4,490.1l-0.2,1.0M350.5,486.0l-0.4,0.8M665.7,496.9l0.3,0.9M74.7,472.9l0.5,1.6M791.5,483.8l0.4,1.4M554.1,495.5l0.3,1.5M436.0,479.9l-0.3,1.3M713.0,463.6l-0.0,1.8M911.5,493.8l0.1,0.7M805.0,486.4l-0.2,1.3M212.8,475.7l-0.4,1.5M660.4,497.6l-0.1,1.2M277.2,474.6l0.2,1.2M224.5,460.0l-0.2,1.7M125.0,499.7l-0.0,1.2M354.6,464.5l-0.1,1.3M221.7,498.9l0.3,0.8M282.8,490.7l0.0,1.4M754.7,488.4l-0.3,0.8M791.3,460.6l-0.3,0.6M800.7,490.2l0.4,0.6M553.8,471.0l0.3,0.7M581.8,459.7l-0.4,1.1M767.3,500.7l-0.1,1.2M948.5,465.3l0.1,1.0M595.6,490.6l0.4,0.6M540.1,494.6l-0.5,1.2M812.9,460.8l0.1,1.6M581.8,458.3l0.3,1.7M418.5,460.7l0.1,1.6M45.8,485.3l-0.3,0.6M831.6,491.3l0.5,1.1M177.7,470.8l-0.2,0.6M70.9,475.5l0.2,1.6M318.2,488.0l0.3,1.0M473.3,458.6l-0.1,1.7M772.4,483.9l0.0,1.6M85.1,489.4l0.1,1.3M128.6,474.6l-0.1,1.6M275.4,494.9l0.5,1.0M356.3,477.9l-0.4,0.9M313.3,474.4l-0.4,1.7M855.4,475.3l0.3,0.8M115.9,483.5l0.5,1.7M222.1,498.1l-0.5,1.3M100.2,461.7l0.0,0.5M594.3,486.6l-0.3,1.7M682.1,459.8l-0.4,1.0M530.7,460.5l0.4,0.6M57.8,490.2l-0.4,0.8" stroke="#d5d5d5" stroke-width="1.3" stroke-linecap="round" fill="none"/><path d="M49.3,466.8l-0.3,1.3M342.6,465.5l-0.1,1.3M652.2,459.7l0.1,1.5M290.8,491.5l-0.4,2.2M360.9,480.9l0.1,2.2M9.3,477.2l-0.3,0.8M799.2,466.2l0.3,0.8M762.5,484.3l0.1,1.4M556.6,501.0l0.2,1.0M846.5,489.3l-0.3,0.6M647.8,460.6l0.0,1.1M56.5,459.8l-0.1,1.4M969.5,495.2l0.4,1.9M538.9,466.3l0.0,1.2M892.2,466.2l0.2,1.6M839.5,458.8l-0.3,1.0M443.4,489.4l0.3,1.8M796.7,489.1l-0.2,1.9M284.7,478.9l-0.5,2.0M201.9,462.0l-0.4,0.6M488.4,464.5l-0.5,1.4M309.2,472.2l0.2,0.9M622.5,466.5l-0.1,2.0M468.6,473.6l-0.2,1.9M542.0,493.0l0.1,2.2M836.7,495.4l-0.1,1.0M832.3,476.9l-0.1,1.7M470.3,482.5l-0.2,1.1M122.1,500.3l0.2,2.0M506.1,466.6l-0.1,0.8M619.3,498.9l0.1,1.6M883.7,466.6l-0.2,1.5M196.8,458.5l0.4,1.6M172.5,477.8l-0.2,2.2M285.2,462.0l-0.2,2.0M622.5,492.3l-0.3,1.3M208.2,488.8l0.1,0.7M342.8,490.1l-0.2,2.3M798.4,478.5l0.5,1.8M200.7,494.9l-0.0,1.3M716.9,497.0l-0.2,1.4M434.8,479.9l0.3,2.2M909.3,463.9l-0.2,1.3M6.1,470.3l-0.2,2.2M562.7,473.4l0.1,1.8M43.9,482.7l-0.1,0.7M287.2,466.0l-0.3,1.3M696.0,470.6l-0.2,1.9M60.3,487.8l-0.0,0.8M483.8,473.0l0.3,1.9M322.5,494.0l0.2,1.5M675.9,472.1l0.4,1.6M157.0,492.6l0.1,1.4M209.0,488.1l-0.1,1.5M143.7,488.2l-0.5,1.7M664.0,482.7l-0.0,1.7M551.1,472.6l-0.5,0.9M318.0,461.6l0.0,2.1M691.4,479.0l0.5,2.1M128.4,475.1l0.1,1.5M71.7,470.4l0.5,1.0M826.8,469.6l-0.0,2.4M639.3,491.1l-0.3,1.6M284.7,495.0l-0.3,2.0M254.3,466.5l-0.4,1.5M148.8,474.1l0.5,1.0M568.9,490.8l0.2,1.8M648.2,460.9l0.2,1.7M69.2,490.1l-0.1,1.2M824.3,484.1l0.1,2.2M609.9,490.5l-0.3,2.0M859.3,491.4l0.2,1.7M616.9,468.6l-0.3,1.8M857.6,495.2l-0.1,0.7M877.1,484.9l0.5,1.9M351.3,485.8l-0.0,2.0M687.0,498.1l-0.0,1.2M696.5,489.7l-0.0,1.8M826.5,467.3l0.4,1.8M495.4,487.9l0.3,2.0M999.3,480.8l-0.4,0.8M43.8,462.4l0.1,0.8M459.4,463.6l0.1,0.7M289.2,464.2l0.3,2.4M196.5,460.5l0.1,1.0M188.0,476.5l0.0,2.0M802.6,487.2l0.4,1.4M836.2,469.4l-0.1,1.4M112.9,491.4l-0.0,0.7M533.2,487.2l0.2,2.0M155.9,466.6l0.1,1.4M560.4,458.1l0.2,1.9M903.2,497.7l-0.1,1.3M501.6,490.6l-0.3,0.7M262.4,467.3l-0.2,0.9M264.4,459.6l0.0,2.0M893.7,496.8l-0.1,2.1M815.9,473.9l0.3,0.9M769.3,474.9l0.1,1.3M542.0,471.9l-0.1,0.8M344.8,465.1l0.1,1.7M18.8,475.9l0.2,1.4M641.2,480.4l0.2,1.1M687.2,460.0l-0.0,2.1M710.4,472.4l-0.2,2.3M690.7,460.5l0.0,0.7M207.6,476.3l-0.5,0.8M692.8,483.3l-0.0,0.9M683.2,483.0l0.3,1.1M711.2,468.9l0.4,1.0M78.7,473.8l-0.3,0.7M581.1,488.4l-0.2,1.3M43.8,480.9l-0.5,1.6M445.5,489.5l-0.1,1.4M367.5,492.1l-0.2,0.8M407.1,471.8l-0.2,0.8M839.9,460.1l0.2,1.6M407.2,485.2l0.4,1.0M851.9,486.2l0.3,1.4M236.9,460.7l0.4,1.1M330.5,460.6l0.3,2.1M407.0,494.9l-0.4,2.2M922.3,458.7l0.1,2.4M161.0,484.8l0.5,1.3M942.4,467.6l-0.5,0.8M622.0,459.3l0.1,2.1M839.0,486.6l-0.1,0.6M374.8,485.9l-0.4,1.7M934.7,489.1l0.4,1.8M605.4,479.4l-0.0,1.3M954.9,490.2l0.2,1.8M117.9,466.4l0.2,1.5M225.6,475.2l0.4,1.4M774.5,490.1l0.4,1.7M614.0,496.9l0.2,2.2M131.2,487.7l-0.2,1.6M244.9,496.2l0.3,1.0M333.3,467.9l-0.0,1.8M652.1,477.0l0.5,2.0M912.2,492.9l0.1,1.6M442.3,480.2l0.5,1.9M9.4,475.2l-0.1,0.8M697.0,484.3l0.0,1.7M525.6,462.0l-0.3,1.2M472.8,463.1l-0.4,1.3M428.7,473.2l0.0,1.7M84.9,474.2l0.1,2.3M100.4,490.4l0.3,0.8M482.5,468.9l-0.2,1.4M661.4,458.2l0.1,1.8M397.0,474.8l-0.0,1.1M354.4,497.1l0.3,2.0M153.1,487.5l-0.3,1.6M760.1,463.6l0.2,1.8M198.4,467.4l-0.1,0.7M838.0,489.5l0.4,1.3M875.3,491.8l0.2,0.9M658.1,466.6l-0.2,1.9M66.9,492.8l-0.0,0.7M856.3,475.4l0.4,0.8M529.3,466.8l0.2,1.6M329.7,472.7l0.2,0.6M801.5,467.1l-0.1,2.4M510.5,499.5l-0.3,1.2M260.6,500.6l-0.2,1.0M741.2,492.3l0.4,1.8M431.5,485.8l0.3,2.2M710.2,496.5l-0.3,1.3M632.6,474.8l0.1,0.9M653.5,480.3l-0.4,1.4M787.7,470.0l-0.0,0.9M548.2,472.3l0.1,1.6M371.4,476.7l0.3,0.9M652.3,483.3l0.1,0.8M177.2,459.8l0.3,0.9M279.3,464.7l-0.4,2.2M769.8,491.4l-0.1,2.1M316.5,469.8l-0.0,1.4M518.0,493.7l-0.0,0.8M667.3,486.6l0.3,2.0M227.7,496.9l-0.1,1.1M110.5,489.8l0.0,2.1M447.2,477.1l0.5,0.6M700.5,463.9l0.3,1.6M290.0,496.7l0.1,1.2M798.8,479.4l0.3,0.8M617.3,466.5l0.4,2.0M927.8,483.9l-0.3,1.6M439.5,497.3l-0.5,1.0M976.4,463.8l-0.2,0.7M130.7,466.1l-0.3,1.0M557.6,491.9l-0.5,2.0M587.6,475.9l-0.5,0.7M454.9,485.3l-0.4,2.2M14.6,490.0l-0.2,1.5M84.1,465.5l0.1,1.8M873.7,488.6l-0.2,1.1M898.4,482.8l0.4,1.1M657.4,485.1l0.2,1.3M962.4,479.1l-0.3,1.2M717.3,471.9l0.0,1.4M607.3,478.6l0.1,2.3M164.3,470.5l-0.0,1.8M1.3,487.6l0.3,0.9M370.8,492.5l0.2,2.1M139.3,470.4l0.0,0.8M497.6,492.8l0.1,0.7M717.1,471.2l0.0,1.3M86.7,460.6l-0.3,2.1M445.5,484.0l0.1,1.7M642.4,498.2l-0.3,1.4M112.0,490.7l-0.4,2.0M863.3,458.6l-0.2,1.0M999.8,477.4l-0.0,2.1M202.6,478.9l0.4,1.7M351.9,466.0l0.1,0.7M514.7,478.4l0.1,1.3M821.1,469.8l0.5,1.1M229.5,483.6l0.1,0.9M425.7,465.6l0.3,1.5M643.1,484.2l0.3,2.2M954.1,459.1l0.0,0.6M493.1,497.5l-0.3,1.7M727.2,472.6l-0.2,0.8M598.6,493.9l-0.4,2.3M232.3,461.9l0.2,0.6M817.5,485.1l0.0,1.0M307.3,472.4l-0.3,2.0M269.0,498.9l-0.4,2.1M124.2,496.4l-0.2,1.6M50.1,490.1l-0.5,1.0M744.7,495.9l0.3,0.7M896.2,478.7l-0.3,0.9M655.9,484.8l-0.3,1.1M803.6,489.2l-0.2,2.0M517.1,467.1l-0.4,0.7M587.9,485.1l-0.1,1.5M977.0,478.9l0.0,2.2M565.7,473.3l-0.4,1.0M803.1,488.5l0.1,1.2M286.3,464.8l0.2,2.1M789.7,465.2l0.1,1.4M971.0,487.6l0.2,1.9M486.6,481.2l0.1,1.7M663.0,492.9l0.3,0.7M149.7,474.5l-0.3,1.8M153.8,476.2l0.2,1.7M625.2,490.5l-0.3,0.8M849.8,464.7l0.1,0.7M168.3,488.5l0.0,1.5M120.5,466.4l0.4,1.8M427.3,471.4l0.3,1.9M785.9,489.1l0.4,1.1M467.3,487.9l-0.3,1.6M570.9,499.8l-0.0,1.1M909.2,482.7l0.4,1.5M875.7,491.8l-0.2,0.6M114.3,484.4l0.2,2.2M312.6,480.3l-0.3,1.9M727.0,478.6l-0.4,1.6M870.1,491.7l0.2,1.0M515.8,488.9l0.4,2.0M740.5,467.0l-0.1,1.5M824.8,485.3l0.3,1.5M58.4,465.2l0.4,1.6M883.8,488.8l-0.2,2.0M987.2,469.4l0.1,1.2M659.8,495.1l0.1,0.7M641.4,491.6l-0.2,2.3M241.0,476.0l-0.2,1.2M705.6,473.5l0.4,1.2M74.5,493.0l-0.1,0.8M590.7,468.4l0.4,1.7M492.6,486.5l-0.0,1.0M592.3,471.3l0.0,1.4M98.2,474.2l-0.2,1.4M645.8,497.1l-0.4,2.2M410.1,472.8l0.3,2.2M513.7,464.0l0.5,1.0M750.7,466.4l0.5,1.2M856.0,492.5l-0.0,2.3M22.3,483.2l-0.1,2.4M812.7,495.4l0.5,1.3M559.4,467.8l0.3,1.7M164.8,490.0l-0.1,0.9M46.3,480.6l0.0,2.1M116.2,480.7l0.1,0.8M918.9,468.0l-0.4,1.4M745.2,472.4l-0.2,2.4M958.8,498.2l0.2,1.5M874.1,469.0l0.0,1.0M884.4,464.5l0.4,1.9M251.2,480.2l-0.2,2.4M524.2,500.7l-0.3,2.2M927.8,499.0l0.1,1.5M383.9,491.4l0.4,1.3M898.0,496.9l0.1,1.8M843.0,471.6l0.4,1.5M679.9,463.3l-0.1,1.5M181.3,465.6l-0.3,2.1M548.0,486.9l0.4,0.9M956.8,465.7l-0.4,1.2M437.2,485.4l0.0,1.0M541.0,497.6l-0.1,2.3M42.1,487.6l-0.1,2.2M600.9,494.8l-0.2,0.8M366.5,464.5l-0.2,1.4M285.1,464.6l0.3,1.8M252.4,465.0l0.4,2.0M923.9,460.2l-0.5,1.3M416.5,466.1l0.2,0.9M159.9,487.3l-0.3,0.9M725.1,482.3l0.2,1.0M903.5,471.6l-0.3,0.8M680.3,475.8l0.4,1.9M378.9,475.0l-0.4,1.2M793.4,497.9l0.0,1.0M830.3,464.0l0.1,0.7M108.7,485.4l0.4,1.7M245.5,479.6l-0.1,0.9M953.8,478.0l-0.3,1.7M634.1,460.7l0.1,1.3M772.8,500.7l-0.1,0.7M986.9,493.1l0.0,1.5M953.0,487.3l-0.3,0.8M896.7,492.3l0.3,0.7M747.7,494.8l-0.5,1.4M10.6,478.7l0.5,2.3M91.3,492.2l0.4,2.0M234.2,479.6l-0.1,0.8M182.3,469.6l-0.2,0.6M21.7,461.6l0.0,1.9M76.2,468.0l0.3,1.8M452.5,496.2l-0.2,1.3M764.2,471.8l0.5,1.0M958.2,498.7l0.2,1.8M557.7,493.9l0.1,1.7M752.6,481.8l0.5,1.3M666.2,465.2l-0.3,2.4M706.4,493.4l-0.3,0.8M104.6,490.6l0.1,1.7M676.9,470.6l-0.3,2.3M351.6,461.4l0.2,1.5M988.8,480.8l-0.2,1.2M347.6,460.3l-0.2,0.6M712.5,469.3l-0.3,2.2M760.1,492.0l-0.4,0.9M331.4,464.8l-0.1,1.8M458.7,461.6l-0.5,1.0M284.3,470.4l-0.2,2.3M114.1,473.2l-0.4,0.7M196.8,461.7l-0.4,0.7M216.9,463.4l-0.5,1.3M126.5,476.1l-0.4,1.2M508.6,476.1l0.1,1.4M884.7,499.1l-0.2,1.7M508.6,495.5l-0.4,2.3M791.2,476.8l-0.2,1.7M941.3,460.2l-0.1,1.6M46.3,472.5l0.2,0.9M383.0,461.9l-0.4,1.0M153.8,467.1l-0.3,2.2M164.3,476.7l-0.3,2.1M804.2,464.0l0.0,1.9M989.4,486.5l0.5,0.9M494.0,479.0l-0.1,1.6M521.3,460.2l0.1,0.8M564.5,465.0l0.1,1.3M516.2,463.8l0.4,1.3M24.3,468.3l-0.3,1.1M688.7,464.5l0.3,2.4M75.6,497.6l-0.2,2.1M398.2,474.2l0.1,1.7M70.8,468.2l-0.1,2.1M859.8,477.6l0.4,0.8M971.5,459.2l0.3,0.7M545.9,497.2l-0.4,1.1M1.3,483.6l0.1,2.1M138.2,489.8l-0.4,0.7M4.5,468.9l0.1,1.0M895.9,470.4l0.1,1.3M432.5,487.1l0.3,1.0M329.3,476.9l0.3,1.7M970.8,476.7l-0.2,1.4M505.0,472.9l-0.4,1.6M757.8,480.1l0.3,2.1M216.8,463.4l0.5,0.9M889.5,471.0l0.3,1.4M974.8,479.3l0.3,2.1M918.2,498.8l-0.0,1.6M578.1,500.3l-0.4,1.5M890.5,492.3l-0.3,2.1M55.0,495.0l-0.4,1.3M104.1,499.9l0.4,1.1M172.6,460.9l0.1,1.0M119.0,485.3l-0.1,1.5M304.8,468.6l0.3,1.3M242.9,472.9l0.5,0.6M506.4,472.9l0.3,0.7M993.9,485.1l-0.1,1.7M214.8,494.3l0.4,1.3M390.6,482.5l0.2,1.0M874.8,482.2l-0.2,0.6M546.1,472.1l0.1,0.9M687.0,494.2l-0.2,1.4M833.9,492.2l0.1,1.7M888.8,495.3l-0.1,1.3M841.2,479.4l-0.4,1.6M91.6,474.0l0.1,1.1M187.2,476.2l-0.2,1.0M528.0,461.0l-0.1,1.4M221.0,482.3l-0.4,1.6M724.1,497.2l-0.3,1.5M777.8,489.5l-0.4,1.8M315.5,460.4l0.4,1.7M433.4,473.6l-0.4,1.1M959.4,479.3l0.5,2.4M717.9,496.1l-0.3,0.8M689.8,495.8l-0.1,1.7M509.0,480.1l0.0,0.6M279.5,469.2l0.3,2.0M466.5,498.6l-0.0,2.3M69.9,483.4l-0.4,1.1M913.1,485.1l0.1,1.7M970.2,481.8l-0.3,0.8M194.2,478.2l0.3,2.4M798.2,490.0l0.0,1.7M467.0,463.7l0.3,2.2M94.8,480.6l0.3,1.7M77.3,481.7l-0.2,1.8M421.5,481.3l0.4,2.0M140.6,494.7l-0.3,1.8M435.3,475.9l0.2,1.5M112.4,499.8l0.0,2.0M346.8,498.0l-0.2,2.0M1.7,478.8l-0.1,2.1M142.2,489.4l-0.1,1.9M688.8,469.2l0.4,1.1M240.6,474.5l0.1,2.4M775.0,476.7l0.3,2.0M200.4,479.0l0.1,0.6M148.0,464.0l0.2,1.5M674.6,462.8l-0.2,1.4M664.6,489.6l0.2,1.7M882.2,489.0l0.0,1.0M460.9,464.6l0.1,1.4M264.6,487.0l0.1,2.3M314.7,482.2l-0.2,2.0M732.9,460.9l-0.1,2.1M906.5,476.9l0.0,1.6M144.4,465.9l-0.3,1.0M529.6,496.6l-0.4,1.2M699.3,480.4l0.4,0.6M582.6,464.9l-0.2,1.7M621.5,458.3l0.2,1.9M96.7,467.0l-0.1,1.4M728.3,468.2l0.2,1.6M747.4,487.1l-0.3,1.2M145.7,472.9l-0.2,1.3M761.1,480.1l0.4,0.7M716.3,476.1l0.3,1.8M128.3,478.2l0.3,1.4M53.9,486.8l0.3,2.2M501.7,470.7l0.0,1.2M963.2,475.5l0.4,2.1M63.2,459.8l0.5,2.2M939.2,490.4l0.2,1.9M189.6,493.6l0.3,1.3M219.8,474.1l0.0,1.3M622.6,496.4l0.4,1.9M322.3,459.6l-0.0,0.6M658.7,494.3l-0.1,1.3M898.9,465.9l-0.0,1.5M304.8,475.9l-0.3,1.7M979.0,476.1l-0.4,1.3M973.0,478.6l0.5,0.6M798.4,471.9l0.1,0.9M245.4,497.2l0.3,2.1M201.4,481.1l-0.4,0.7M283.3,465.6l0.5,1.2M264.1,495.6l0.4,1.9M835.2,465.9l0.5,2.2M895.3,459.7l-0.3,2.1M419.5,467.5l-0.5,1.5M987.9,488.7l-0.2,2.3M60.0,498.8l0.4,1.5M597.2,468.5l0.2,0.9M721.5,492.4l0.1,0.7M630.4,481.2l0.4,1.3M601.4,486.9l-0.3,0.8M371.3,489.3l-0.3,1.5M792.0,480.8l-0.0,2.0M8.3,478.8l0.3,2.0M638.9,488.4l0.3,0.7M115.0,477.7l-0.2,0.9M716.1,470.8l-0.2,1.1M273.8,480.7l0.1,1.7M854.0,478.8l-0.1,2.1M156.2,479.8l-0.2,1.3M757.1,481.6l0.4,1.6M567.9,462.4l-0.0,0.7M101.6,489.8l-0.4,0.9M125.6,484.8l-0.3,2.3M731.9,478.6l0.3,1.7M754.3,493.2l0.5,1.4M876.0,491.3l-0.3,0.9M84.5,486.8l0.1,1.4M442.0,475.5l-0.5,2.2M169.1,461.7l0.1,1.5M891.0,496.4l0.4,1.6M703.7,477.4l0.1,1.7M620.1,490.2l0.1,1.3M136.6,473.4l-0.1,1.6M509.9,494.3l-0.4,1.1M763.5,497.9l0.4,1.5M44.2,478.8l-0.3,2.4M807.1,500.2l-0.2,1.4M505.9,488.4l0.3,1.7M444.8,492.3l0.0,2.3M280.2,485.0l-0.4,1.5M620.4,470.9l-0.3,1.9M188.7,495.8l0.2,2.0M849.7,478.1l0.2,1.9M780.9,483.5l-0.5,1.7M869.5,484.5l-0.4,1.2M844.0,495.1l-0.0,1.8M349.2,475.3l0.4,1.5M482.3,462.3l-0.0,2.0M834.8,497.2l0.4,0.7M406.3,493.1l-0.0,2.3M950.1,484.3l-0.4,0.6M403.1,487.2l-0.4,0.9M235.1,473.6l-0.0,1.3M452.0,490.6l0.1,0.9M132.8,468.3l0.3,1.3M495.4,479.4l-0.1,2.2M934.7,495.6l0.5,0.7M857.9,499.4l0.3,1.0M438.1,498.5l-0.1,2.0M321.7,474.9l0.4,0.8M449.9,485.2l0.2,2.4M652.4,487.8l0.2,1.1M911.7,487.9l0.3,2.0M223.3,468.2l0.3,0.6M543.3,490.1l-0.3,1.5M427.4,459.7l0.2,1.6M499.6,492.5l-0.0,1.1M320.0,500.1l-0.3,1.6M521.0,494.8l-0.1,1.7M974.8,483.9l-0.1,1.6M579.3,461.9l-0.1,2.0M62.6,488.2l0.4,2.3M899.6,458.6l0.0,0.8M439.2,464.2l-0.1,1.3M909.7,499.5l-0.1,0.7M448.6,491.7l0.2,2.0M297.6,491.3l-0.2,1.1M360.0,468.8l-0.1,2.1M214.8,496.8l0.0,2.1M148.9,463.0l-0.0,0.7M34.5,463.0l0.3,2.2M369.6,498.7l-0.3,2.3M669.5,480.0l-0.2,1.6M55.7,471.2l-0.3,1.2M862.2,482.9l0.2,1.6M769.7,488.2l-0.2,1.1M848.3,475.8l-0.3,1.7M397.4,499.8l0.3,2.1M172.4,487.4l0.2,1.9M937.3,486.2l0.0,1.3M816.5,472.3l-0.2,2.2M983.9,461.7l0.4,1.4M736.5,465.3l0.4,1.7M413.1,459.4l0.4,0.7M669.0,472.5l0.4,1.5M228.5,473.9l0.3,0.6M845.1,494.8l0.3,2.0M247.2,476.8l-0.3,1.3M599.8,496.8l0.2,2.0M775.5,459.0l-0.2,1.1M810.3,492.4l0.0,2.3M300.4,498.3l-0.2,1.1M979.0,476.0l0.1,0.9M815.5,472.8l0.3,2.2M851.1,467.4l-0.1,0.8M468.3,475.6l-0.0,1.7M247.0,474.0l0.0,2.0M321.8,478.9l-0.2,2.1M315.4,464.7l-0.4,2.1M46.2,460.8l-0.2,1.7M582.0,487.4l-0.4,1.7M943.3,499.8l-0.2,1.4M953.2,485.2l-0.3,2.2M475.5,466.1l-0.1,1.3M225.4,460.6l0.1,1.4M118.5,495.9l-0.4,1.0M631.1,458.5l0.2,0.9M496.0,491.6l-0.4,1.6M521.8,480.7l0.5,0.9M596.7,461.3l-0.2,2.3M549.4,473.2l-0.4,1.2M6.6,484.8l0.2,1.0M459.0,492.4l-0.1,0.9M531.4,480.5l0.2,1.9M539.9,488.2l0.0,1.3M786.1,491.0l0.2,1.1M799.3,476.8l0.1,0.6M79.7,496.5l0.5,2.2M687.9,468.9l0.0,2.2M3.4,476.4l-0.2,1.0M885.4,490.9l0.5,0.8M544.3,470.8l-0.2,1.0M302.7,471.5l0.2,1.5M301.4,472.5l-0.2,1.7M841.2,488.6l-0.4,1.2M785.9,471.0l-0.1,0.9M69.5,495.4l0.5,2.3M693.6,462.9l0.5,1.1M979.0,493.5l-0.1,2.2M319.9,488.3l0.1,0.7M655.0,476.8l0.4,0.7M988.0,461.5l-0.2,1.4M477.3,482.6l-0.3,2.3M970.8,482.7l0.4,1.1M521.8,498.6l0.1,1.3M58.8,484.4l-0.3,0.7M321.0,497.9l0.2,1.3M509.3,489.4l0.1,0.7M126.1,487.0l-0.3,1.4M891.1,498.8l-0.5,1.0M584.3,499.2l-0.2,2.2M471.6,474.0l-0.1,0.8M848.6,461.1l0.2,1.2M988.0,476.5l0.2,1.9M591.6,499.9l0.2,0.6M128.5,490.5l0.1,2.2M931.5,480.0l-0.2,1.7M886.4,458.7l-0.1,2.3M36.8,459.2l0.1,0.7M941.6,483.6l-0.0,1.3M156.6,458.8l-0.0,0.8M857.3,462.9l0.5,1.4M514.7,464.6l0.2,2.2M606.7,476.9l-0.3,1.4M117.4,500.8l0.0,1.6M810.6,463.6l-0.2,1.7M321.0,480.3l0.5,1.1M195.1,477.5l-0.4,0.6M455.5,474.9l0.1,2.3M143.8,464.8l-0.3,0.7M637.0,481.3l-0.3,2.2M990.7,478.5l-0.1,1.2M782.2,474.4l0.2,2.0M415.2,497.7l-0.3,0.9M917.6,462.8l-0.4,2.0M590.7,492.0l0.3,2.4M243.4,460.7l-0.1,1.9M477.6,462.4l0.1,0.8M885.0,493.9l-0.2,2.3M343.2,493.6l-0.2,1.2M193.6,489.7l0.3,1.3M526.8,476.1l-0.3,1.2M244.1,458.1l0.3,1.6M927.6,494.0l-0.3,1.4M296.3,461.2l0.3,1.3M364.9,492.5l0.2,1.8M410.9,474.4l-0.4,1.1M915.4,470.8l0.0,1.0M92.7,492.9l0.5,1.0M516.9,465.8l-0.4,0.8M894.8,473.5l0.3,2.4M335.8,490.9l0.1,1.4M249.8,471.2l0.0,1.6M353.7,482.4l0.0,1.0M426.3,494.9l-0.1,1.6M253.4,459.2l0.0,1.4M202.5,490.6l-0.3,0.9M442.1,479.5l-0.2,1.7M238.4,494.8l0.0,0.7M225.4,472.6l-0.3,2.3M51.5,483.7l0.1,0.7M491.5,495.4l0.4,1.3M864.7,464.6l-0.4,0.9M72.3,466.5l0.1,1.4M343.1,499.0l0.1,2.1M845.8,462.0l-0.2,1.9M146.8,486.0l0.3,1.4M789.0,481.5l0.1,1.5M38.7,498.9l-0.1,1.3M862.1,476.6l0.2,1.9M424.1,470.9l-0.3,1.5M603.3,469.1l0.1,0.7M805.0,493.8l0.3,2.0M412.9,468.5l-0.1,2.0M17.5,473.4l-0.4,1.0M409.0,498.0l-0.4,1.5M80.8,463.8l-0.1,1.4M685.5,496.8l0.3,0.7M25.9,463.4l0.2,1.5M976.1,488.2l0.3,1.9M807.1,459.9l0.4,1.1M6.2,467.6l0.1,1.1M953.0,475.5l0.3,2.1M810.2,472.5l-0.2,0.7M938.8,487.1l0.0,1.8M293.2,481.4l0.4,1.8M115.1,499.4l-0.3,2.3M769.9,476.5l0.3,1.2M203.2,496.9l0.3,2.0M990.4,460.1l0.2,1.7M435.0,495.0l-0.0,0.8M433.5,463.4l-0.0,1.5M944.8,499.6l0.4,1.9M534.2,500.2l-0.0,1.3M522.9,480.1l-0.3,0.7M470.8,485.2l-0.1,2.0" stroke="#c8c8c8" stroke-width="1.4" stroke-linecap="round" fill="none"/><path d="M992.0,493.3l0.1,2.0M894.6,471.6l0.1,1.1M162.3,496.5l-0.4,1.3M733.4,482.7l0.1,2.2M30.5,476.3l0.2,1.2M769.8,475.4l-0.2,1.9M895.9,468.7l0.5,2.2M227.1,493.7l0.2,1.7M941.4,458.0l0.2,1.6M560.4,477.4l-0.2,1.6M344.1,463.7l0.4,1.2M277.6,468.1l0.5,1.7M258.1,459.6l0.3,2.4M157.9,463.4l-0.5,1.2M228.7,486.4l0.4,1.9M951.4,493.6l0.4,0.9M280.5,471.2l-0.3,1.0M326.4,495.8l0.2,1.0M750.2,460.5l-0.1,1.4M293.8,485.7l0.3,2.2M749.3,495.3l0.5,2.0M463.9,480.4l0.0,2.0M23.3,487.5l-0.1,2.3M22.1,477.7l0.2,1.6M89.0,483.0l-0.5,2.3M148.1,462.4l0.4,0.8M499.1,489.5l-0.0,1.6M94.3,473.9l-0.2,1.9M669.5,487.5l-0.2,1.3M869.1,458.8l0.5,1.8M717.8,487.9l0.4,0.9M867.2,497.1l-0.1,1.0M445.4,463.6l-0.1,1.1M929.5,460.3l0.4,1.2M929.5,475.9l0.0,1.5M990.4,470.3l0.5,1.9M739.0,495.7l0.4,2.4M88.3,473.3l-0.5,1.1M209.7,473.1l-0.0,1.8M115.2,497.2l0.3,1.8M143.1,476.3l0.1,1.2M523.6,490.5l0.0,1.6M998.2,481.1l0.5,0.9M35.6,494.3l0.2,1.0M139.1,460.7l-0.3,1.8M165.5,458.7l-0.5,1.5M810.0,470.5l0.3,1.9M828.5,474.1l0.3,1.5M776.2,492.2l-0.2,1.2M811.2,464.9l-0.5,0.9M884.1,464.9l-0.5,1.2M475.7,483.0l0.3,2.3M632.7,495.0l-0.2,1.8M930.7,488.7l0.1,1.4M35.2,480.1l0.5,1.6M497.4,467.0l0.2,1.3M525.1,497.1l0.2,2.1M573.0,492.9l-0.2,1.9M992.9,479.2l-0.4,1.7M120.3,458.6l0.4,1.0M700.6,497.2l0.5,1.0M73.9,462.0l0.2,1.5M295.1,472.2l-0.3,1.5M525.1,483.2l-0.1,1.8M913.9,486.0l0.4,0.8M242.5,497.8l-0.2,1.2M41.4,481.4l0.1,2.2M799.0,487.7l-0.3,1.9M755.6,484.0l0.1,1.2M523.1,466.1l0.0,1.3M383.1,459.5l-0.5,1.2M87.9,461.6l-0.1,1.0M645.7,460.3l-0.2,1.7M535.8,463.6l0.3,1.6M553.6,470.4l0.0,1.9M145.5,464.4l0.0,1.8M450.4,497.5l0.4,2.2M377.7,498.9l0.4,1.9M859.6,459.9l0.0,1.6M319.7,489.1l0.5,1.1M259.0,481.5l-0.4,1.2M142.1,490.6l0.4,1.9M28.3,487.5l-0.5,2.1M845.8,464.4l0.3,2.1M698.1,458.1l-0.1,1.9M654.6,499.3l0.5,2.1M516.7,486.5l-0.2,2.0M267.0,478.9l-0.4,2.2M527.4,489.4l-0.3,1.8M794.3,462.7l-0.2,1.8M15.4,484.6l-0.3,2.0M53.5,467.1l-0.4,1.8M66.2,486.0l0.1,1.1M29.3,482.6l0.0,2.3M999.5,489.5l-0.3,1.3M652.4,495.7l0.5,1.5M377.2,462.3l0.3,1.2M333.8,472.3l0.3,1.2M211.4,481.5l0.0,1.1M336.4,494.5l-0.2,1.5M908.3,461.0l-0.3,1.5M488.4,478.9l-0.1,2.2M247.9,483.7l-0.2,1.4M905.4,482.3l0.5,1.4M593.3,466.3l0.4,1.8M162.8,497.2l0.3,2.1M322.8,458.9l0.1,2.2M22.2,478.1l-0.4,1.6M584.1,489.4l0.4,1.0M188.5,497.2l0.1,2.1M956.8,489.7l0.2,1.4M379.0,475.0l0.3,1.1M542.7,480.9l-0.0,1.9M206.8,491.1l0.2,2.3M155.7,478.3l0.3,1.8M773.5,475.4l0.3,1.5M230.4,462.6l-0.5,1.7M780.5,496.6l0.3,0.8M452.5,476.1l0.3,1.0M824.1,494.7l-0.3,1.5M909.8,484.9l0.3,1.6M834.0,463.5l0.5,1.2M841.7,462.7l-0.0,1.3M170.9,493.9l0.3,1.3M519.3,487.4l-0.3,0.9M631.1,475.6l-0.3,1.2M371.5,465.2l-0.5,1.0M542.3,487.4l0.3,1.3M34.0,489.8l-0.0,1.7M450.0,459.2l0.4,1.7M642.0,490.5l-0.4,0.8M215.6,491.7l-0.4,1.6M501.9,490.8l0.3,1.4M469.5,477.3l-0.0,1.4M692.1,500.1l-0.4,2.4M719.1,490.9l0.2,1.9M233.6,499.9l0.4,1.7M702.8,486.6l0.0,0.9M101.6,476.7l-0.5,2.0M150.0,472.7l-0.5,1.9M822.5,460.2l0.3,1.9M108.6,475.4l-0.3,1.8M380.6,481.3l0.0,1.4M664.7,495.4l0.5,1.8M133.1,468.9l0.3,1.5M904.1,458.8l0.5,1.8M66.8,459.8l-0.5,2.4M569.0,459.7l-0.3,1.2M318.4,490.8l-0.1,2.3M44.6,479.2l0.5,2.3M743.7,484.4l-0.1,1.1M226.0,464.2l0.3,2.0M145.6,482.8l-0.4,1.4M996.8,461.3l-0.3,1.6M890.6,459.2l0.2,2.4M775.7,496.9l0.3,1.9M567.1,488.5l-0.4,1.4M664.8,466.8l-0.2,2.2M544.3,458.1l0.4,2.0M596.4,466.5l-0.2,1.8M428.0,477.5l-0.1,1.1M492.6,495.5l-0.2,1.0M969.9,480.1l0.5,1.1M972.8,487.1l-0.4,1.0M827.8,463.0l0.2,2.3M890.4,468.9l0.3,2.3M284.4,489.1l0.1,0.9M422.2,476.3l0.1,1.3M894.5,477.5l-0.5,1.3M420.6,474.3l0.1,2.3M750.1,496.6l0.4,1.0M924.6,485.7l-0.2,0.9M986.2,493.9l0.2,1.7M814.9,493.5l0.4,2.1M320.0,488.0l-0.0,2.1M490.9,468.6l0.1,2.4M146.3,469.3l-0.2,1.3M939.7,485.1l-0.3,0.8M844.3,499.7l-0.4,2.1M677.4,472.6l-0.2,1.2M747.2,462.9l0.4,1.2M29.6,484.2l-0.1,1.3M911.2,466.1l-0.5,2.2M813.6,496.5l-0.4,1.8M970.3,464.6l0.0,1.2M129.4,497.1l0.4,2.4M833.4,487.0l-0.4,1.4M819.1,495.0l0.3,1.9M514.2,468.7l0.1,1.1M473.7,467.9l0.1,2.2M198.6,483.1l0.3,1.3M104.6,484.5l0.4,0.8M628.4,487.9l-0.2,2.0M679.2,470.3l-0.4,1.6M531.2,461.0l0.0,1.9M715.4,491.5l0.2,1.1M191.4,490.3l0.5,2.1M792.4,468.0l-0.1,1.6M568.6,461.7l0.5,1.0M781.9,495.7l0.1,2.1M176.0,495.9l-0.4,1.2M515.8,460.1l-0.5,1.0M675.4,499.9l0.1,2.1M968.1,500.5l-0.4,1.0M422.9,481.6l0.0,2.3M600.7,488.5l-0.1,0.8M573.1,465.7l-0.0,1.0M533.2,475.8l-0.0,2.2M700.6,458.5l0.2,2.3M859.6,475.8l0.2,2.1M776.9,493.6l0.4,2.4M723.1,479.8l-0.4,1.8M16.9,465.4l0.1,2.0M275.2,498.9l-0.2,0.8M494.7,494.9l-0.0,1.0M271.5,495.4l-0.4,2.0M728.3,458.8l0.2,1.9M119.5,498.0l0.2,1.9M77.0,458.4l-0.2,1.4M69.3,469.7l0.1,1.1M712.3,478.8l-0.0,1.5M567.9,489.0l-0.1,0.9M352.1,463.8l0.2,1.5M255.8,460.0l-0.2,1.8M104.6,495.0l-0.2,1.8M896.0,473.1l0.4,1.7M886.9,497.3l0.3,1.0M181.1,481.4l0.0,0.9M3.6,481.8l-0.3,2.4M746.3,465.1l0.2,1.5M738.2,464.9l-0.3,1.8M738.2,465.2l-0.2,1.4M638.4,496.8l0.4,0.9M146.6,491.8l-0.4,1.3M223.3,486.0l-0.2,2.3M778.8,465.9l0.2,0.9M210.3,464.2l0.1,2.0M846.0,477.9l-0.0,1.1M627.4,465.4l0.4,1.2M21.1,481.8l0.3,1.6M920.9,500.9l0.2,2.4M463.1,470.2l-0.2,0.9M616.0,480.0l-0.1,1.5M906.6,472.9l0.1,0.8M376.9,480.1l0.4,2.2M399.0,467.9l-0.2,1.8M995.3,490.7l0.4,1.3M650.5,458.2l-0.2,2.3M26.1,459.7l-0.1,1.4M994.2,498.9l-0.2,1.8M777.6,478.6l-0.1,1.3M738.6,483.1l-0.4,1.0M401.2,485.0l-0.5,2.1M281.5,481.4l0.2,2.0M902.1,473.1l0.4,2.1M417.7,474.8l-0.4,2.0M701.8,489.9l0.4,1.7M116.8,471.3l-0.0,1.6M526.8,459.5l0.1,1.9M72.6,499.7l0.4,2.2M843.0,462.1l-0.3,1.5M40.8,467.5l0.1,1.0M823.1,458.5l-0.1,1.4M203.6,482.8l0.0,1.9M337.4,464.9l-0.4,2.0M136.3,493.7l-0.1,2.2M751.9,460.0l0.2,1.5M460.6,474.6l0.3,1.2M575.8,492.3l0.1,2.3M580.6,499.4l-0.1,1.7M997.1,461.9l-0.2,1.2M730.4,481.1l0.5,1.1M992.1,500.3l-0.1,1.8M592.9,462.5l0.3,2.0M563.5,460.5l-0.2,1.4M794.7,462.4l0.2,1.3M874.2,469.2l0.4,1.1M743.6,490.6l0.0,1.2M89.5,493.2l0.5,2.1M304.2,460.1l0.0,2.4M894.8,486.3l0.1,2.3M542.7,481.1l0.2,1.2M990.1,466.7l-0.3,1.6M79.0,466.4l0.0,1.0M663.2,493.1l-0.1,1.3M224.5,467.3l0.3,1.7" stroke="#b8b8b8" stroke-width="1.5" stroke-linecap="round" fill="none"/></g>
<use href="#slab2p" fill="none" stroke="#565656" stroke-width="0.9"/>
<text font-family="'Liberation Sans', sans-serif" font-weight="700" fill="#000" stroke="#000" stroke-width="2.6" stroke-linejoin="miter"><tspan x="99.5" y="50.8" font-size="66" textLength="338" lengthAdjust="spacingAndGlyphs">Installation</tspan> <tspan x="143.2" y="120.6" font-size="67.5" textLength="252.4" lengthAdjust="spacingAndGlyphs">Methods</tspan></text>
<path d="M399.8,308 H488.7 V298.4 L515.6,316 L488.7,333.7 V324 H399.8 Z" fill="#000"/><!-- ===== hanging fixture ===== -->
<defs>
<linearGradient id="hgDiff" x1="0" y1="0" x2="1" y2="0.35">
 <stop offset="0" stop-color="#e9e9e8"/><stop offset="0.35" stop-color="#e0e0df"/><stop offset="0.7" stop-color="#dcdcdb"/><stop offset="1" stop-color="#e1e1e0"/>
</linearGradient>
<linearGradient id="hgWing" x1="0" y1="0" x2="0.25" y2="1">
 <stop offset="0" stop-color="#e9e9e9"/><stop offset="0.35" stop-color="#f6f6f6"/><stop offset="0.8" stop-color="#f1f1f1"/><stop offset="1" stop-color="#e6e6e6"/>
</linearGradient>
<linearGradient id="hgHouse" x1="0" y1="0" x2="0.25" y2="1">
 <stop offset="0" stop-color="#f4f4f4"/><stop offset="0.5" stop-color="#ededed"/><stop offset="1" stop-color="#e3e3e3"/>
</linearGradient>
<linearGradient id="hgCap" x1="0" y1="0" x2="-0.3" y2="1">
 <stop offset="0" stop-color="#d5d5d5"/><stop offset="0.5" stop-color="#dcdcdc"/><stop offset="0.85" stop-color="#e8e8e8"/><stop offset="1" stop-color="#e4e4e4"/>
</linearGradient>
<linearGradient id="hgPlate" x1="0" y1="0" x2="1" y2="0">
 <stop offset="0" stop-color="#e6e6e6"/><stop offset="1" stop-color="#dadada"/>
</linearGradient>
</defs>
<g>
 <!-- housing channel -->
 <path d="M570.3,318.5 L886,234 L887.3,264 L850,262 L570.6,329.5 Z" fill="url(#hgHouse)"/>
 <path d="M570.3,318.5 L886,234" stroke="#e2e2e2" stroke-width="1" fill="none"/>
 <path d="M570.5,318.5 V329" stroke="#dedede" stroke-width="1.2"/>
 <!-- inner shadow near end plate -->
 <path d="M868,240.5 L887,235 L887.3,268 L868,262 Z" fill="#ececec"/>
 <!-- end plate -->
 <path d="M887.3,234.4 L931,249.8 L931.3,284 L887.3,269.5 Z" fill="url(#hgPlate)" stroke="#d4d4d4" stroke-width="0.6"/>
 <rect x="905.6" y="251" width="8.6" height="17" rx="3.5" fill="#e4e4e4" stroke="#a8a8a8" stroke-width="1" transform="skewY(18) translate(0,-294.5)"/>
 <!-- wing (lip) -->
 <path d="M519.6,350 Q520.5,343 529,340 L850.8,256.5 L847,278 L531,353 L520,356.8 Z" fill="url(#hgWing)"/>
 <path d="M529,340 L850.8,256.5" stroke="#e9e9e9" stroke-width="1" fill="none"/>
 <path d="M531,353.5 Q527,346 531.5,340.5" stroke="#d4d4d4" stroke-width="1" fill="none"/>
 <!-- bottom frame strip -->
 <path d="M519.6,355 L531,353 L662.5,380 L975,316 L975.6,318.5 L662.5,384.3 L520,358.5 Z" fill="#f3f3f3"/>
 <path d="M520,358.3 L662.5,384" stroke="#e3e3e3" stroke-width="1" fill="none"/>
 <!-- diffuser -->
 <path d="M531,352.6 L847,278 L974.5,317.2 L662.5,381.6 L532,356.4 Z" fill="url(#hgDiff)"/>
 <path d="M533,355.6 L662.5,380.6" stroke="#d6d6d6" stroke-width="0.8" fill="none"/><path d="M532,356.6 L662.5,381.8 L974.5,317.4" stroke="#f6f6f6" stroke-width="1.2" fill="none"/>
 <!-- end cap wedge -->
 <path d="M850.8,256.5 L972,296 L975.6,316 L974.6,317.8 L846.2,278.4 Z" fill="url(#hgCap)"/>
 <path d="M850.8,256.5 L972,296 L975.6,316" stroke="#d6d6d6" stroke-width="0.8" fill="none"/>
 <!-- vents -->
 <g fill="#6e6e6e">
  <g transform="translate(613.5,316.6) rotate(-14.5)"><rect x="0" y="0" width="1.4" height="2"/><rect x="4" y="0" width="1.4" height="2"/><rect x="8" y="0" width="1.4" height="2"/><rect x="12" y="0" width="1.4" height="2"/><rect x="16" y="0" width="1.4" height="2"/><rect x="20" y="0" width="1.4" height="2"/><rect x="24" y="0" width="1.4" height="2"/><rect x="28" y="0" width="1.4" height="2"/></g>
  <g transform="translate(795,269.2) rotate(-14.5)"><rect x="0" y="0" width="1.4" height="2"/><rect x="4.4" y="0" width="1.4" height="2"/><rect x="8.8" y="0" width="1.4" height="2"/><rect x="13.2" y="0" width="1.4" height="2"/><rect x="17.6" y="0" width="1.4" height="2"/><rect x="22" y="0" width="1.4" height="2"/><rect x="26.4" y="0" width="1.4" height="2"/><rect x="30.8" y="0" width="1.4" height="2"/><rect x="35.2" y="0" width="1.4" height="2"/></g>
 </g>
 <!-- screws -->
 <g fill="#6a6a6a"><circle cx="697.6" cy="292" r="1.3"/><circle cx="712" cy="283.4" r="1.3"/><circle cx="729" cy="283" r="1.3"/></g>
 <g fill="none" stroke="#e0e0e0" stroke-width="1"><circle cx="697.6" cy="292" r="2.6"/><circle cx="712" cy="283.4" r="2.6"/><circle cx="729" cy="283" r="2.6"/></g>
 <!-- brackets -->
 <g fill="none" stroke-width="1.4" stroke-linejoin="round" stroke-linecap="round">
  <path d="M568.8,327.5 V292.5 L596,276.5" stroke="#969696"/>
  <path d="M596,276.5 L623.8,304.5" stroke="#6c6c6c"/>
  <path d="M880.1,264.2 L879.6,202.7 L903.2,186.3" stroke="#969696"/>
  <path d="M903.2,186.3 L926.7,223.8 L931.5,279.6" stroke="#707070"/>
 </g>
</g>

<!-- ===== surface / pendant fixtures ===== -->
<defs>
<linearGradient id="fxBand" gradientUnits="userSpaceOnUse" x1="190" y1="724" x2="184" y2="746"><stop offset="0" stop-color="#f3f3f3"/><stop offset="0.6" stop-color="#ececec"/><stop offset="1" stop-color="#e1e1e1"/></linearGradient>
<linearGradient id="fxWing" gradientUnits="userSpaceOnUse" x1="220" y1="690" x2="205" y2="735"><stop offset="0" stop-color="#e4e4e4"/><stop offset="0.22" stop-color="#efefef"/><stop offset="1" stop-color="#f3f3f3"/></linearGradient>
<linearGradient id="fxFront" gradientUnits="userSpaceOnUse" x1="236" y1="671" x2="229" y2="694"><stop offset="0" stop-color="#ececec"/><stop offset="0.5" stop-color="#e6e6e6"/><stop offset="1" stop-color="#dedede"/></linearGradient>
<linearGradient id="fxTop" gradientUnits="userSpaceOnUse" x1="90" y1="620" x2="420" y2="700"><stop offset="0" stop-color="#f1f1f1"/><stop offset="0.5" stop-color="#eeeeee"/><stop offset="1" stop-color="#ebebeb"/></linearGradient>
<linearGradient id="fxBevel" gradientUnits="userSpaceOnUse" x1="395" y1="735" x2="405" y2="748"><stop offset="0" stop-color="#e3e3e3"/><stop offset="1" stop-color="#d7d7d7"/></linearGradient>
<linearGradient id="fxBoxL" gradientUnits="userSpaceOnUse" x1="190" y1="590" x2="250" y2="655"><stop offset="0" stop-color="#e7e7e7"/><stop offset="1" stop-color="#e0e0e0"/></linearGradient>
<linearGradient id="fxBoxR" gradientUnits="userSpaceOnUse" x1="254" y1="600" x2="304" y2="625"><stop offset="0" stop-color="#e0e0e0"/><stop offset="1" stop-color="#d6d6d6"/></linearGradient>
</defs>
<g id="fix">
<polygon points="36.5,673.5 93.0,652.0 98.0,654.0 300.0,700.0 423.0,679.5 458.0,684.0 460.0,685.0 463.5,695.0 339.0,797.0 37.0,693.0" fill="url(#fxWing)" />
<polygon points="421.0,682.0 423.0,679.5 458.0,684.0 456.0,686.5 372.0,745.0 381.0,738.0" fill="#efefef" />
<polygon points="37.0,675.5 341.0,773.0 339.0,797.0 37.0,693.0" fill="url(#fxBand)" />
<polygon points="456.0,686.0 460.0,685.0 463.5,695.0 339.0,797.0 341.0,773.0" fill="url(#fxBevel)" />
<polyline points="456.0,686.0 341.0,773.0" fill="none" stroke="#f5f5f5" stroke-width="1" />
<polyline points="37.0,693.0 339.0,797.0 463.5,695.0" fill="none" stroke="#dcdcdc" stroke-width="0.9" />
<polyline points="36.5,673.5 93.0,652.0" fill="none" stroke="#e8e8e8" stroke-width="1" />
<polyline points="423.0,679.5 458.0,684.0 460.0,685.0 463.5,695.0" fill="none" stroke="#dedede" stroke-width="0.8" />
<polygon points="36.5,673.5 93.0,652.0 100.0,654.5 60.0,667.0 44.5,678.0 42.8,686.0 43.5,694.5 37.0,693.0" fill="#f8f8f8" />
<path d="M36.7,673.5 L37,693" stroke="#e6e6e6" stroke-width="1"/>
<path d="M100,654.8 L60,667.2 Q46,672.5 44,679 Q42.3,686 43.3,694" stroke="#cbcbcb" stroke-width="1" fill="none"/>
<polygon points="92.5,651.0 380.8,740.0 384.0,745.0 372.0,745.0 95.0,656.5" fill="#e9e9e9" />
<polygon points="380.8,740.0 424.2,704.0 430.0,706.5 386.0,745.5 372.0,745.0" fill="#e4e4e4" />
<polygon points="87.0,628.0 140.0,609.0 141.5,617.0 93.5,652.0" fill="#ececec" />
<path d="M87,628 L111,614 Q121,608.3 131,608.3 L140,609.6 L188,617.5 L305,642.2 L422,680.5 L377.8,711.5 Z" fill="url(#fxTop)"/>
<polygon points="87.0,628.0 377.8,711.5 380.8,740.0 92.5,651.0" fill="url(#fxFront)" />
<polygon points="377.8,711.5 422.0,680.5 424.2,704.0 380.8,740.0" fill="#e2e2e2" />
<polyline points="87.0,628.0 377.8,711.5 422.0,680.5" fill="none" stroke="#fafafa" stroke-width="1.2" />
<polyline points="377.8,711.5 380.8,740.0" fill="none" stroke="#d9d9d9" stroke-width="1" />
<polyline points="422.0,680.5 424.2,704.0" fill="none" stroke="#d6d6d6" stroke-width="0.8" />
<path d="M87,628 L111,614 Q121,608.3 131,608.3 L140,609.6 L188,617.5 L305,642.2 L422,680.5" stroke="#e4e4e4" stroke-width="0.9" fill="none"/>
<ellipse cx="403" cy="710" rx="4.6" ry="6.8" fill="#ededed" stroke="#c4c4c4" stroke-width="1" transform="rotate(12 403 710)"/>
<polygon points="272.0,666.0 288.0,659.5 316.0,667.0 298.0,676.0" fill="#a6abae" />
<polygon points="276.0,666.3 288.0,661.5 300.0,664.5 288.0,669.6" fill="#969ca0" />
<polygon points="262.0,663.0 272.0,660.5 276.0,663.0 268.0,666.5" fill="#8a8a80" />
<path d="M128.4,635.3L137.6,637.7M132.2,633.9L141.3,636.4M135.9,632.6L145.1,635.1M139.7,631.3L148.8,633.7M143.4,629.9L152.6,632.4M147.2,628.6L156.3,631.1M150.9,627.3L160.1,629.7M154.7,625.9L163.8,628.4M158.4,624.6L167.6,627.1M162.2,623.3L171.3,625.7M165.9,621.9L175.1,624.4M169.7,620.6L178.8,623.1M173.4,619.3L182.6,621.7" stroke="#555" stroke-width="1.5" fill="none" stroke-linecap="round"/>
<path d="M151.9,641.4L160.1,643.6M155.9,639.9L163.6,642.1M159.8,638.5L167.2,640.5M163.8,637.1L170.7,638.9M167.7,635.6L174.3,637.4M171.7,634.2L177.8,635.8M175.6,632.7L181.4,634.3M179.6,631.3L184.9,632.7M183.5,629.8L188.5,631.2" stroke="#626262" stroke-width="1.5" fill="none" stroke-linecap="round"/>
<path d="M128.9,646.9L131.1,658.1M132.4,647.9L134.7,659.2M136.0,649.0L138.2,660.3M139.5,650.1L141.8,661.4M143.0,651.1L145.3,662.4M146.6,652.2L148.8,663.5M150.1,653.3L152.4,664.6M153.7,654.4L155.9,665.6" stroke="#555" stroke-width="1.6" fill="none" stroke-linecap="round"/>
<path d="M293.4,684.4L304.6,687.2M297.1,682.4L308.1,685.1M300.8,680.3L311.7,683.0M304.6,678.3L315.3,681.0M308.3,676.3L318.8,678.9M312.0,674.2L322.4,676.8M315.7,672.2L325.9,674.8M319.4,670.2L329.5,672.7M323.1,668.1L333.1,670.6M326.8,666.1L336.6,668.5M330.5,664.1L340.2,666.5M334.3,662.0L343.7,664.4" stroke="#585858" stroke-width="1.7" fill="none" stroke-linecap="round"/>
<path d="M321.7,691.7L332.3,694.3M325.3,689.6L335.6,692.2M329.0,687.6L338.9,690.1M332.6,685.5L342.1,687.9M336.3,683.5L345.4,685.8M339.9,681.5L348.6,683.6M343.6,679.4L351.9,681.5M347.2,677.4L355.2,679.4M350.9,675.3L358.4,677.2M354.5,673.3L361.7,675.1M358.1,671.2L364.9,672.9M361.8,669.2L368.2,670.8" stroke="#666" stroke-width="1.6" fill="none" stroke-linecap="round"/>
<path d="M294.6,695.4L297.0,707.6M299.1,696.6L301.4,708.9M303.5,697.9L305.8,710.2M307.9,699.1L310.3,711.4M312.3,700.4L314.7,712.7M316.8,701.6L319.1,713.9M321.2,702.9L323.5,715.2M325.6,704.2L328.0,716.4" stroke="#585858" stroke-width="1.6" fill="none" stroke-linecap="round"/>
<polygon points="290.0,633.0 304.0,624.0 304.0,640.0 291.0,635.5" fill="#bdbdbd" />
<polygon points="188.0,585.0 254.0,600.0 254.0,655.0 248.0,661.0 240.0,657.0 192.0,643.0" fill="url(#fxBoxL)" />
<polygon points="254.0,600.0 301.0,581.0 304.0,623.0 258.0,649.0 254.0,655.0" fill="url(#fxBoxR)" />
<polygon points="188.0,585.0 239.0,566.0 301.0,581.0 254.0,600.0" fill="#ebebeb" />
<polyline points="188.0,585.0 254.0,600.0 301.0,581.0" fill="none" stroke="#fbfbfb" stroke-width="1.2" />
<polyline points="254.0,600.0 254.0,655.0" fill="none" stroke="#dadada" stroke-width="0.8" />
<polyline points="188.0,585.0 239.0,566.0 301.0,581.0" fill="none" stroke="#e0e0e0" stroke-width="0.8" />
<polyline points="188.0,585.0 192.0,643.0" fill="none" stroke="#e0e0e0" stroke-width="0.8" />
<polyline points="301.0,581.0 304.0,623.0 304.0,640.0" fill="none" stroke="#d2d2d2" stroke-width="0.8" />
<ellipse cx="245" cy="582.3" rx="7" ry="4" fill="#ffffff" stroke="#e2e2e2" stroke-width="0.8"/>
<g stroke="#d0d0d0" stroke-width="2" stroke-linecap="round"><path d="M199,583.5 l8,-3"/><path d="M281,579.5 l8,2"/><path d="M240,593 l9,2"/><path d="M231,571 l7,-2"/></g>
<g fill="#b0b0b0"><circle cx="223" cy="577" r="1.2"/><circle cx="258" cy="577" r="1.2"/><circle cx="229" cy="586.5" r="1.2"/><circle cx="266" cy="586" r="1.2"/></g>
<circle cx="218" cy="607.5" r="5.6" fill="none" stroke="#dcdcdc" stroke-width="1"/>
<ellipse cx="279" cy="607" rx="5" ry="6" fill="none" stroke="#d2d2d2" stroke-width="1"/>
<circle cx="255.8" cy="653" r="2" fill="#222"/>
<polygon points="256.0,660.0 268.0,657.5 271.0,660.5 259.0,663.5" fill="#cfcfc8" />
<g fill="#9a9a9a"><circle cx="58" cy="667" r="1.1"/><circle cx="89" cy="658" r="1.1"/><circle cx="116" cy="617" r="1.1"/><circle cx="205" cy="668" r="1.1"/><circle cx="218" cy="669.5" r="1.1"/><circle cx="234" cy="676" r="1.1"/><circle cx="192" cy="614.5" r="1.1"/><circle cx="398" cy="695" r="1.1"/><circle cx="444" cy="689.5" r="1.1"/><circle cx="349" cy="762" r="1.1"/><circle cx="265" cy="659" r="1.1"/></g>
</g>
<use href="#fix" transform="translate(505.2,6.8)"/>
<!-- ===== chains ===== --><g fill="none">
<rect x="-7.9" y="-2.1" width="15.8" height="4.2" rx="2.1" transform="translate(602.4,97.6) rotate(92)" fill="#fff" stroke="#747474" stroke-width="1.3"/><rect x="-7.9" y="-1.3" width="15.8" height="2.6" rx="1.3" transform="translate(601.9,110.9) rotate(92)" fill="#d8d8d8" stroke="#7c7c7c" stroke-width="0.9"/><rect x="-7.9" y="-3.2" width="15.8" height="6.4" rx="3.2" transform="translate(601.4,124.2) rotate(92)" fill="#fff" stroke="#747474" stroke-width="1.3"/><rect x="-7.9" y="-1.3" width="15.8" height="2.6" rx="1.3" transform="translate(601.0,137.5) rotate(92)" fill="#d8d8d8" stroke="#7c7c7c" stroke-width="0.9"/><rect x="-7.9" y="-3.2" width="15.8" height="6.4" rx="3.2" transform="translate(600.5,150.8) rotate(92)" fill="#fff" stroke="#747474" stroke-width="1.3"/><rect x="-7.9" y="-1.3" width="15.8" height="2.6" rx="1.3" transform="translate(599.9,164.1) rotate(92)" fill="#d8d8d8" stroke="#7c7c7c" stroke-width="0.9"/><rect x="-7.9" y="-3.2" width="15.8" height="6.4" rx="3.2" transform="translate(599.4,177.4) rotate(92)" fill="#fff" stroke="#747474" stroke-width="1.3"/><rect x="-7.9" y="-1.3" width="15.8" height="2.6" rx="1.3" transform="translate(598.9,190.7) rotate(92)" fill="#d8d8d8" stroke="#7c7c7c" stroke-width="0.9"/><rect x="-7.9" y="-3.2" width="15.8" height="6.4" rx="3.2" transform="translate(598.3,204.0) rotate(93)" fill="#fff" stroke="#747474" stroke-width="1.3"/><rect x="-7.9" y="-1.3" width="15.8" height="2.6" rx="1.3" transform="translate(597.7,217.3) rotate(93)" fill="#d8d8d8" stroke="#7c7c7c" stroke-width="0.9"/><rect x="-7.9" y="-3.2" width="15.8" height="6.4" rx="3.2" transform="translate(597.0,230.5) rotate(93)" fill="#fff" stroke="#747474" stroke-width="1.3"/><rect x="-7.9" y="-1.3" width="15.8" height="2.6" rx="1.3" transform="translate(596.3,243.8) rotate(93)" fill="#d8d8d8" stroke="#7c7c7c" stroke-width="0.9"/><rect x="-7.9" y="-3.2" width="15.8" height="6.4" rx="3.2" transform="translate(595.7,257.1) rotate(93)" fill="#fff" stroke="#747474" stroke-width="1.3"/>
<path d="M594.5,262 C593.5,268 597.5,272 596.5,277 M592.5,275 q-1.5,-3 0.5,-4" stroke="#777" stroke-width="1.3" fill="none" stroke-linecap="round"/>
<rect x="899.9" y="87" width="8.2" height="11.5" rx="3.4" fill="#fff" stroke="#777" stroke-width="1.3"/>
<rect x="901.6" y="95" width="3.6" height="21.5" rx="1.8" fill="#d8d8d8" stroke="#767676" stroke-width="1" transform="rotate(3 903.4 105.7)"/>
<rect x="897.5" y="114" width="9.8" height="22" rx="4.9" fill="#fff" stroke="#727272" stroke-width="1.6" transform="rotate(2 902.4 125)"/>
<rect x="900.1" y="133.5" width="3.6" height="20.5" rx="1.8" fill="#d8d8d8" stroke="#767676" stroke-width="1" transform="rotate(2.5 901.9 143.7)"/>
<rect x="896.8" y="150" width="9" height="20.5" rx="4.5" fill="#fff" stroke="#727272" stroke-width="1.6" transform="rotate(2 901.3 160)"/>
<circle cx="902.2" cy="171.8" r="2.8" fill="#fff" stroke="#888" stroke-width="1.2"/>
<path d="M900.5,173.5 L904.5,186.5 M897.8,184.5 q-2.8,-3 -1.2,-6" stroke="#777" stroke-width="1.3" stroke-linecap="round"/>
<rect x="-4.9" y="-2.5" width="9.8" height="5.0" rx="2.5" transform="translate(109.0,239.5) rotate(167)" fill="#fff" stroke="#7a7a7a" stroke-width="1.25"/><path d="M-4.4,0 H4.4" transform="translate(101.6,242.8) rotate(138)" stroke="#747474" stroke-width="1.8" stroke-linecap="round"/><rect x="-4.9" y="-2.5" width="9.8" height="5.0" rx="2.5" transform="translate(97.5,249.8) rotate(112)" fill="#fff" stroke="#7a7a7a" stroke-width="1.25"/><path d="M-4.4,0 H4.4" transform="translate(94.6,257.5) rotate(109)" stroke="#747474" stroke-width="1.8" stroke-linecap="round"/><rect x="-4.9" y="-2.5" width="9.8" height="5.0" rx="2.5" transform="translate(91.8,265.2) rotate(110)" fill="#fff" stroke="#7a7a7a" stroke-width="1.25"/><path d="M-4.4,0 H4.4" transform="translate(89.0,272.9) rotate(109)" stroke="#747474" stroke-width="1.8" stroke-linecap="round"/><rect x="-4.9" y="-2.5" width="9.8" height="5.0" rx="2.5" transform="translate(86.4,280.7) rotate(109)" fill="#fff" stroke="#7a7a7a" stroke-width="1.25"/><path d="M-4.4,0 H4.4" transform="translate(83.7,288.5) rotate(109)" stroke="#747474" stroke-width="1.8" stroke-linecap="round"/><rect x="-4.9" y="-2.5" width="9.8" height="5.0" rx="2.5" transform="translate(81.1,296.2) rotate(108)" fill="#fff" stroke="#7a7a7a" stroke-width="1.25"/><path d="M-4.4,0 H4.4" transform="translate(78.6,304.0) rotate(108)" stroke="#747474" stroke-width="1.8" stroke-linecap="round"/><rect x="-4.9" y="-2.5" width="9.8" height="5.0" rx="2.5" transform="translate(76.1,311.8) rotate(108)" fill="#fff" stroke="#7a7a7a" stroke-width="1.25"/><path d="M-4.4,0 H4.4" transform="translate(73.7,319.7) rotate(107)" stroke="#747474" stroke-width="1.8" stroke-linecap="round"/><rect x="-4.9" y="-2.5" width="9.8" height="5.0" rx="2.5" transform="translate(71.3,327.5) rotate(106)" fill="#fff" stroke="#7a7a7a" stroke-width="1.25"/><path d="M-4.4,0 H4.4" transform="translate(69.0,335.4) rotate(107)" stroke="#747474" stroke-width="1.8" stroke-linecap="round"/><rect x="-4.9" y="-2.5" width="9.8" height="5.0" rx="2.5" transform="translate(66.6,343.2) rotate(108)" fill="#fff" stroke="#7a7a7a" stroke-width="1.25"/><path d="M-4.4,0 H4.4" transform="translate(64.0,351.0) rotate(109)" stroke="#747474" stroke-width="1.8" stroke-linecap="round"/><rect x="-4.9" y="-2.5" width="9.8" height="5.0" rx="2.5" transform="translate(61.3,358.7) rotate(109)" fill="#fff" stroke="#7a7a7a" stroke-width="1.25"/>
<path d="M-4.4,0 H4.4" transform="translate(117.4,241.9) rotate(153)" stroke="#747474" stroke-width="1.8" stroke-linecap="round"/><rect x="-4.9" y="-2.5" width="9.8" height="5.0" rx="2.5" transform="translate(110.5,246.3) rotate(138)" fill="#fff" stroke="#7a7a7a" stroke-width="1.25"/><path d="M-4.4,0 H4.4" transform="translate(105.7,252.9) rotate(116)" stroke="#747474" stroke-width="1.8" stroke-linecap="round"/><rect x="-4.9" y="-2.5" width="9.8" height="5.0" rx="2.5" transform="translate(102.5,260.5) rotate(110)" fill="#fff" stroke="#7a7a7a" stroke-width="1.25"/><path d="M-4.4,0 H4.4" transform="translate(99.7,268.2) rotate(111)" stroke="#747474" stroke-width="1.8" stroke-linecap="round"/><rect x="-4.9" y="-2.5" width="9.8" height="5.0" rx="2.5" transform="translate(96.6,275.8) rotate(112)" fill="#fff" stroke="#7a7a7a" stroke-width="1.25"/><path d="M-4.4,0 H4.4" transform="translate(93.6,283.4) rotate(110)" stroke="#747474" stroke-width="1.8" stroke-linecap="round"/><rect x="-4.9" y="-2.5" width="9.8" height="5.0" rx="2.5" transform="translate(91.1,291.2) rotate(106)" fill="#fff" stroke="#7a7a7a" stroke-width="1.25"/><path d="M-4.4,0 H4.4" transform="translate(89.0,299.1) rotate(104)" stroke="#747474" stroke-width="1.8" stroke-linecap="round"/><rect x="-4.9" y="-2.5" width="9.8" height="5.0" rx="2.5" transform="translate(87.2,307.1) rotate(102)" fill="#fff" stroke="#7a7a7a" stroke-width="1.25"/><path d="M-4.4,0 H4.4" transform="translate(85.5,315.1) rotate(102)" stroke="#747474" stroke-width="1.8" stroke-linecap="round"/><rect x="-4.9" y="-2.5" width="9.8" height="5.0" rx="2.5" transform="translate(83.9,323.2) rotate(101)" fill="#fff" stroke="#7a7a7a" stroke-width="1.25"/><path d="M-4.4,0 H4.4" transform="translate(82.4,331.2) rotate(100)" stroke="#747474" stroke-width="1.8" stroke-linecap="round"/><rect x="-4.9" y="-2.5" width="9.8" height="5.0" rx="2.5" transform="translate(80.8,339.3) rotate(101)" fill="#fff" stroke="#7a7a7a" stroke-width="1.25"/><path d="M-4.4,0 H4.4" transform="translate(79.1,347.3) rotate(103)" stroke="#747474" stroke-width="1.8" stroke-linecap="round"/><rect x="-4.9" y="-2.5" width="9.8" height="5.0" rx="2.5" transform="translate(77.2,355.3) rotate(104)" fill="#fff" stroke="#7a7a7a" stroke-width="1.25"/>
<rect x="-6.0" y="-2.1" width="12.0" height="4.2" rx="2.1" transform="translate(116.7,236.9) rotate(-8)" fill="#fff" stroke="#7e7e7e" stroke-width="1.2"/><path d="M-5.5,0 H5.5" transform="translate(126.1,235.7) rotate(-8)" stroke="#858585" stroke-width="1.7" stroke-linecap="round"/><rect x="-6.0" y="-2.1" width="12.0" height="4.2" rx="2.1" transform="translate(135.5,234.4) rotate(-7)" fill="#fff" stroke="#7e7e7e" stroke-width="1.2"/><path d="M-5.5,0 H5.5" transform="translate(145.0,233.3) rotate(-6)" stroke="#858585" stroke-width="1.7" stroke-linecap="round"/><rect x="-6.0" y="-2.1" width="12.0" height="4.2" rx="2.1" transform="translate(154.4,232.4) rotate(-5)" fill="#fff" stroke="#7e7e7e" stroke-width="1.2"/><path d="M-5.5,0 H5.5" transform="translate(163.9,231.8) rotate(-2)" stroke="#858585" stroke-width="1.7" stroke-linecap="round"/><rect x="-6.0" y="-2.1" width="12.0" height="4.2" rx="2.1" transform="translate(173.4,231.7) rotate(-1)" fill="#fff" stroke="#7e7e7e" stroke-width="1.2"/>
<path d="M-4.4,0 H4.4" transform="translate(175.5,235.2) rotate(35)" stroke="#747474" stroke-width="1.8" stroke-linecap="round"/><rect x="-4.9" y="-2.5" width="9.8" height="5.0" rx="2.5" transform="translate(178.8,242.3) rotate(89)" fill="#fff" stroke="#7a7a7a" stroke-width="1.25"/><path d="M-4.4,0 H4.4" transform="translate(178.3,250.5) rotate(97)" stroke="#747474" stroke-width="1.8" stroke-linecap="round"/><rect x="-4.9" y="-2.5" width="9.8" height="5.0" rx="2.5" transform="translate(177.3,258.6) rotate(98)" fill="#fff" stroke="#7a7a7a" stroke-width="1.25"/><path d="M-4.4,0 H4.4" transform="translate(176.3,266.7) rotate(96)" stroke="#747474" stroke-width="1.8" stroke-linecap="round"/><rect x="-4.9" y="-2.5" width="9.8" height="5.0" rx="2.5" transform="translate(175.4,274.9) rotate(96)" fill="#fff" stroke="#7a7a7a" stroke-width="1.25"/><path d="M-4.4,0 H4.4" transform="translate(174.5,283.0) rotate(96)" stroke="#747474" stroke-width="1.8" stroke-linecap="round"/><rect x="-4.9" y="-2.5" width="9.8" height="5.0" rx="2.5" transform="translate(173.6,291.2) rotate(96)" fill="#fff" stroke="#7a7a7a" stroke-width="1.25"/><path d="M-4.4,0 H4.4" transform="translate(172.8,299.4) rotate(96)" stroke="#747474" stroke-width="1.8" stroke-linecap="round"/><rect x="-4.9" y="-2.5" width="9.8" height="5.0" rx="2.5" transform="translate(172.0,307.5) rotate(95)" fill="#fff" stroke="#7a7a7a" stroke-width="1.25"/><path d="M-4.4,0 H4.4" transform="translate(171.2,315.7) rotate(96)" stroke="#747474" stroke-width="1.8" stroke-linecap="round"/><rect x="-4.9" y="-2.5" width="9.8" height="5.0" rx="2.5" transform="translate(170.4,323.8) rotate(95)" fill="#fff" stroke="#7a7a7a" stroke-width="1.25"/><path d="M-4.4,0 H4.4" transform="translate(169.6,332.0) rotate(96)" stroke="#747474" stroke-width="1.8" stroke-linecap="round"/><rect x="-4.9" y="-2.5" width="9.8" height="5.0" rx="2.5" transform="translate(168.8,340.2) rotate(97)" fill="#fff" stroke="#7a7a7a" stroke-width="1.25"/><path d="M-4.4,0 H4.4" transform="translate(167.7,348.3) rotate(99)" stroke="#747474" stroke-width="1.8" stroke-linecap="round"/><rect x="-4.9" y="-2.5" width="9.8" height="5.0" rx="2.5" transform="translate(166.3,356.4) rotate(100)" fill="#fff" stroke="#7a7a7a" stroke-width="1.25"/>
<rect x="-4.9" y="-2.5" width="9.8" height="5.0" rx="2.5" transform="translate(181.9,233.7) rotate(30)" fill="#fff" stroke="#7a7a7a" stroke-width="1.25"/><path d="M-4.4,0 H4.4" transform="translate(185.2,240.9) rotate(84)" stroke="#747474" stroke-width="1.8" stroke-linecap="round"/><rect x="-4.9" y="-2.5" width="9.8" height="5.0" rx="2.5" transform="translate(185.7,249.1) rotate(88)" fill="#fff" stroke="#7a7a7a" stroke-width="1.25"/><path d="M-4.4,0 H4.4" transform="translate(185.9,257.3) rotate(90)" stroke="#747474" stroke-width="1.8" stroke-linecap="round"/><rect x="-4.9" y="-2.5" width="9.8" height="5.0" rx="2.5" transform="translate(185.9,265.5) rotate(90)" fill="#fff" stroke="#7a7a7a" stroke-width="1.25"/><path d="M-4.4,0 H4.4" transform="translate(185.7,273.7) rotate(92)" stroke="#747474" stroke-width="1.8" stroke-linecap="round"/><rect x="-4.9" y="-2.5" width="9.8" height="5.0" rx="2.5" transform="translate(185.3,281.9) rotate(94)" fill="#fff" stroke="#7a7a7a" stroke-width="1.25"/><path d="M-4.4,0 H4.4" transform="translate(184.6,290.0) rotate(95)" stroke="#747474" stroke-width="1.8" stroke-linecap="round"/><rect x="-4.9" y="-2.5" width="9.8" height="5.0" rx="2.5" transform="translate(183.9,298.2) rotate(95)" fill="#fff" stroke="#7a7a7a" stroke-width="1.25"/><path d="M-4.4,0 H4.4" transform="translate(183.2,306.4) rotate(96)" stroke="#747474" stroke-width="1.8" stroke-linecap="round"/><rect x="-4.9" y="-2.5" width="9.8" height="5.0" rx="2.5" transform="translate(182.4,314.5) rotate(95)" fill="#fff" stroke="#7a7a7a" stroke-width="1.25"/><path d="M-4.4,0 H4.4" transform="translate(181.6,322.7) rotate(94)" stroke="#747474" stroke-width="1.8" stroke-linecap="round"/><rect x="-4.9" y="-2.5" width="9.8" height="5.0" rx="2.5" transform="translate(181.1,330.9) rotate(93)" fill="#fff" stroke="#7a7a7a" stroke-width="1.25"/><path d="M-4.4,0 H4.4" transform="translate(180.6,339.1) rotate(93)" stroke="#747474" stroke-width="1.8" stroke-linecap="round"/><rect x="-4.9" y="-2.5" width="9.8" height="5.0" rx="2.5" transform="translate(180.2,347.3) rotate(93)" fill="#fff" stroke="#7a7a7a" stroke-width="1.25"/><path d="M-4.4,0 H4.4" transform="translate(179.8,355.4) rotate(92)" stroke="#747474" stroke-width="1.8" stroke-linecap="round"/>
<g stroke="#7c7c7c" stroke-width="1.1" stroke-linecap="round" fill="none"><path d="M60.5,360 C57,364 55.5,368 58.5,370 C61.5,371.5 65,369 65.5,365.5"/><path d="M76.5,357 C74.5,361 71.5,364 73.5,366.5 C76,368.5 79.5,366.5 80,362.5"/><path d="M165,361 C162.5,365 160.5,370 163.5,372.5 C166.5,374 170.5,372 171,368"/><path d="M179.5,357 C178.5,362 174.5,367 176.5,370.5 C179.5,372.5 183.5,370.5 184,366.5"/></g>
</g>
<g fill="none" stroke="#747474" stroke-width="1.4" stroke-linejoin="round" stroke-linecap="round"><path d="M235,333 V301.5 L273.4,286.5 L314.5,297 L321.4,322.5 q1.6,3.5 -0.6,3.8 q-1.8,-0.4 -1.6,-4.4"/><path d="M274.3,327 L274.8,300 L313,287 L356.5,299.4 L363.2,321.5 q1.8,4 -0.4,4.2 q-2,-0.4 -1.8,-5"/><path d="M235,326 V333 M274.3,320.5 V327 M320.6,319 l1.4,5 M362.4,318.5 l1.4,5" stroke="#666" stroke-width="2.2"/></g><path d="M743.2,501.5 H756.4 V592 Q749.8,596 743.2,592 Z" fill="url(#conduit)"/>
</svg>
<svg class="ov" width="1000" height="884" viewBox="0 0 1000 884">
<g font-family="'Liberation Sans', sans-serif" fill="#0c0c0c">
<text y="432.8" font-size="32.4" stroke="#0c0c0c" stroke-width="0.3"><tspan x="373.1" textLength="145.4" lengthAdjust="spacingAndGlyphs">Hanging</tspan> <tspan x="526.1" textLength="101.6" lengthAdjust="spacingAndGlyphs">Chain</tspan></text>
<text y="844.6" font-size="32"><tspan x="113.5" textLength="133.8" lengthAdjust="spacingAndGlyphs">Surface</tspan> <tspan x="255.9" textLength="105.0" lengthAdjust="spacingAndGlyphs">Mount</tspan></text>
<text y="876" font-size="23.3"><tspan x="133.2" textLength="60.4" lengthAdjust="spacingAndGlyphs">(Sold</tspan> <tspan x="200.3" textLength="142.7" lengthAdjust="spacingAndGlyphs">Separately)</tspan></text>
<text y="844.9" font-size="32"><tspan x="567.4" textLength="292.8" lengthAdjust="spacingAndGlyphs">Conduit/Pendant</tspan> <tspan x="867.8" textLength="103.3" lengthAdjust="spacingAndGlyphs">Mount</tspan></text>
<text y="875.6" font-size="23"><tspan x="577.0" textLength="215.4" lengthAdjust="spacingAndGlyphs">(Conduit/Pendant</tspan> <tspan x="800.3" textLength="42.5" lengthAdjust="spacingAndGlyphs">Not</tspan> <tspan x="849.5" textLength="114.0" lengthAdjust="spacingAndGlyphs">Included)</tspan></text>
</g>
</svg>
</body></html>
